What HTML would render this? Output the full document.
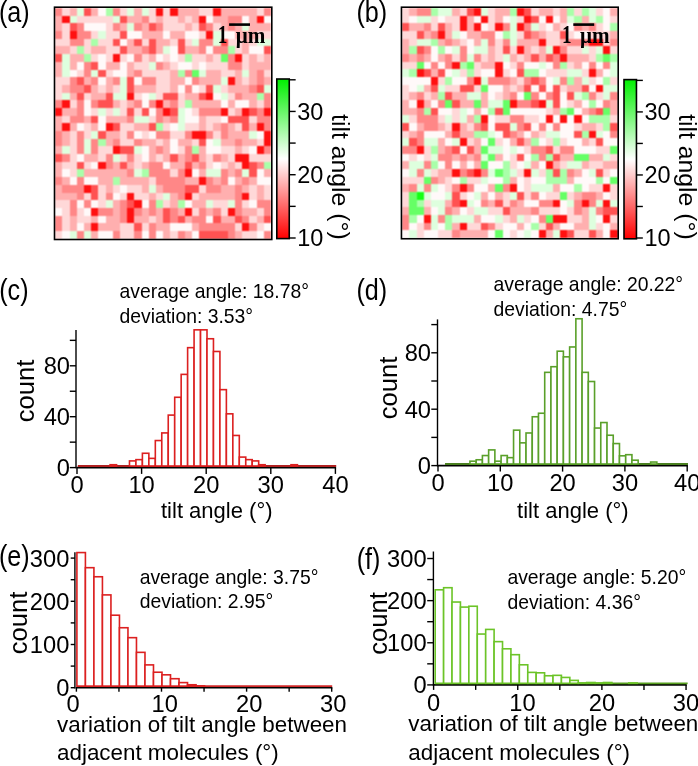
<!DOCTYPE html><html><head><meta charset="utf-8"><style>html,body{margin:0;padding:0;background:#fff;overflow:hidden}svg{display:block;will-change:transform}</style></head><body><svg width="698" height="766" viewBox="0 0 698 766">
<rect width="698" height="766" fill="#fff"/>
<text transform="translate(-1.10,22.40) scale(0.84,1)" font-family="Liberation Sans, sans-serif" font-size="30">(a)</text>
<text transform="translate(356.40,22.40) scale(0.84,1)" font-family="Liberation Sans, sans-serif" font-size="30">(b)</text>
<text transform="translate(-0.80,299.70) scale(0.84,1)" font-family="Liberation Sans, sans-serif" font-size="30">(c)</text>
<text transform="translate(356.40,299.70) scale(0.84,1)" font-family="Liberation Sans, sans-serif" font-size="30">(d)</text>
<text transform="translate(-1.10,565.50) scale(0.84,1)" font-family="Liberation Sans, sans-serif" font-size="30">(e)</text>
<text transform="translate(356.70,568.60) scale(0.84,1)" font-family="Liberation Sans, sans-serif" font-size="30">(f)</text>
<defs><filter id="blgridA" color-interpolation-filters="sRGB" x="-2%" y="-2%" width="104%" height="104%"><feConvolveMatrix order="3" kernelMatrix="1 2 1 2 4 2 1 2 1" divisor="16" edgeMode="duplicate"/></filter></defs>
<g shape-rendering="crispEdges" filter="url(#blgridA)">
<rect x="55.30" y="8.00" width="7.49" height="7.99" fill="#ff8787"/>
<rect x="62.49" y="8.00" width="7.49" height="7.99" fill="#ffd8d8"/>
<rect x="69.68" y="8.00" width="7.49" height="7.99" fill="#ffafaf"/>
<rect x="76.87" y="8.00" width="7.49" height="7.99" fill="#deffde"/>
<rect x="84.06" y="8.00" width="7.49" height="7.99" fill="#ff5252"/>
<rect x="91.25" y="8.00" width="7.49" height="7.99" fill="#ffafaf"/>
<rect x="98.44" y="8.00" width="7.49" height="7.99" fill="#fff9f9"/>
<rect x="105.63" y="8.00" width="7.49" height="7.99" fill="#a9ffa9"/>
<rect x="112.82" y="8.00" width="7.49" height="7.99" fill="#ff8787"/>
<rect x="120.01" y="8.00" width="7.49" height="7.99" fill="#ffd8d8"/>
<rect x="127.20" y="8.00" width="7.49" height="7.99" fill="#deffde"/>
<rect x="134.39" y="8.00" width="7.49" height="7.99" fill="#ffafaf"/>
<rect x="141.58" y="8.00" width="7.49" height="7.99" fill="#deffde"/>
<rect x="148.77" y="8.00" width="7.49" height="7.99" fill="#ffd8d8"/>
<rect x="155.96" y="8.00" width="7.49" height="7.99" fill="#ff1010"/>
<rect x="163.15" y="8.00" width="7.49" height="7.99" fill="#ffd8d8"/>
<rect x="170.34" y="8.00" width="7.49" height="7.99" fill="#ff1010"/>
<rect x="177.53" y="8.00" width="7.49" height="7.99" fill="#ffafaf"/>
<rect x="184.72" y="8.00" width="7.49" height="7.99" fill="#ffafaf"/>
<rect x="191.91" y="8.00" width="7.49" height="7.99" fill="#ffafaf"/>
<rect x="199.10" y="8.00" width="7.49" height="7.99" fill="#ffd8d8"/>
<rect x="206.29" y="8.00" width="7.49" height="7.99" fill="#ffd8d8"/>
<rect x="213.48" y="8.00" width="7.49" height="7.99" fill="#ff1010"/>
<rect x="220.67" y="8.00" width="7.49" height="7.99" fill="#ffafaf"/>
<rect x="227.86" y="8.00" width="7.49" height="7.99" fill="#ffafaf"/>
<rect x="235.05" y="8.00" width="7.49" height="7.99" fill="#ffafaf"/>
<rect x="242.24" y="8.00" width="7.49" height="7.99" fill="#ffafaf"/>
<rect x="249.43" y="8.00" width="7.49" height="7.99" fill="#ffafaf"/>
<rect x="256.62" y="8.00" width="7.49" height="7.99" fill="#ffd8d8"/>
<rect x="263.81" y="8.00" width="7.49" height="7.99" fill="#ff8787"/>
<rect x="55.30" y="15.69" width="7.49" height="7.99" fill="#ffafaf"/>
<rect x="62.49" y="15.69" width="7.49" height="7.99" fill="#ff1010"/>
<rect x="69.68" y="15.69" width="7.49" height="7.99" fill="#deffde"/>
<rect x="76.87" y="15.69" width="7.49" height="7.99" fill="#ffd8d8"/>
<rect x="84.06" y="15.69" width="7.49" height="7.99" fill="#ffd8d8"/>
<rect x="91.25" y="15.69" width="7.49" height="7.99" fill="#ffd8d8"/>
<rect x="98.44" y="15.69" width="7.49" height="7.99" fill="#ffd8d8"/>
<rect x="105.63" y="15.69" width="7.49" height="7.99" fill="#ffd8d8"/>
<rect x="112.82" y="15.69" width="7.49" height="7.99" fill="#deffde"/>
<rect x="120.01" y="15.69" width="7.49" height="7.99" fill="#ff5252"/>
<rect x="127.20" y="15.69" width="7.49" height="7.99" fill="#ffafaf"/>
<rect x="134.39" y="15.69" width="7.49" height="7.99" fill="#ffafaf"/>
<rect x="141.58" y="15.69" width="7.49" height="7.99" fill="#ff8787"/>
<rect x="148.77" y="15.69" width="7.49" height="7.99" fill="#ffd8d8"/>
<rect x="155.96" y="15.69" width="7.49" height="7.99" fill="#ffafaf"/>
<rect x="163.15" y="15.69" width="7.49" height="7.99" fill="#ffd8d8"/>
<rect x="170.34" y="15.69" width="7.49" height="7.99" fill="#ffd8d8"/>
<rect x="177.53" y="15.69" width="7.49" height="7.99" fill="#ffafaf"/>
<rect x="184.72" y="15.69" width="7.49" height="7.99" fill="#ffd8d8"/>
<rect x="191.91" y="15.69" width="7.49" height="7.99" fill="#ffafaf"/>
<rect x="199.10" y="15.69" width="7.49" height="7.99" fill="#ff1010"/>
<rect x="206.29" y="15.69" width="7.49" height="7.99" fill="#fff9f9"/>
<rect x="213.48" y="15.69" width="7.49" height="7.99" fill="#ffafaf"/>
<rect x="220.67" y="15.69" width="7.49" height="7.99" fill="#ffafaf"/>
<rect x="227.86" y="15.69" width="7.49" height="7.99" fill="#ff8787"/>
<rect x="235.05" y="15.69" width="7.49" height="7.99" fill="#ff8787"/>
<rect x="242.24" y="15.69" width="7.49" height="7.99" fill="#fff9f9"/>
<rect x="249.43" y="15.69" width="7.49" height="7.99" fill="#ffafaf"/>
<rect x="256.62" y="15.69" width="7.49" height="7.99" fill="#ff1010"/>
<rect x="263.81" y="15.69" width="7.49" height="7.99" fill="#fff9f9"/>
<rect x="55.30" y="23.38" width="7.49" height="7.99" fill="#ffafaf"/>
<rect x="62.49" y="23.38" width="7.49" height="7.99" fill="#ffd8d8"/>
<rect x="69.68" y="23.38" width="7.49" height="7.99" fill="#ff5252"/>
<rect x="76.87" y="23.38" width="7.49" height="7.99" fill="#ff8787"/>
<rect x="84.06" y="23.38" width="7.49" height="7.99" fill="#fff9f9"/>
<rect x="91.25" y="23.38" width="7.49" height="7.99" fill="#fff9f9"/>
<rect x="98.44" y="23.38" width="7.49" height="7.99" fill="#fff9f9"/>
<rect x="105.63" y="23.38" width="7.49" height="7.99" fill="#ffd8d8"/>
<rect x="112.82" y="23.38" width="7.49" height="7.99" fill="#ff8787"/>
<rect x="120.01" y="23.38" width="7.49" height="7.99" fill="#ffafaf"/>
<rect x="127.20" y="23.38" width="7.49" height="7.99" fill="#deffde"/>
<rect x="134.39" y="23.38" width="7.49" height="7.99" fill="#ff8787"/>
<rect x="141.58" y="23.38" width="7.49" height="7.99" fill="#ffafaf"/>
<rect x="148.77" y="23.38" width="7.49" height="7.99" fill="#ff5252"/>
<rect x="155.96" y="23.38" width="7.49" height="7.99" fill="#ff8787"/>
<rect x="163.15" y="23.38" width="7.49" height="7.99" fill="#ffd8d8"/>
<rect x="170.34" y="23.38" width="7.49" height="7.99" fill="#ffd8d8"/>
<rect x="177.53" y="23.38" width="7.49" height="7.99" fill="#ffd8d8"/>
<rect x="184.72" y="23.38" width="7.49" height="7.99" fill="#ffafaf"/>
<rect x="191.91" y="23.38" width="7.49" height="7.99" fill="#ffd8d8"/>
<rect x="199.10" y="23.38" width="7.49" height="7.99" fill="#ff5252"/>
<rect x="206.29" y="23.38" width="7.49" height="7.99" fill="#ff8787"/>
<rect x="213.48" y="23.38" width="7.49" height="7.99" fill="#ffd8d8"/>
<rect x="220.67" y="23.38" width="7.49" height="7.99" fill="#ffafaf"/>
<rect x="227.86" y="23.38" width="7.49" height="7.99" fill="#ff8787"/>
<rect x="235.05" y="23.38" width="7.49" height="7.99" fill="#ffafaf"/>
<rect x="242.24" y="23.38" width="7.49" height="7.99" fill="#deffde"/>
<rect x="249.43" y="23.38" width="7.49" height="7.99" fill="#ffafaf"/>
<rect x="256.62" y="23.38" width="7.49" height="7.99" fill="#ffafaf"/>
<rect x="263.81" y="23.38" width="7.49" height="7.99" fill="#ffafaf"/>
<rect x="55.30" y="31.07" width="7.49" height="7.99" fill="#ff8787"/>
<rect x="62.49" y="31.07" width="7.49" height="7.99" fill="#ffd8d8"/>
<rect x="69.68" y="31.07" width="7.49" height="7.99" fill="#ff1010"/>
<rect x="76.87" y="31.07" width="7.49" height="7.99" fill="#ff8787"/>
<rect x="84.06" y="31.07" width="7.49" height="7.99" fill="#ff8787"/>
<rect x="91.25" y="31.07" width="7.49" height="7.99" fill="#ffd8d8"/>
<rect x="98.44" y="31.07" width="7.49" height="7.99" fill="#deffde"/>
<rect x="105.63" y="31.07" width="7.49" height="7.99" fill="#ffd8d8"/>
<rect x="112.82" y="31.07" width="7.49" height="7.99" fill="#ffd8d8"/>
<rect x="120.01" y="31.07" width="7.49" height="7.99" fill="#ff5252"/>
<rect x="127.20" y="31.07" width="7.49" height="7.99" fill="#fff9f9"/>
<rect x="134.39" y="31.07" width="7.49" height="7.99" fill="#fff9f9"/>
<rect x="141.58" y="31.07" width="7.49" height="7.99" fill="#ffafaf"/>
<rect x="148.77" y="31.07" width="7.49" height="7.99" fill="#ffafaf"/>
<rect x="155.96" y="31.07" width="7.49" height="7.99" fill="#ffafaf"/>
<rect x="163.15" y="31.07" width="7.49" height="7.99" fill="#fff9f9"/>
<rect x="170.34" y="31.07" width="7.49" height="7.99" fill="#ffafaf"/>
<rect x="177.53" y="31.07" width="7.49" height="7.99" fill="#ffafaf"/>
<rect x="184.72" y="31.07" width="7.49" height="7.99" fill="#fff9f9"/>
<rect x="191.91" y="31.07" width="7.49" height="7.99" fill="#fff9f9"/>
<rect x="199.10" y="31.07" width="7.49" height="7.99" fill="#ffd8d8"/>
<rect x="206.29" y="31.07" width="7.49" height="7.99" fill="#ff1010"/>
<rect x="213.48" y="31.07" width="7.49" height="7.99" fill="#deffde"/>
<rect x="220.67" y="31.07" width="7.49" height="7.99" fill="#fff9f9"/>
<rect x="227.86" y="31.07" width="7.49" height="7.99" fill="#fff9f9"/>
<rect x="235.05" y="31.07" width="7.49" height="7.99" fill="#ffafaf"/>
<rect x="242.24" y="31.07" width="7.49" height="7.99" fill="#ffafaf"/>
<rect x="249.43" y="31.07" width="7.49" height="7.99" fill="#ffafaf"/>
<rect x="256.62" y="31.07" width="7.49" height="7.99" fill="#ffd8d8"/>
<rect x="263.81" y="31.07" width="7.49" height="7.99" fill="#ffd8d8"/>
<rect x="55.30" y="38.76" width="7.49" height="7.99" fill="#ffd8d8"/>
<rect x="62.49" y="38.76" width="7.49" height="7.99" fill="#ffd8d8"/>
<rect x="69.68" y="38.76" width="7.49" height="7.99" fill="#ff8787"/>
<rect x="76.87" y="38.76" width="7.49" height="7.99" fill="#ff8787"/>
<rect x="84.06" y="38.76" width="7.49" height="7.99" fill="#ffd8d8"/>
<rect x="91.25" y="38.76" width="7.49" height="7.99" fill="#a9ffa9"/>
<rect x="98.44" y="38.76" width="7.49" height="7.99" fill="#ffd8d8"/>
<rect x="105.63" y="38.76" width="7.49" height="7.99" fill="#ffd8d8"/>
<rect x="112.82" y="38.76" width="7.49" height="7.99" fill="#ff5252"/>
<rect x="120.01" y="38.76" width="7.49" height="7.99" fill="#fff9f9"/>
<rect x="127.20" y="38.76" width="7.49" height="7.99" fill="#ffafaf"/>
<rect x="134.39" y="38.76" width="7.49" height="7.99" fill="#ff5252"/>
<rect x="141.58" y="38.76" width="7.49" height="7.99" fill="#ffd8d8"/>
<rect x="148.77" y="38.76" width="7.49" height="7.99" fill="#ff5252"/>
<rect x="155.96" y="38.76" width="7.49" height="7.99" fill="#ffafaf"/>
<rect x="163.15" y="38.76" width="7.49" height="7.99" fill="#ffafaf"/>
<rect x="170.34" y="38.76" width="7.49" height="7.99" fill="#ffd8d8"/>
<rect x="177.53" y="38.76" width="7.49" height="7.99" fill="#ff5252"/>
<rect x="184.72" y="38.76" width="7.49" height="7.99" fill="#ffd8d8"/>
<rect x="191.91" y="38.76" width="7.49" height="7.99" fill="#deffde"/>
<rect x="199.10" y="38.76" width="7.49" height="7.99" fill="#ff8787"/>
<rect x="206.29" y="38.76" width="7.49" height="7.99" fill="#ff8787"/>
<rect x="213.48" y="38.76" width="7.49" height="7.99" fill="#deffde"/>
<rect x="220.67" y="38.76" width="7.49" height="7.99" fill="#ff5252"/>
<rect x="227.86" y="38.76" width="7.49" height="7.99" fill="#ffd8d8"/>
<rect x="235.05" y="38.76" width="7.49" height="7.99" fill="#ffd8d8"/>
<rect x="242.24" y="38.76" width="7.49" height="7.99" fill="#ffafaf"/>
<rect x="249.43" y="38.76" width="7.49" height="7.99" fill="#ffd8d8"/>
<rect x="256.62" y="38.76" width="7.49" height="7.99" fill="#deffde"/>
<rect x="263.81" y="38.76" width="7.49" height="7.99" fill="#deffde"/>
<rect x="55.30" y="46.45" width="7.49" height="7.99" fill="#ffafaf"/>
<rect x="62.49" y="46.45" width="7.49" height="7.99" fill="#ffafaf"/>
<rect x="69.68" y="46.45" width="7.49" height="7.99" fill="#ffd8d8"/>
<rect x="76.87" y="46.45" width="7.49" height="7.99" fill="#a9ffa9"/>
<rect x="84.06" y="46.45" width="7.49" height="7.99" fill="#ffd8d8"/>
<rect x="91.25" y="46.45" width="7.49" height="7.99" fill="#ffafaf"/>
<rect x="98.44" y="46.45" width="7.49" height="7.99" fill="#ffafaf"/>
<rect x="105.63" y="46.45" width="7.49" height="7.99" fill="#ffd8d8"/>
<rect x="112.82" y="46.45" width="7.49" height="7.99" fill="#ffd8d8"/>
<rect x="120.01" y="46.45" width="7.49" height="7.99" fill="#ff5252"/>
<rect x="127.20" y="46.45" width="7.49" height="7.99" fill="#ffafaf"/>
<rect x="134.39" y="46.45" width="7.49" height="7.99" fill="#ffafaf"/>
<rect x="141.58" y="46.45" width="7.49" height="7.99" fill="#ff8787"/>
<rect x="148.77" y="46.45" width="7.49" height="7.99" fill="#ff5252"/>
<rect x="155.96" y="46.45" width="7.49" height="7.99" fill="#ffafaf"/>
<rect x="163.15" y="46.45" width="7.49" height="7.99" fill="#deffde"/>
<rect x="170.34" y="46.45" width="7.49" height="7.99" fill="#fff9f9"/>
<rect x="177.53" y="46.45" width="7.49" height="7.99" fill="#ff5252"/>
<rect x="184.72" y="46.45" width="7.49" height="7.99" fill="#ffafaf"/>
<rect x="191.91" y="46.45" width="7.49" height="7.99" fill="#ffafaf"/>
<rect x="199.10" y="46.45" width="7.49" height="7.99" fill="#ff8787"/>
<rect x="206.29" y="46.45" width="7.49" height="7.99" fill="#fff9f9"/>
<rect x="213.48" y="46.45" width="7.49" height="7.99" fill="#ff8787"/>
<rect x="220.67" y="46.45" width="7.49" height="7.99" fill="#ff8787"/>
<rect x="227.86" y="46.45" width="7.49" height="7.99" fill="#a9ffa9"/>
<rect x="235.05" y="46.45" width="7.49" height="7.99" fill="#ffd8d8"/>
<rect x="242.24" y="46.45" width="7.49" height="7.99" fill="#ffafaf"/>
<rect x="249.43" y="46.45" width="7.49" height="7.99" fill="#fff9f9"/>
<rect x="256.62" y="46.45" width="7.49" height="7.99" fill="#fff9f9"/>
<rect x="263.81" y="46.45" width="7.49" height="7.99" fill="#ff5252"/>
<rect x="55.30" y="54.14" width="7.49" height="7.99" fill="#ff5252"/>
<rect x="62.49" y="54.14" width="7.49" height="7.99" fill="#deffde"/>
<rect x="69.68" y="54.14" width="7.49" height="7.99" fill="#ffafaf"/>
<rect x="76.87" y="54.14" width="7.49" height="7.99" fill="#ffafaf"/>
<rect x="84.06" y="54.14" width="7.49" height="7.99" fill="#a9ffa9"/>
<rect x="91.25" y="54.14" width="7.49" height="7.99" fill="#ffd8d8"/>
<rect x="98.44" y="54.14" width="7.49" height="7.99" fill="#fff9f9"/>
<rect x="105.63" y="54.14" width="7.49" height="7.99" fill="#ffd8d8"/>
<rect x="112.82" y="54.14" width="7.49" height="7.99" fill="#ff1010"/>
<rect x="120.01" y="54.14" width="7.49" height="7.99" fill="#ffd8d8"/>
<rect x="127.20" y="54.14" width="7.49" height="7.99" fill="#fff9f9"/>
<rect x="134.39" y="54.14" width="7.49" height="7.99" fill="#ff8787"/>
<rect x="141.58" y="54.14" width="7.49" height="7.99" fill="#ffd8d8"/>
<rect x="148.77" y="54.14" width="7.49" height="7.99" fill="#ffafaf"/>
<rect x="155.96" y="54.14" width="7.49" height="7.99" fill="#fff9f9"/>
<rect x="163.15" y="54.14" width="7.49" height="7.99" fill="#ffd8d8"/>
<rect x="170.34" y="54.14" width="7.49" height="7.99" fill="#fff9f9"/>
<rect x="177.53" y="54.14" width="7.49" height="7.99" fill="#ffd8d8"/>
<rect x="184.72" y="54.14" width="7.49" height="7.99" fill="#a9ffa9"/>
<rect x="191.91" y="54.14" width="7.49" height="7.99" fill="#ffd8d8"/>
<rect x="199.10" y="54.14" width="7.49" height="7.99" fill="#ffd8d8"/>
<rect x="206.29" y="54.14" width="7.49" height="7.99" fill="#ffafaf"/>
<rect x="213.48" y="54.14" width="7.49" height="7.99" fill="#ffd8d8"/>
<rect x="220.67" y="54.14" width="7.49" height="7.99" fill="#66ff66"/>
<rect x="227.86" y="54.14" width="7.49" height="7.99" fill="#ff8787"/>
<rect x="235.05" y="54.14" width="7.49" height="7.99" fill="#ff1010"/>
<rect x="242.24" y="54.14" width="7.49" height="7.99" fill="#ffd8d8"/>
<rect x="249.43" y="54.14" width="7.49" height="7.99" fill="#ffafaf"/>
<rect x="256.62" y="54.14" width="7.49" height="7.99" fill="#ffd8d8"/>
<rect x="263.81" y="54.14" width="7.49" height="7.99" fill="#ffafaf"/>
<rect x="55.30" y="61.83" width="7.49" height="7.99" fill="#ffafaf"/>
<rect x="62.49" y="61.83" width="7.49" height="7.99" fill="#deffde"/>
<rect x="69.68" y="61.83" width="7.49" height="7.99" fill="#ffafaf"/>
<rect x="76.87" y="61.83" width="7.49" height="7.99" fill="#fff9f9"/>
<rect x="84.06" y="61.83" width="7.49" height="7.99" fill="#ff8787"/>
<rect x="91.25" y="61.83" width="7.49" height="7.99" fill="#ff5252"/>
<rect x="98.44" y="61.83" width="7.49" height="7.99" fill="#fff9f9"/>
<rect x="105.63" y="61.83" width="7.49" height="7.99" fill="#ffafaf"/>
<rect x="112.82" y="61.83" width="7.49" height="7.99" fill="#ffafaf"/>
<rect x="120.01" y="61.83" width="7.49" height="7.99" fill="#fff9f9"/>
<rect x="127.20" y="61.83" width="7.49" height="7.99" fill="#ffafaf"/>
<rect x="134.39" y="61.83" width="7.49" height="7.99" fill="#ffd8d8"/>
<rect x="141.58" y="61.83" width="7.49" height="7.99" fill="#ffd8d8"/>
<rect x="148.77" y="61.83" width="7.49" height="7.99" fill="#deffde"/>
<rect x="155.96" y="61.83" width="7.49" height="7.99" fill="#ff8787"/>
<rect x="163.15" y="61.83" width="7.49" height="7.99" fill="#ffafaf"/>
<rect x="170.34" y="61.83" width="7.49" height="7.99" fill="#ffd8d8"/>
<rect x="177.53" y="61.83" width="7.49" height="7.99" fill="#fff9f9"/>
<rect x="184.72" y="61.83" width="7.49" height="7.99" fill="#fff9f9"/>
<rect x="191.91" y="61.83" width="7.49" height="7.99" fill="#ffd8d8"/>
<rect x="199.10" y="61.83" width="7.49" height="7.99" fill="#fff9f9"/>
<rect x="206.29" y="61.83" width="7.49" height="7.99" fill="#ffd8d8"/>
<rect x="213.48" y="61.83" width="7.49" height="7.99" fill="#ffd8d8"/>
<rect x="220.67" y="61.83" width="7.49" height="7.99" fill="#ffd8d8"/>
<rect x="227.86" y="61.83" width="7.49" height="7.99" fill="#ff8787"/>
<rect x="235.05" y="61.83" width="7.49" height="7.99" fill="#ff8787"/>
<rect x="242.24" y="61.83" width="7.49" height="7.99" fill="#ffd8d8"/>
<rect x="249.43" y="61.83" width="7.49" height="7.99" fill="#ffafaf"/>
<rect x="256.62" y="61.83" width="7.49" height="7.99" fill="#ffafaf"/>
<rect x="263.81" y="61.83" width="7.49" height="7.99" fill="#ffafaf"/>
<rect x="55.30" y="69.52" width="7.49" height="7.99" fill="#ffafaf"/>
<rect x="62.49" y="69.52" width="7.49" height="7.99" fill="#deffde"/>
<rect x="69.68" y="69.52" width="7.49" height="7.99" fill="#fff9f9"/>
<rect x="76.87" y="69.52" width="7.49" height="7.99" fill="#ffd8d8"/>
<rect x="84.06" y="69.52" width="7.49" height="7.99" fill="#ff8787"/>
<rect x="91.25" y="69.52" width="7.49" height="7.99" fill="#deffde"/>
<rect x="98.44" y="69.52" width="7.49" height="7.99" fill="#ff5252"/>
<rect x="105.63" y="69.52" width="7.49" height="7.99" fill="#ffd8d8"/>
<rect x="112.82" y="69.52" width="7.49" height="7.99" fill="#fff9f9"/>
<rect x="120.01" y="69.52" width="7.49" height="7.99" fill="#fff9f9"/>
<rect x="127.20" y="69.52" width="7.49" height="7.99" fill="#ffafaf"/>
<rect x="134.39" y="69.52" width="7.49" height="7.99" fill="#ff8787"/>
<rect x="141.58" y="69.52" width="7.49" height="7.99" fill="#ffd8d8"/>
<rect x="148.77" y="69.52" width="7.49" height="7.99" fill="#ffd8d8"/>
<rect x="155.96" y="69.52" width="7.49" height="7.99" fill="#ffd8d8"/>
<rect x="163.15" y="69.52" width="7.49" height="7.99" fill="#ffd8d8"/>
<rect x="170.34" y="69.52" width="7.49" height="7.99" fill="#ffafaf"/>
<rect x="177.53" y="69.52" width="7.49" height="7.99" fill="#a9ffa9"/>
<rect x="184.72" y="69.52" width="7.49" height="7.99" fill="#ff8787"/>
<rect x="191.91" y="69.52" width="7.49" height="7.99" fill="#66ff66"/>
<rect x="199.10" y="69.52" width="7.49" height="7.99" fill="#deffde"/>
<rect x="206.29" y="69.52" width="7.49" height="7.99" fill="#ffafaf"/>
<rect x="213.48" y="69.52" width="7.49" height="7.99" fill="#ffafaf"/>
<rect x="220.67" y="69.52" width="7.49" height="7.99" fill="#ffd8d8"/>
<rect x="227.86" y="69.52" width="7.49" height="7.99" fill="#ffd8d8"/>
<rect x="235.05" y="69.52" width="7.49" height="7.99" fill="#ffafaf"/>
<rect x="242.24" y="69.52" width="7.49" height="7.99" fill="#deffde"/>
<rect x="249.43" y="69.52" width="7.49" height="7.99" fill="#ffafaf"/>
<rect x="256.62" y="69.52" width="7.49" height="7.99" fill="#ff8787"/>
<rect x="263.81" y="69.52" width="7.49" height="7.99" fill="#ffd8d8"/>
<rect x="55.30" y="77.21" width="7.49" height="7.99" fill="#ffd8d8"/>
<rect x="62.49" y="77.21" width="7.49" height="7.99" fill="#ffd8d8"/>
<rect x="69.68" y="77.21" width="7.49" height="7.99" fill="#ff8787"/>
<rect x="76.87" y="77.21" width="7.49" height="7.99" fill="#ff5252"/>
<rect x="84.06" y="77.21" width="7.49" height="7.99" fill="#ffafaf"/>
<rect x="91.25" y="77.21" width="7.49" height="7.99" fill="#ff8787"/>
<rect x="98.44" y="77.21" width="7.49" height="7.99" fill="#fff9f9"/>
<rect x="105.63" y="77.21" width="7.49" height="7.99" fill="#ffafaf"/>
<rect x="112.82" y="77.21" width="7.49" height="7.99" fill="#ff8787"/>
<rect x="120.01" y="77.21" width="7.49" height="7.99" fill="#deffde"/>
<rect x="127.20" y="77.21" width="7.49" height="7.99" fill="#ff5252"/>
<rect x="134.39" y="77.21" width="7.49" height="7.99" fill="#fff9f9"/>
<rect x="141.58" y="77.21" width="7.49" height="7.99" fill="#ff8787"/>
<rect x="148.77" y="77.21" width="7.49" height="7.99" fill="#ff8787"/>
<rect x="155.96" y="77.21" width="7.49" height="7.99" fill="#ffd8d8"/>
<rect x="163.15" y="77.21" width="7.49" height="7.99" fill="#ffd8d8"/>
<rect x="170.34" y="77.21" width="7.49" height="7.99" fill="#ffafaf"/>
<rect x="177.53" y="77.21" width="7.49" height="7.99" fill="#ffafaf"/>
<rect x="184.72" y="77.21" width="7.49" height="7.99" fill="#fff9f9"/>
<rect x="191.91" y="77.21" width="7.49" height="7.99" fill="#ff8787"/>
<rect x="199.10" y="77.21" width="7.49" height="7.99" fill="#ffafaf"/>
<rect x="206.29" y="77.21" width="7.49" height="7.99" fill="#ffafaf"/>
<rect x="213.48" y="77.21" width="7.49" height="7.99" fill="#ffafaf"/>
<rect x="220.67" y="77.21" width="7.49" height="7.99" fill="#deffde"/>
<rect x="227.86" y="77.21" width="7.49" height="7.99" fill="#ff1010"/>
<rect x="235.05" y="77.21" width="7.49" height="7.99" fill="#ffafaf"/>
<rect x="242.24" y="77.21" width="7.49" height="7.99" fill="#ffd8d8"/>
<rect x="249.43" y="77.21" width="7.49" height="7.99" fill="#ffafaf"/>
<rect x="256.62" y="77.21" width="7.49" height="7.99" fill="#ff8787"/>
<rect x="263.81" y="77.21" width="7.49" height="7.99" fill="#ffafaf"/>
<rect x="55.30" y="84.90" width="7.49" height="7.99" fill="#ffd8d8"/>
<rect x="62.49" y="84.90" width="7.49" height="7.99" fill="#ffafaf"/>
<rect x="69.68" y="84.90" width="7.49" height="7.99" fill="#ff8787"/>
<rect x="76.87" y="84.90" width="7.49" height="7.99" fill="#ff8787"/>
<rect x="84.06" y="84.90" width="7.49" height="7.99" fill="#ff5252"/>
<rect x="91.25" y="84.90" width="7.49" height="7.99" fill="#ffafaf"/>
<rect x="98.44" y="84.90" width="7.49" height="7.99" fill="#ffd8d8"/>
<rect x="105.63" y="84.90" width="7.49" height="7.99" fill="#ffafaf"/>
<rect x="112.82" y="84.90" width="7.49" height="7.99" fill="#ffd8d8"/>
<rect x="120.01" y="84.90" width="7.49" height="7.99" fill="#deffde"/>
<rect x="127.20" y="84.90" width="7.49" height="7.99" fill="#ff5252"/>
<rect x="134.39" y="84.90" width="7.49" height="7.99" fill="#ffafaf"/>
<rect x="141.58" y="84.90" width="7.49" height="7.99" fill="#ffafaf"/>
<rect x="148.77" y="84.90" width="7.49" height="7.99" fill="#ffafaf"/>
<rect x="155.96" y="84.90" width="7.49" height="7.99" fill="#ffd8d8"/>
<rect x="163.15" y="84.90" width="7.49" height="7.99" fill="#ffd8d8"/>
<rect x="170.34" y="84.90" width="7.49" height="7.99" fill="#ffafaf"/>
<rect x="177.53" y="84.90" width="7.49" height="7.99" fill="#fff9f9"/>
<rect x="184.72" y="84.90" width="7.49" height="7.99" fill="#ff8787"/>
<rect x="191.91" y="84.90" width="7.49" height="7.99" fill="#fff9f9"/>
<rect x="199.10" y="84.90" width="7.49" height="7.99" fill="#ffd8d8"/>
<rect x="206.29" y="84.90" width="7.49" height="7.99" fill="#ff5252"/>
<rect x="213.48" y="84.90" width="7.49" height="7.99" fill="#deffde"/>
<rect x="220.67" y="84.90" width="7.49" height="7.99" fill="#ffd8d8"/>
<rect x="227.86" y="84.90" width="7.49" height="7.99" fill="#ffafaf"/>
<rect x="235.05" y="84.90" width="7.49" height="7.99" fill="#ffafaf"/>
<rect x="242.24" y="84.90" width="7.49" height="7.99" fill="#ffafaf"/>
<rect x="249.43" y="84.90" width="7.49" height="7.99" fill="#ff8787"/>
<rect x="256.62" y="84.90" width="7.49" height="7.99" fill="#ff5252"/>
<rect x="263.81" y="84.90" width="7.49" height="7.99" fill="#deffde"/>
<rect x="55.30" y="92.59" width="7.49" height="7.99" fill="#ffd8d8"/>
<rect x="62.49" y="92.59" width="7.49" height="7.99" fill="#deffde"/>
<rect x="69.68" y="92.59" width="7.49" height="7.99" fill="#ffafaf"/>
<rect x="76.87" y="92.59" width="7.49" height="7.99" fill="#ff5252"/>
<rect x="84.06" y="92.59" width="7.49" height="7.99" fill="#ffd8d8"/>
<rect x="91.25" y="92.59" width="7.49" height="7.99" fill="#ffafaf"/>
<rect x="98.44" y="92.59" width="7.49" height="7.99" fill="#ffafaf"/>
<rect x="105.63" y="92.59" width="7.49" height="7.99" fill="#ff5252"/>
<rect x="112.82" y="92.59" width="7.49" height="7.99" fill="#deffde"/>
<rect x="120.01" y="92.59" width="7.49" height="7.99" fill="#deffde"/>
<rect x="127.20" y="92.59" width="7.49" height="7.99" fill="#ff1010"/>
<rect x="134.39" y="92.59" width="7.49" height="7.99" fill="#ffd8d8"/>
<rect x="141.58" y="92.59" width="7.49" height="7.99" fill="#fff9f9"/>
<rect x="148.77" y="92.59" width="7.49" height="7.99" fill="#deffde"/>
<rect x="155.96" y="92.59" width="7.49" height="7.99" fill="#ffd8d8"/>
<rect x="163.15" y="92.59" width="7.49" height="7.99" fill="#ff5252"/>
<rect x="170.34" y="92.59" width="7.49" height="7.99" fill="#ff5252"/>
<rect x="177.53" y="92.59" width="7.49" height="7.99" fill="#ffd8d8"/>
<rect x="184.72" y="92.59" width="7.49" height="7.99" fill="#ffafaf"/>
<rect x="191.91" y="92.59" width="7.49" height="7.99" fill="#ffafaf"/>
<rect x="199.10" y="92.59" width="7.49" height="7.99" fill="#ff5252"/>
<rect x="206.29" y="92.59" width="7.49" height="7.99" fill="#ff1010"/>
<rect x="213.48" y="92.59" width="7.49" height="7.99" fill="#fff9f9"/>
<rect x="220.67" y="92.59" width="7.49" height="7.99" fill="#deffde"/>
<rect x="227.86" y="92.59" width="7.49" height="7.99" fill="#ffd8d8"/>
<rect x="235.05" y="92.59" width="7.49" height="7.99" fill="#ff8787"/>
<rect x="242.24" y="92.59" width="7.49" height="7.99" fill="#ffafaf"/>
<rect x="249.43" y="92.59" width="7.49" height="7.99" fill="#ffafaf"/>
<rect x="256.62" y="92.59" width="7.49" height="7.99" fill="#a9ffa9"/>
<rect x="263.81" y="92.59" width="7.49" height="7.99" fill="#ff8787"/>
<rect x="55.30" y="100.28" width="7.49" height="7.99" fill="#ff8787"/>
<rect x="62.49" y="100.28" width="7.49" height="7.99" fill="#ff1010"/>
<rect x="69.68" y="100.28" width="7.49" height="7.99" fill="#ffd8d8"/>
<rect x="76.87" y="100.28" width="7.49" height="7.99" fill="#ff8787"/>
<rect x="84.06" y="100.28" width="7.49" height="7.99" fill="#fff9f9"/>
<rect x="91.25" y="100.28" width="7.49" height="7.99" fill="#ff8787"/>
<rect x="98.44" y="100.28" width="7.49" height="7.99" fill="#ff5252"/>
<rect x="105.63" y="100.28" width="7.49" height="7.99" fill="#ff5252"/>
<rect x="112.82" y="100.28" width="7.49" height="7.99" fill="#ffafaf"/>
<rect x="120.01" y="100.28" width="7.49" height="7.99" fill="#ffd8d8"/>
<rect x="127.20" y="100.28" width="7.49" height="7.99" fill="#ffafaf"/>
<rect x="134.39" y="100.28" width="7.49" height="7.99" fill="#ff8787"/>
<rect x="141.58" y="100.28" width="7.49" height="7.99" fill="#fff9f9"/>
<rect x="148.77" y="100.28" width="7.49" height="7.99" fill="#ff8787"/>
<rect x="155.96" y="100.28" width="7.49" height="7.99" fill="#ff1010"/>
<rect x="163.15" y="100.28" width="7.49" height="7.99" fill="#ffafaf"/>
<rect x="170.34" y="100.28" width="7.49" height="7.99" fill="#ff8787"/>
<rect x="177.53" y="100.28" width="7.49" height="7.99" fill="#ffd8d8"/>
<rect x="184.72" y="100.28" width="7.49" height="7.99" fill="#a9ffa9"/>
<rect x="191.91" y="100.28" width="7.49" height="7.99" fill="#ffafaf"/>
<rect x="199.10" y="100.28" width="7.49" height="7.99" fill="#ffafaf"/>
<rect x="206.29" y="100.28" width="7.49" height="7.99" fill="#ffafaf"/>
<rect x="213.48" y="100.28" width="7.49" height="7.99" fill="#ffafaf"/>
<rect x="220.67" y="100.28" width="7.49" height="7.99" fill="#fff9f9"/>
<rect x="227.86" y="100.28" width="7.49" height="7.99" fill="#ffafaf"/>
<rect x="235.05" y="100.28" width="7.49" height="7.99" fill="#fff9f9"/>
<rect x="242.24" y="100.28" width="7.49" height="7.99" fill="#fff9f9"/>
<rect x="249.43" y="100.28" width="7.49" height="7.99" fill="#ffafaf"/>
<rect x="256.62" y="100.28" width="7.49" height="7.99" fill="#ffd8d8"/>
<rect x="263.81" y="100.28" width="7.49" height="7.99" fill="#ff8787"/>
<rect x="55.30" y="107.97" width="7.49" height="7.99" fill="#ff1010"/>
<rect x="62.49" y="107.97" width="7.49" height="7.99" fill="#ffafaf"/>
<rect x="69.68" y="107.97" width="7.49" height="7.99" fill="#ffafaf"/>
<rect x="76.87" y="107.97" width="7.49" height="7.99" fill="#ff8787"/>
<rect x="84.06" y="107.97" width="7.49" height="7.99" fill="#fff9f9"/>
<rect x="91.25" y="107.97" width="7.49" height="7.99" fill="#ffd8d8"/>
<rect x="98.44" y="107.97" width="7.49" height="7.99" fill="#deffde"/>
<rect x="105.63" y="107.97" width="7.49" height="7.99" fill="#ffd8d8"/>
<rect x="112.82" y="107.97" width="7.49" height="7.99" fill="#deffde"/>
<rect x="120.01" y="107.97" width="7.49" height="7.99" fill="#ffd8d8"/>
<rect x="127.20" y="107.97" width="7.49" height="7.99" fill="#ff5252"/>
<rect x="134.39" y="107.97" width="7.49" height="7.99" fill="#ffd8d8"/>
<rect x="141.58" y="107.97" width="7.49" height="7.99" fill="#ff5252"/>
<rect x="148.77" y="107.97" width="7.49" height="7.99" fill="#fff9f9"/>
<rect x="155.96" y="107.97" width="7.49" height="7.99" fill="#ff8787"/>
<rect x="163.15" y="107.97" width="7.49" height="7.99" fill="#ff1010"/>
<rect x="170.34" y="107.97" width="7.49" height="7.99" fill="#ff5252"/>
<rect x="177.53" y="107.97" width="7.49" height="7.99" fill="#deffde"/>
<rect x="184.72" y="107.97" width="7.49" height="7.99" fill="#fff9f9"/>
<rect x="191.91" y="107.97" width="7.49" height="7.99" fill="#ffd8d8"/>
<rect x="199.10" y="107.97" width="7.49" height="7.99" fill="#ff8787"/>
<rect x="206.29" y="107.97" width="7.49" height="7.99" fill="#ff8787"/>
<rect x="213.48" y="107.97" width="7.49" height="7.99" fill="#ff8787"/>
<rect x="220.67" y="107.97" width="7.49" height="7.99" fill="#ff1010"/>
<rect x="227.86" y="107.97" width="7.49" height="7.99" fill="#ffd8d8"/>
<rect x="235.05" y="107.97" width="7.49" height="7.99" fill="#ffafaf"/>
<rect x="242.24" y="107.97" width="7.49" height="7.99" fill="#ff1010"/>
<rect x="249.43" y="107.97" width="7.49" height="7.99" fill="#ff5252"/>
<rect x="256.62" y="107.97" width="7.49" height="7.99" fill="#ff8787"/>
<rect x="263.81" y="107.97" width="7.49" height="7.99" fill="#ff1010"/>
<rect x="55.30" y="115.66" width="7.49" height="7.99" fill="#ffafaf"/>
<rect x="62.49" y="115.66" width="7.49" height="7.99" fill="#ffd8d8"/>
<rect x="69.68" y="115.66" width="7.49" height="7.99" fill="#ff8787"/>
<rect x="76.87" y="115.66" width="7.49" height="7.99" fill="#ff8787"/>
<rect x="84.06" y="115.66" width="7.49" height="7.99" fill="#ffafaf"/>
<rect x="91.25" y="115.66" width="7.49" height="7.99" fill="#ff5252"/>
<rect x="98.44" y="115.66" width="7.49" height="7.99" fill="#fff9f9"/>
<rect x="105.63" y="115.66" width="7.49" height="7.99" fill="#ffafaf"/>
<rect x="112.82" y="115.66" width="7.49" height="7.99" fill="#ffafaf"/>
<rect x="120.01" y="115.66" width="7.49" height="7.99" fill="#ffafaf"/>
<rect x="127.20" y="115.66" width="7.49" height="7.99" fill="#ff8787"/>
<rect x="134.39" y="115.66" width="7.49" height="7.99" fill="#deffde"/>
<rect x="141.58" y="115.66" width="7.49" height="7.99" fill="#deffde"/>
<rect x="148.77" y="115.66" width="7.49" height="7.99" fill="#ffd8d8"/>
<rect x="155.96" y="115.66" width="7.49" height="7.99" fill="#ff8787"/>
<rect x="163.15" y="115.66" width="7.49" height="7.99" fill="#ffafaf"/>
<rect x="170.34" y="115.66" width="7.49" height="7.99" fill="#ff8787"/>
<rect x="177.53" y="115.66" width="7.49" height="7.99" fill="#deffde"/>
<rect x="184.72" y="115.66" width="7.49" height="7.99" fill="#fff9f9"/>
<rect x="191.91" y="115.66" width="7.49" height="7.99" fill="#fff9f9"/>
<rect x="199.10" y="115.66" width="7.49" height="7.99" fill="#ffafaf"/>
<rect x="206.29" y="115.66" width="7.49" height="7.99" fill="#ffd8d8"/>
<rect x="213.48" y="115.66" width="7.49" height="7.99" fill="#ffd8d8"/>
<rect x="220.67" y="115.66" width="7.49" height="7.99" fill="#fff9f9"/>
<rect x="227.86" y="115.66" width="7.49" height="7.99" fill="#ff5252"/>
<rect x="235.05" y="115.66" width="7.49" height="7.99" fill="#ff5252"/>
<rect x="242.24" y="115.66" width="7.49" height="7.99" fill="#ff5252"/>
<rect x="249.43" y="115.66" width="7.49" height="7.99" fill="#ffd8d8"/>
<rect x="256.62" y="115.66" width="7.49" height="7.99" fill="#ff8787"/>
<rect x="263.81" y="115.66" width="7.49" height="7.99" fill="#ff8787"/>
<rect x="55.30" y="123.35" width="7.49" height="7.99" fill="#ffafaf"/>
<rect x="62.49" y="123.35" width="7.49" height="7.99" fill="#ff1010"/>
<rect x="69.68" y="123.35" width="7.49" height="7.99" fill="#ffafaf"/>
<rect x="76.87" y="123.35" width="7.49" height="7.99" fill="#fff9f9"/>
<rect x="84.06" y="123.35" width="7.49" height="7.99" fill="#ffd8d8"/>
<rect x="91.25" y="123.35" width="7.49" height="7.99" fill="#ffafaf"/>
<rect x="98.44" y="123.35" width="7.49" height="7.99" fill="#fff9f9"/>
<rect x="105.63" y="123.35" width="7.49" height="7.99" fill="#ff1010"/>
<rect x="112.82" y="123.35" width="7.49" height="7.99" fill="#ff5252"/>
<rect x="120.01" y="123.35" width="7.49" height="7.99" fill="#ffd8d8"/>
<rect x="127.20" y="123.35" width="7.49" height="7.99" fill="#ffd8d8"/>
<rect x="134.39" y="123.35" width="7.49" height="7.99" fill="#ffafaf"/>
<rect x="141.58" y="123.35" width="7.49" height="7.99" fill="#ffafaf"/>
<rect x="148.77" y="123.35" width="7.49" height="7.99" fill="#ff5252"/>
<rect x="155.96" y="123.35" width="7.49" height="7.99" fill="#a9ffa9"/>
<rect x="163.15" y="123.35" width="7.49" height="7.99" fill="#ffd8d8"/>
<rect x="170.34" y="123.35" width="7.49" height="7.99" fill="#fff9f9"/>
<rect x="177.53" y="123.35" width="7.49" height="7.99" fill="#deffde"/>
<rect x="184.72" y="123.35" width="7.49" height="7.99" fill="#ffd8d8"/>
<rect x="191.91" y="123.35" width="7.49" height="7.99" fill="#ffd8d8"/>
<rect x="199.10" y="123.35" width="7.49" height="7.99" fill="#ffafaf"/>
<rect x="206.29" y="123.35" width="7.49" height="7.99" fill="#ffd8d8"/>
<rect x="213.48" y="123.35" width="7.49" height="7.99" fill="#ffafaf"/>
<rect x="220.67" y="123.35" width="7.49" height="7.99" fill="#ff8787"/>
<rect x="227.86" y="123.35" width="7.49" height="7.99" fill="#ffafaf"/>
<rect x="235.05" y="123.35" width="7.49" height="7.99" fill="#ffd8d8"/>
<rect x="242.24" y="123.35" width="7.49" height="7.99" fill="#ff5252"/>
<rect x="249.43" y="123.35" width="7.49" height="7.99" fill="#ffafaf"/>
<rect x="256.62" y="123.35" width="7.49" height="7.99" fill="#ff1010"/>
<rect x="263.81" y="123.35" width="7.49" height="7.99" fill="#ff8787"/>
<rect x="55.30" y="131.04" width="7.49" height="7.99" fill="#ff8787"/>
<rect x="62.49" y="131.04" width="7.49" height="7.99" fill="#ffafaf"/>
<rect x="69.68" y="131.04" width="7.49" height="7.99" fill="#ffd8d8"/>
<rect x="76.87" y="131.04" width="7.49" height="7.99" fill="#ff8787"/>
<rect x="84.06" y="131.04" width="7.49" height="7.99" fill="#ffd8d8"/>
<rect x="91.25" y="131.04" width="7.49" height="7.99" fill="#deffde"/>
<rect x="98.44" y="131.04" width="7.49" height="7.99" fill="#ff5252"/>
<rect x="105.63" y="131.04" width="7.49" height="7.99" fill="#ffafaf"/>
<rect x="112.82" y="131.04" width="7.49" height="7.99" fill="#ffafaf"/>
<rect x="120.01" y="131.04" width="7.49" height="7.99" fill="#ffd8d8"/>
<rect x="127.20" y="131.04" width="7.49" height="7.99" fill="#ff8787"/>
<rect x="134.39" y="131.04" width="7.49" height="7.99" fill="#fff9f9"/>
<rect x="141.58" y="131.04" width="7.49" height="7.99" fill="#ffd8d8"/>
<rect x="148.77" y="131.04" width="7.49" height="7.99" fill="#fff9f9"/>
<rect x="155.96" y="131.04" width="7.49" height="7.99" fill="#ff8787"/>
<rect x="163.15" y="131.04" width="7.49" height="7.99" fill="#ff8787"/>
<rect x="170.34" y="131.04" width="7.49" height="7.99" fill="#ffd8d8"/>
<rect x="177.53" y="131.04" width="7.49" height="7.99" fill="#ffd8d8"/>
<rect x="184.72" y="131.04" width="7.49" height="7.99" fill="#ff8787"/>
<rect x="191.91" y="131.04" width="7.49" height="7.99" fill="#ff1010"/>
<rect x="199.10" y="131.04" width="7.49" height="7.99" fill="#ff1010"/>
<rect x="206.29" y="131.04" width="7.49" height="7.99" fill="#ff8787"/>
<rect x="213.48" y="131.04" width="7.49" height="7.99" fill="#ffd8d8"/>
<rect x="220.67" y="131.04" width="7.49" height="7.99" fill="#ff8787"/>
<rect x="227.86" y="131.04" width="7.49" height="7.99" fill="#ffafaf"/>
<rect x="235.05" y="131.04" width="7.49" height="7.99" fill="#ffafaf"/>
<rect x="242.24" y="131.04" width="7.49" height="7.99" fill="#ffafaf"/>
<rect x="249.43" y="131.04" width="7.49" height="7.99" fill="#deffde"/>
<rect x="256.62" y="131.04" width="7.49" height="7.99" fill="#fff9f9"/>
<rect x="263.81" y="131.04" width="7.49" height="7.99" fill="#ff1010"/>
<rect x="55.30" y="138.73" width="7.49" height="7.99" fill="#ff8787"/>
<rect x="62.49" y="138.73" width="7.49" height="7.99" fill="#ffafaf"/>
<rect x="69.68" y="138.73" width="7.49" height="7.99" fill="#ffd8d8"/>
<rect x="76.87" y="138.73" width="7.49" height="7.99" fill="#ff8787"/>
<rect x="84.06" y="138.73" width="7.49" height="7.99" fill="#deffde"/>
<rect x="91.25" y="138.73" width="7.49" height="7.99" fill="#ff8787"/>
<rect x="98.44" y="138.73" width="7.49" height="7.99" fill="#a9ffa9"/>
<rect x="105.63" y="138.73" width="7.49" height="7.99" fill="#ffafaf"/>
<rect x="112.82" y="138.73" width="7.49" height="7.99" fill="#ff8787"/>
<rect x="120.01" y="138.73" width="7.49" height="7.99" fill="#ffd8d8"/>
<rect x="127.20" y="138.73" width="7.49" height="7.99" fill="#ffd8d8"/>
<rect x="134.39" y="138.73" width="7.49" height="7.99" fill="#ff8787"/>
<rect x="141.58" y="138.73" width="7.49" height="7.99" fill="#ffafaf"/>
<rect x="148.77" y="138.73" width="7.49" height="7.99" fill="#ffafaf"/>
<rect x="155.96" y="138.73" width="7.49" height="7.99" fill="#ffd8d8"/>
<rect x="163.15" y="138.73" width="7.49" height="7.99" fill="#ffafaf"/>
<rect x="170.34" y="138.73" width="7.49" height="7.99" fill="#fff9f9"/>
<rect x="177.53" y="138.73" width="7.49" height="7.99" fill="#ffafaf"/>
<rect x="184.72" y="138.73" width="7.49" height="7.99" fill="#ffafaf"/>
<rect x="191.91" y="138.73" width="7.49" height="7.99" fill="#ffd8d8"/>
<rect x="199.10" y="138.73" width="7.49" height="7.99" fill="#ff5252"/>
<rect x="206.29" y="138.73" width="7.49" height="7.99" fill="#fff9f9"/>
<rect x="213.48" y="138.73" width="7.49" height="7.99" fill="#deffde"/>
<rect x="220.67" y="138.73" width="7.49" height="7.99" fill="#ffafaf"/>
<rect x="227.86" y="138.73" width="7.49" height="7.99" fill="#ffafaf"/>
<rect x="235.05" y="138.73" width="7.49" height="7.99" fill="#ff8787"/>
<rect x="242.24" y="138.73" width="7.49" height="7.99" fill="#ffafaf"/>
<rect x="249.43" y="138.73" width="7.49" height="7.99" fill="#ffafaf"/>
<rect x="256.62" y="138.73" width="7.49" height="7.99" fill="#ffd8d8"/>
<rect x="263.81" y="138.73" width="7.49" height="7.99" fill="#ff1010"/>
<rect x="55.30" y="146.42" width="7.49" height="7.99" fill="#ffafaf"/>
<rect x="62.49" y="146.42" width="7.49" height="7.99" fill="#deffde"/>
<rect x="69.68" y="146.42" width="7.49" height="7.99" fill="#ffd8d8"/>
<rect x="76.87" y="146.42" width="7.49" height="7.99" fill="#ff8787"/>
<rect x="84.06" y="146.42" width="7.49" height="7.99" fill="#deffde"/>
<rect x="91.25" y="146.42" width="7.49" height="7.99" fill="#ff8787"/>
<rect x="98.44" y="146.42" width="7.49" height="7.99" fill="#ffd8d8"/>
<rect x="105.63" y="146.42" width="7.49" height="7.99" fill="#ffd8d8"/>
<rect x="112.82" y="146.42" width="7.49" height="7.99" fill="#ff1010"/>
<rect x="120.01" y="146.42" width="7.49" height="7.99" fill="#ff5252"/>
<rect x="127.20" y="146.42" width="7.49" height="7.99" fill="#ff5252"/>
<rect x="134.39" y="146.42" width="7.49" height="7.99" fill="#deffde"/>
<rect x="141.58" y="146.42" width="7.49" height="7.99" fill="#fff9f9"/>
<rect x="148.77" y="146.42" width="7.49" height="7.99" fill="#ffafaf"/>
<rect x="155.96" y="146.42" width="7.49" height="7.99" fill="#ff8787"/>
<rect x="163.15" y="146.42" width="7.49" height="7.99" fill="#ffafaf"/>
<rect x="170.34" y="146.42" width="7.49" height="7.99" fill="#fff9f9"/>
<rect x="177.53" y="146.42" width="7.49" height="7.99" fill="#ffd8d8"/>
<rect x="184.72" y="146.42" width="7.49" height="7.99" fill="#ff8787"/>
<rect x="191.91" y="146.42" width="7.49" height="7.99" fill="#a9ffa9"/>
<rect x="199.10" y="146.42" width="7.49" height="7.99" fill="#ffafaf"/>
<rect x="206.29" y="146.42" width="7.49" height="7.99" fill="#fff9f9"/>
<rect x="213.48" y="146.42" width="7.49" height="7.99" fill="#fff9f9"/>
<rect x="220.67" y="146.42" width="7.49" height="7.99" fill="#ffd8d8"/>
<rect x="227.86" y="146.42" width="7.49" height="7.99" fill="#ffd8d8"/>
<rect x="235.05" y="146.42" width="7.49" height="7.99" fill="#ffafaf"/>
<rect x="242.24" y="146.42" width="7.49" height="7.99" fill="#ffd8d8"/>
<rect x="249.43" y="146.42" width="7.49" height="7.99" fill="#fff9f9"/>
<rect x="256.62" y="146.42" width="7.49" height="7.99" fill="#ff1010"/>
<rect x="263.81" y="146.42" width="7.49" height="7.99" fill="#ff8787"/>
<rect x="55.30" y="154.11" width="7.49" height="7.99" fill="#ff5252"/>
<rect x="62.49" y="154.11" width="7.49" height="7.99" fill="#ff8787"/>
<rect x="69.68" y="154.11" width="7.49" height="7.99" fill="#ffd8d8"/>
<rect x="76.87" y="154.11" width="7.49" height="7.99" fill="#fff9f9"/>
<rect x="84.06" y="154.11" width="7.49" height="7.99" fill="#ffafaf"/>
<rect x="91.25" y="154.11" width="7.49" height="7.99" fill="#ffafaf"/>
<rect x="98.44" y="154.11" width="7.49" height="7.99" fill="#ffd8d8"/>
<rect x="105.63" y="154.11" width="7.49" height="7.99" fill="#ff8787"/>
<rect x="112.82" y="154.11" width="7.49" height="7.99" fill="#deffde"/>
<rect x="120.01" y="154.11" width="7.49" height="7.99" fill="#ffd8d8"/>
<rect x="127.20" y="154.11" width="7.49" height="7.99" fill="#ff8787"/>
<rect x="134.39" y="154.11" width="7.49" height="7.99" fill="#ffd8d8"/>
<rect x="141.58" y="154.11" width="7.49" height="7.99" fill="#fff9f9"/>
<rect x="148.77" y="154.11" width="7.49" height="7.99" fill="#ffafaf"/>
<rect x="155.96" y="154.11" width="7.49" height="7.99" fill="#ffd8d8"/>
<rect x="163.15" y="154.11" width="7.49" height="7.99" fill="#ffafaf"/>
<rect x="170.34" y="154.11" width="7.49" height="7.99" fill="#ff5252"/>
<rect x="177.53" y="154.11" width="7.49" height="7.99" fill="#ffafaf"/>
<rect x="184.72" y="154.11" width="7.49" height="7.99" fill="#ff8787"/>
<rect x="191.91" y="154.11" width="7.49" height="7.99" fill="#ff5252"/>
<rect x="199.10" y="154.11" width="7.49" height="7.99" fill="#ffafaf"/>
<rect x="206.29" y="154.11" width="7.49" height="7.99" fill="#ffd8d8"/>
<rect x="213.48" y="154.11" width="7.49" height="7.99" fill="#ff8787"/>
<rect x="220.67" y="154.11" width="7.49" height="7.99" fill="#ffafaf"/>
<rect x="227.86" y="154.11" width="7.49" height="7.99" fill="#ffd8d8"/>
<rect x="235.05" y="154.11" width="7.49" height="7.99" fill="#ff1010"/>
<rect x="242.24" y="154.11" width="7.49" height="7.99" fill="#ff1010"/>
<rect x="249.43" y="154.11" width="7.49" height="7.99" fill="#ffd8d8"/>
<rect x="256.62" y="154.11" width="7.49" height="7.99" fill="#ffd8d8"/>
<rect x="263.81" y="154.11" width="7.49" height="7.99" fill="#ffd8d8"/>
<rect x="55.30" y="161.80" width="7.49" height="7.99" fill="#ffafaf"/>
<rect x="62.49" y="161.80" width="7.49" height="7.99" fill="#ffd8d8"/>
<rect x="69.68" y="161.80" width="7.49" height="7.99" fill="#ffd8d8"/>
<rect x="76.87" y="161.80" width="7.49" height="7.99" fill="#ff5252"/>
<rect x="84.06" y="161.80" width="7.49" height="7.99" fill="#ffd8d8"/>
<rect x="91.25" y="161.80" width="7.49" height="7.99" fill="#fff9f9"/>
<rect x="98.44" y="161.80" width="7.49" height="7.99" fill="#ff1010"/>
<rect x="105.63" y="161.80" width="7.49" height="7.99" fill="#ff8787"/>
<rect x="112.82" y="161.80" width="7.49" height="7.99" fill="#ffafaf"/>
<rect x="120.01" y="161.80" width="7.49" height="7.99" fill="#ff5252"/>
<rect x="127.20" y="161.80" width="7.49" height="7.99" fill="#ffafaf"/>
<rect x="134.39" y="161.80" width="7.49" height="7.99" fill="#ffd8d8"/>
<rect x="141.58" y="161.80" width="7.49" height="7.99" fill="#ffafaf"/>
<rect x="148.77" y="161.80" width="7.49" height="7.99" fill="#ff8787"/>
<rect x="155.96" y="161.80" width="7.49" height="7.99" fill="#ff8787"/>
<rect x="163.15" y="161.80" width="7.49" height="7.99" fill="#fff9f9"/>
<rect x="170.34" y="161.80" width="7.49" height="7.99" fill="#ffafaf"/>
<rect x="177.53" y="161.80" width="7.49" height="7.99" fill="#ffafaf"/>
<rect x="184.72" y="161.80" width="7.49" height="7.99" fill="#ff5252"/>
<rect x="191.91" y="161.80" width="7.49" height="7.99" fill="#ffafaf"/>
<rect x="199.10" y="161.80" width="7.49" height="7.99" fill="#ff8787"/>
<rect x="206.29" y="161.80" width="7.49" height="7.99" fill="#ffd8d8"/>
<rect x="213.48" y="161.80" width="7.49" height="7.99" fill="#fff9f9"/>
<rect x="220.67" y="161.80" width="7.49" height="7.99" fill="#ffd8d8"/>
<rect x="227.86" y="161.80" width="7.49" height="7.99" fill="#ffafaf"/>
<rect x="235.05" y="161.80" width="7.49" height="7.99" fill="#ffd8d8"/>
<rect x="242.24" y="161.80" width="7.49" height="7.99" fill="#ff1010"/>
<rect x="249.43" y="161.80" width="7.49" height="7.99" fill="#ff5252"/>
<rect x="256.62" y="161.80" width="7.49" height="7.99" fill="#ff8787"/>
<rect x="263.81" y="161.80" width="7.49" height="7.99" fill="#a9ffa9"/>
<rect x="55.30" y="169.49" width="7.49" height="7.99" fill="#ffafaf"/>
<rect x="62.49" y="169.49" width="7.49" height="7.99" fill="#fff9f9"/>
<rect x="69.68" y="169.49" width="7.49" height="7.99" fill="#ffd8d8"/>
<rect x="76.87" y="169.49" width="7.49" height="7.99" fill="#a9ffa9"/>
<rect x="84.06" y="169.49" width="7.49" height="7.99" fill="#ffafaf"/>
<rect x="91.25" y="169.49" width="7.49" height="7.99" fill="#ffafaf"/>
<rect x="98.44" y="169.49" width="7.49" height="7.99" fill="#ffafaf"/>
<rect x="105.63" y="169.49" width="7.49" height="7.99" fill="#ffafaf"/>
<rect x="112.82" y="169.49" width="7.49" height="7.99" fill="#ffafaf"/>
<rect x="120.01" y="169.49" width="7.49" height="7.99" fill="#ffafaf"/>
<rect x="127.20" y="169.49" width="7.49" height="7.99" fill="#ff8787"/>
<rect x="134.39" y="169.49" width="7.49" height="7.99" fill="#deffde"/>
<rect x="141.58" y="169.49" width="7.49" height="7.99" fill="#a9ffa9"/>
<rect x="148.77" y="169.49" width="7.49" height="7.99" fill="#ff8787"/>
<rect x="155.96" y="169.49" width="7.49" height="7.99" fill="#ff8787"/>
<rect x="163.15" y="169.49" width="7.49" height="7.99" fill="#ff8787"/>
<rect x="170.34" y="169.49" width="7.49" height="7.99" fill="#ffd8d8"/>
<rect x="177.53" y="169.49" width="7.49" height="7.99" fill="#ff8787"/>
<rect x="184.72" y="169.49" width="7.49" height="7.99" fill="#ff1010"/>
<rect x="191.91" y="169.49" width="7.49" height="7.99" fill="#fff9f9"/>
<rect x="199.10" y="169.49" width="7.49" height="7.99" fill="#ffafaf"/>
<rect x="206.29" y="169.49" width="7.49" height="7.99" fill="#deffde"/>
<rect x="213.48" y="169.49" width="7.49" height="7.99" fill="#deffde"/>
<rect x="220.67" y="169.49" width="7.49" height="7.99" fill="#ff8787"/>
<rect x="227.86" y="169.49" width="7.49" height="7.99" fill="#ffafaf"/>
<rect x="235.05" y="169.49" width="7.49" height="7.99" fill="#ff8787"/>
<rect x="242.24" y="169.49" width="7.49" height="7.99" fill="#deffde"/>
<rect x="249.43" y="169.49" width="7.49" height="7.99" fill="#ff5252"/>
<rect x="256.62" y="169.49" width="7.49" height="7.99" fill="#fff9f9"/>
<rect x="263.81" y="169.49" width="7.49" height="7.99" fill="#ffafaf"/>
<rect x="55.30" y="177.18" width="7.49" height="7.99" fill="#ff8787"/>
<rect x="62.49" y="177.18" width="7.49" height="7.99" fill="#ffafaf"/>
<rect x="69.68" y="177.18" width="7.49" height="7.99" fill="#fff9f9"/>
<rect x="76.87" y="177.18" width="7.49" height="7.99" fill="#ff8787"/>
<rect x="84.06" y="177.18" width="7.49" height="7.99" fill="#fff9f9"/>
<rect x="91.25" y="177.18" width="7.49" height="7.99" fill="#fff9f9"/>
<rect x="98.44" y="177.18" width="7.49" height="7.99" fill="#ffafaf"/>
<rect x="105.63" y="177.18" width="7.49" height="7.99" fill="#ffafaf"/>
<rect x="112.82" y="177.18" width="7.49" height="7.99" fill="#a9ffa9"/>
<rect x="120.01" y="177.18" width="7.49" height="7.99" fill="#ffafaf"/>
<rect x="127.20" y="177.18" width="7.49" height="7.99" fill="#ffafaf"/>
<rect x="134.39" y="177.18" width="7.49" height="7.99" fill="#ffafaf"/>
<rect x="141.58" y="177.18" width="7.49" height="7.99" fill="#ffafaf"/>
<rect x="148.77" y="177.18" width="7.49" height="7.99" fill="#ffd8d8"/>
<rect x="155.96" y="177.18" width="7.49" height="7.99" fill="#ff8787"/>
<rect x="163.15" y="177.18" width="7.49" height="7.99" fill="#ff8787"/>
<rect x="170.34" y="177.18" width="7.49" height="7.99" fill="#ff8787"/>
<rect x="177.53" y="177.18" width="7.49" height="7.99" fill="#ff8787"/>
<rect x="184.72" y="177.18" width="7.49" height="7.99" fill="#ffafaf"/>
<rect x="191.91" y="177.18" width="7.49" height="7.99" fill="#ffafaf"/>
<rect x="199.10" y="177.18" width="7.49" height="7.99" fill="#ff1010"/>
<rect x="206.29" y="177.18" width="7.49" height="7.99" fill="#ff8787"/>
<rect x="213.48" y="177.18" width="7.49" height="7.99" fill="#ffafaf"/>
<rect x="220.67" y="177.18" width="7.49" height="7.99" fill="#ff8787"/>
<rect x="227.86" y="177.18" width="7.49" height="7.99" fill="#fff9f9"/>
<rect x="235.05" y="177.18" width="7.49" height="7.99" fill="#ffafaf"/>
<rect x="242.24" y="177.18" width="7.49" height="7.99" fill="#ff8787"/>
<rect x="249.43" y="177.18" width="7.49" height="7.99" fill="#ffafaf"/>
<rect x="256.62" y="177.18" width="7.49" height="7.99" fill="#fff9f9"/>
<rect x="263.81" y="177.18" width="7.49" height="7.99" fill="#fff9f9"/>
<rect x="55.30" y="184.87" width="7.49" height="7.99" fill="#ffafaf"/>
<rect x="62.49" y="184.87" width="7.49" height="7.99" fill="#ff8787"/>
<rect x="69.68" y="184.87" width="7.49" height="7.99" fill="#ff8787"/>
<rect x="76.87" y="184.87" width="7.49" height="7.99" fill="#ff8787"/>
<rect x="84.06" y="184.87" width="7.49" height="7.99" fill="#ff1010"/>
<rect x="91.25" y="184.87" width="7.49" height="7.99" fill="#ff5252"/>
<rect x="98.44" y="184.87" width="7.49" height="7.99" fill="#ffd8d8"/>
<rect x="105.63" y="184.87" width="7.49" height="7.99" fill="#ffafaf"/>
<rect x="112.82" y="184.87" width="7.49" height="7.99" fill="#ffd8d8"/>
<rect x="120.01" y="184.87" width="7.49" height="7.99" fill="#fff9f9"/>
<rect x="127.20" y="184.87" width="7.49" height="7.99" fill="#ffd8d8"/>
<rect x="134.39" y="184.87" width="7.49" height="7.99" fill="#ffd8d8"/>
<rect x="141.58" y="184.87" width="7.49" height="7.99" fill="#ffafaf"/>
<rect x="148.77" y="184.87" width="7.49" height="7.99" fill="#deffde"/>
<rect x="155.96" y="184.87" width="7.49" height="7.99" fill="#ffafaf"/>
<rect x="163.15" y="184.87" width="7.49" height="7.99" fill="#ff8787"/>
<rect x="170.34" y="184.87" width="7.49" height="7.99" fill="#ff8787"/>
<rect x="177.53" y="184.87" width="7.49" height="7.99" fill="#ff8787"/>
<rect x="184.72" y="184.87" width="7.49" height="7.99" fill="#ff5252"/>
<rect x="191.91" y="184.87" width="7.49" height="7.99" fill="#ff5252"/>
<rect x="199.10" y="184.87" width="7.49" height="7.99" fill="#ffd8d8"/>
<rect x="206.29" y="184.87" width="7.49" height="7.99" fill="#ff8787"/>
<rect x="213.48" y="184.87" width="7.49" height="7.99" fill="#ff8787"/>
<rect x="220.67" y="184.87" width="7.49" height="7.99" fill="#ffafaf"/>
<rect x="227.86" y="184.87" width="7.49" height="7.99" fill="#ffafaf"/>
<rect x="235.05" y="184.87" width="7.49" height="7.99" fill="#ff8787"/>
<rect x="242.24" y="184.87" width="7.49" height="7.99" fill="#ffafaf"/>
<rect x="249.43" y="184.87" width="7.49" height="7.99" fill="#ffd8d8"/>
<rect x="256.62" y="184.87" width="7.49" height="7.99" fill="#ffafaf"/>
<rect x="263.81" y="184.87" width="7.49" height="7.99" fill="#ffd8d8"/>
<rect x="55.30" y="192.56" width="7.49" height="7.99" fill="#ffafaf"/>
<rect x="62.49" y="192.56" width="7.49" height="7.99" fill="#ffafaf"/>
<rect x="69.68" y="192.56" width="7.49" height="7.99" fill="#ffafaf"/>
<rect x="76.87" y="192.56" width="7.49" height="7.99" fill="#ff8787"/>
<rect x="84.06" y="192.56" width="7.49" height="7.99" fill="#ffd8d8"/>
<rect x="91.25" y="192.56" width="7.49" height="7.99" fill="#ff5252"/>
<rect x="98.44" y="192.56" width="7.49" height="7.99" fill="#ffd8d8"/>
<rect x="105.63" y="192.56" width="7.49" height="7.99" fill="#ff8787"/>
<rect x="112.82" y="192.56" width="7.49" height="7.99" fill="#fff9f9"/>
<rect x="120.01" y="192.56" width="7.49" height="7.99" fill="#ffd8d8"/>
<rect x="127.20" y="192.56" width="7.49" height="7.99" fill="#ff1010"/>
<rect x="134.39" y="192.56" width="7.49" height="7.99" fill="#ffd8d8"/>
<rect x="141.58" y="192.56" width="7.49" height="7.99" fill="#ffd8d8"/>
<rect x="148.77" y="192.56" width="7.49" height="7.99" fill="#ffafaf"/>
<rect x="155.96" y="192.56" width="7.49" height="7.99" fill="#ffd8d8"/>
<rect x="163.15" y="192.56" width="7.49" height="7.99" fill="#deffde"/>
<rect x="170.34" y="192.56" width="7.49" height="7.99" fill="#ffafaf"/>
<rect x="177.53" y="192.56" width="7.49" height="7.99" fill="#ff8787"/>
<rect x="184.72" y="192.56" width="7.49" height="7.99" fill="#ff1010"/>
<rect x="191.91" y="192.56" width="7.49" height="7.99" fill="#ffd8d8"/>
<rect x="199.10" y="192.56" width="7.49" height="7.99" fill="#ffafaf"/>
<rect x="206.29" y="192.56" width="7.49" height="7.99" fill="#ffafaf"/>
<rect x="213.48" y="192.56" width="7.49" height="7.99" fill="#ffafaf"/>
<rect x="220.67" y="192.56" width="7.49" height="7.99" fill="#ffafaf"/>
<rect x="227.86" y="192.56" width="7.49" height="7.99" fill="#ffafaf"/>
<rect x="235.05" y="192.56" width="7.49" height="7.99" fill="#ff8787"/>
<rect x="242.24" y="192.56" width="7.49" height="7.99" fill="#ff1010"/>
<rect x="249.43" y="192.56" width="7.49" height="7.99" fill="#ffd8d8"/>
<rect x="256.62" y="192.56" width="7.49" height="7.99" fill="#ffafaf"/>
<rect x="263.81" y="192.56" width="7.49" height="7.99" fill="#ffd8d8"/>
<rect x="55.30" y="200.25" width="7.49" height="7.99" fill="#ffd8d8"/>
<rect x="62.49" y="200.25" width="7.49" height="7.99" fill="#ffd8d8"/>
<rect x="69.68" y="200.25" width="7.49" height="7.99" fill="#ff8787"/>
<rect x="76.87" y="200.25" width="7.49" height="7.99" fill="#fff9f9"/>
<rect x="84.06" y="200.25" width="7.49" height="7.99" fill="#ff8787"/>
<rect x="91.25" y="200.25" width="7.49" height="7.99" fill="#fff9f9"/>
<rect x="98.44" y="200.25" width="7.49" height="7.99" fill="#ffd8d8"/>
<rect x="105.63" y="200.25" width="7.49" height="7.99" fill="#deffde"/>
<rect x="112.82" y="200.25" width="7.49" height="7.99" fill="#ffafaf"/>
<rect x="120.01" y="200.25" width="7.49" height="7.99" fill="#ff8787"/>
<rect x="127.20" y="200.25" width="7.49" height="7.99" fill="#ff5252"/>
<rect x="134.39" y="200.25" width="7.49" height="7.99" fill="#ff1010"/>
<rect x="141.58" y="200.25" width="7.49" height="7.99" fill="#fff9f9"/>
<rect x="148.77" y="200.25" width="7.49" height="7.99" fill="#ff8787"/>
<rect x="155.96" y="200.25" width="7.49" height="7.99" fill="#a9ffa9"/>
<rect x="163.15" y="200.25" width="7.49" height="7.99" fill="#ffd8d8"/>
<rect x="170.34" y="200.25" width="7.49" height="7.99" fill="#ffafaf"/>
<rect x="177.53" y="200.25" width="7.49" height="7.99" fill="#a9ffa9"/>
<rect x="184.72" y="200.25" width="7.49" height="7.99" fill="#fff9f9"/>
<rect x="191.91" y="200.25" width="7.49" height="7.99" fill="#ffafaf"/>
<rect x="199.10" y="200.25" width="7.49" height="7.99" fill="#ffafaf"/>
<rect x="206.29" y="200.25" width="7.49" height="7.99" fill="#deffde"/>
<rect x="213.48" y="200.25" width="7.49" height="7.99" fill="#ffd8d8"/>
<rect x="220.67" y="200.25" width="7.49" height="7.99" fill="#ffd8d8"/>
<rect x="227.86" y="200.25" width="7.49" height="7.99" fill="#deffde"/>
<rect x="235.05" y="200.25" width="7.49" height="7.99" fill="#ff8787"/>
<rect x="242.24" y="200.25" width="7.49" height="7.99" fill="#ffd8d8"/>
<rect x="249.43" y="200.25" width="7.49" height="7.99" fill="#fff9f9"/>
<rect x="256.62" y="200.25" width="7.49" height="7.99" fill="#ff8787"/>
<rect x="263.81" y="200.25" width="7.49" height="7.99" fill="#ff8787"/>
<rect x="55.30" y="207.94" width="7.49" height="7.99" fill="#fff9f9"/>
<rect x="62.49" y="207.94" width="7.49" height="7.99" fill="#ffd8d8"/>
<rect x="69.68" y="207.94" width="7.49" height="7.99" fill="#ff8787"/>
<rect x="76.87" y="207.94" width="7.49" height="7.99" fill="#ffd8d8"/>
<rect x="84.06" y="207.94" width="7.49" height="7.99" fill="#fff9f9"/>
<rect x="91.25" y="207.94" width="7.49" height="7.99" fill="#ff1010"/>
<rect x="98.44" y="207.94" width="7.49" height="7.99" fill="#ff8787"/>
<rect x="105.63" y="207.94" width="7.49" height="7.99" fill="#ff8787"/>
<rect x="112.82" y="207.94" width="7.49" height="7.99" fill="#ffafaf"/>
<rect x="120.01" y="207.94" width="7.49" height="7.99" fill="#ff8787"/>
<rect x="127.20" y="207.94" width="7.49" height="7.99" fill="#ff1010"/>
<rect x="134.39" y="207.94" width="7.49" height="7.99" fill="#ff8787"/>
<rect x="141.58" y="207.94" width="7.49" height="7.99" fill="#ffafaf"/>
<rect x="148.77" y="207.94" width="7.49" height="7.99" fill="#ff8787"/>
<rect x="155.96" y="207.94" width="7.49" height="7.99" fill="#ffafaf"/>
<rect x="163.15" y="207.94" width="7.49" height="7.99" fill="#ff5252"/>
<rect x="170.34" y="207.94" width="7.49" height="7.99" fill="#ff8787"/>
<rect x="177.53" y="207.94" width="7.49" height="7.99" fill="#ffafaf"/>
<rect x="184.72" y="207.94" width="7.49" height="7.99" fill="#ff1010"/>
<rect x="191.91" y="207.94" width="7.49" height="7.99" fill="#ffd8d8"/>
<rect x="199.10" y="207.94" width="7.49" height="7.99" fill="#ff8787"/>
<rect x="206.29" y="207.94" width="7.49" height="7.99" fill="#ffafaf"/>
<rect x="213.48" y="207.94" width="7.49" height="7.99" fill="#ff8787"/>
<rect x="220.67" y="207.94" width="7.49" height="7.99" fill="#ffd8d8"/>
<rect x="227.86" y="207.94" width="7.49" height="7.99" fill="#ff1010"/>
<rect x="235.05" y="207.94" width="7.49" height="7.99" fill="#ff8787"/>
<rect x="242.24" y="207.94" width="7.49" height="7.99" fill="#ffafaf"/>
<rect x="249.43" y="207.94" width="7.49" height="7.99" fill="#ffafaf"/>
<rect x="256.62" y="207.94" width="7.49" height="7.99" fill="#ffd8d8"/>
<rect x="263.81" y="207.94" width="7.49" height="7.99" fill="#ff8787"/>
<rect x="55.30" y="215.63" width="7.49" height="7.99" fill="#ff8787"/>
<rect x="62.49" y="215.63" width="7.49" height="7.99" fill="#ffd8d8"/>
<rect x="69.68" y="215.63" width="7.49" height="7.99" fill="#ffafaf"/>
<rect x="76.87" y="215.63" width="7.49" height="7.99" fill="#ffd8d8"/>
<rect x="84.06" y="215.63" width="7.49" height="7.99" fill="#ffd8d8"/>
<rect x="91.25" y="215.63" width="7.49" height="7.99" fill="#ffafaf"/>
<rect x="98.44" y="215.63" width="7.49" height="7.99" fill="#fff9f9"/>
<rect x="105.63" y="215.63" width="7.49" height="7.99" fill="#ffafaf"/>
<rect x="112.82" y="215.63" width="7.49" height="7.99" fill="#ffafaf"/>
<rect x="120.01" y="215.63" width="7.49" height="7.99" fill="#ff8787"/>
<rect x="127.20" y="215.63" width="7.49" height="7.99" fill="#ff1010"/>
<rect x="134.39" y="215.63" width="7.49" height="7.99" fill="#ffafaf"/>
<rect x="141.58" y="215.63" width="7.49" height="7.99" fill="#ffafaf"/>
<rect x="148.77" y="215.63" width="7.49" height="7.99" fill="#ffd8d8"/>
<rect x="155.96" y="215.63" width="7.49" height="7.99" fill="#ffafaf"/>
<rect x="163.15" y="215.63" width="7.49" height="7.99" fill="#ff5252"/>
<rect x="170.34" y="215.63" width="7.49" height="7.99" fill="#ff8787"/>
<rect x="177.53" y="215.63" width="7.49" height="7.99" fill="#ff5252"/>
<rect x="184.72" y="215.63" width="7.49" height="7.99" fill="#ffafaf"/>
<rect x="191.91" y="215.63" width="7.49" height="7.99" fill="#ff8787"/>
<rect x="199.10" y="215.63" width="7.49" height="7.99" fill="#ff8787"/>
<rect x="206.29" y="215.63" width="7.49" height="7.99" fill="#fff9f9"/>
<rect x="213.48" y="215.63" width="7.49" height="7.99" fill="#ff5252"/>
<rect x="220.67" y="215.63" width="7.49" height="7.99" fill="#ffafaf"/>
<rect x="227.86" y="215.63" width="7.49" height="7.99" fill="#ffafaf"/>
<rect x="235.05" y="215.63" width="7.49" height="7.99" fill="#ff5252"/>
<rect x="242.24" y="215.63" width="7.49" height="7.99" fill="#ff8787"/>
<rect x="249.43" y="215.63" width="7.49" height="7.99" fill="#ffd8d8"/>
<rect x="256.62" y="215.63" width="7.49" height="7.99" fill="#ffafaf"/>
<rect x="263.81" y="215.63" width="7.49" height="7.99" fill="#ff5252"/>
<rect x="55.30" y="223.32" width="7.49" height="7.99" fill="#ff8787"/>
<rect x="62.49" y="223.32" width="7.49" height="7.99" fill="#ffd8d8"/>
<rect x="69.68" y="223.32" width="7.49" height="7.99" fill="#ffafaf"/>
<rect x="76.87" y="223.32" width="7.49" height="7.99" fill="#fff9f9"/>
<rect x="84.06" y="223.32" width="7.49" height="7.99" fill="#ffafaf"/>
<rect x="91.25" y="223.32" width="7.49" height="7.99" fill="#ff1010"/>
<rect x="98.44" y="223.32" width="7.49" height="7.99" fill="#ffafaf"/>
<rect x="105.63" y="223.32" width="7.49" height="7.99" fill="#ffafaf"/>
<rect x="112.82" y="223.32" width="7.49" height="7.99" fill="#ffafaf"/>
<rect x="120.01" y="223.32" width="7.49" height="7.99" fill="#ffd8d8"/>
<rect x="127.20" y="223.32" width="7.49" height="7.99" fill="#ffd8d8"/>
<rect x="134.39" y="223.32" width="7.49" height="7.99" fill="#ff5252"/>
<rect x="141.58" y="223.32" width="7.49" height="7.99" fill="#ffd8d8"/>
<rect x="148.77" y="223.32" width="7.49" height="7.99" fill="#ff8787"/>
<rect x="155.96" y="223.32" width="7.49" height="7.99" fill="#ffafaf"/>
<rect x="163.15" y="223.32" width="7.49" height="7.99" fill="#ffafaf"/>
<rect x="170.34" y="223.32" width="7.49" height="7.99" fill="#fff9f9"/>
<rect x="177.53" y="223.32" width="7.49" height="7.99" fill="#fff9f9"/>
<rect x="184.72" y="223.32" width="7.49" height="7.99" fill="#fff9f9"/>
<rect x="191.91" y="223.32" width="7.49" height="7.99" fill="#ffafaf"/>
<rect x="199.10" y="223.32" width="7.49" height="7.99" fill="#ff8787"/>
<rect x="206.29" y="223.32" width="7.49" height="7.99" fill="#ff8787"/>
<rect x="213.48" y="223.32" width="7.49" height="7.99" fill="#ff8787"/>
<rect x="220.67" y="223.32" width="7.49" height="7.99" fill="#ff8787"/>
<rect x="227.86" y="223.32" width="7.49" height="7.99" fill="#ff8787"/>
<rect x="235.05" y="223.32" width="7.49" height="7.99" fill="#ffd8d8"/>
<rect x="242.24" y="223.32" width="7.49" height="7.99" fill="#ff1010"/>
<rect x="249.43" y="223.32" width="7.49" height="7.99" fill="#ff8787"/>
<rect x="256.62" y="223.32" width="7.49" height="7.99" fill="#ffd8d8"/>
<rect x="263.81" y="223.32" width="7.49" height="7.99" fill="#fff9f9"/>
<rect x="55.30" y="231.01" width="7.49" height="7.99" fill="#ffd8d8"/>
<rect x="62.49" y="231.01" width="7.49" height="7.99" fill="#fff9f9"/>
<rect x="69.68" y="231.01" width="7.49" height="7.99" fill="#deffde"/>
<rect x="76.87" y="231.01" width="7.49" height="7.99" fill="#ff8787"/>
<rect x="84.06" y="231.01" width="7.49" height="7.99" fill="#deffde"/>
<rect x="91.25" y="231.01" width="7.49" height="7.99" fill="#ffafaf"/>
<rect x="98.44" y="231.01" width="7.49" height="7.99" fill="#fff9f9"/>
<rect x="105.63" y="231.01" width="7.49" height="7.99" fill="#fff9f9"/>
<rect x="112.82" y="231.01" width="7.49" height="7.99" fill="#ff8787"/>
<rect x="120.01" y="231.01" width="7.49" height="7.99" fill="#ffd8d8"/>
<rect x="127.20" y="231.01" width="7.49" height="7.99" fill="#ffd8d8"/>
<rect x="134.39" y="231.01" width="7.49" height="7.99" fill="#ff8787"/>
<rect x="141.58" y="231.01" width="7.49" height="7.99" fill="#fff9f9"/>
<rect x="148.77" y="231.01" width="7.49" height="7.99" fill="#ff8787"/>
<rect x="155.96" y="231.01" width="7.49" height="7.99" fill="#fff9f9"/>
<rect x="163.15" y="231.01" width="7.49" height="7.99" fill="#ffafaf"/>
<rect x="170.34" y="231.01" width="7.49" height="7.99" fill="#ffd8d8"/>
<rect x="177.53" y="231.01" width="7.49" height="7.99" fill="#ff8787"/>
<rect x="184.72" y="231.01" width="7.49" height="7.99" fill="#ffafaf"/>
<rect x="191.91" y="231.01" width="7.49" height="7.99" fill="#fff9f9"/>
<rect x="199.10" y="231.01" width="7.49" height="7.99" fill="#ff5252"/>
<rect x="206.29" y="231.01" width="7.49" height="7.99" fill="#ff5252"/>
<rect x="213.48" y="231.01" width="7.49" height="7.99" fill="#ff5252"/>
<rect x="220.67" y="231.01" width="7.49" height="7.99" fill="#ff5252"/>
<rect x="227.86" y="231.01" width="7.49" height="7.99" fill="#ff8787"/>
<rect x="235.05" y="231.01" width="7.49" height="7.99" fill="#ffafaf"/>
<rect x="242.24" y="231.01" width="7.49" height="7.99" fill="#ffd8d8"/>
<rect x="249.43" y="231.01" width="7.49" height="7.99" fill="#ffd8d8"/>
<rect x="256.62" y="231.01" width="7.49" height="7.99" fill="#fff9f9"/>
<rect x="263.81" y="231.01" width="7.49" height="7.99" fill="#ff8787"/>
</g>
<rect x="54.50" y="7.20" width="217.30" height="232.30" fill="none" stroke="#000" stroke-width="1.6"/>
<defs><filter id="blgridB" color-interpolation-filters="sRGB" x="-2%" y="-2%" width="104%" height="104%"><feConvolveMatrix order="3" kernelMatrix="1 2 1 2 4 2 1 2 1" divisor="16" edgeMode="duplicate"/></filter></defs>
<g shape-rendering="crispEdges" filter="url(#blgridB)">
<rect x="402.25" y="8.00" width="7.47" height="7.96" fill="#ffd8d8"/>
<rect x="409.42" y="8.00" width="7.47" height="7.96" fill="#ffafaf"/>
<rect x="416.59" y="8.00" width="7.47" height="7.96" fill="#ff8787"/>
<rect x="423.76" y="8.00" width="7.47" height="7.96" fill="#ff8787"/>
<rect x="430.94" y="8.00" width="7.47" height="7.96" fill="#a9ffa9"/>
<rect x="438.11" y="8.00" width="7.47" height="7.96" fill="#deffde"/>
<rect x="445.28" y="8.00" width="7.47" height="7.96" fill="#deffde"/>
<rect x="452.45" y="8.00" width="7.47" height="7.96" fill="#ffafaf"/>
<rect x="459.62" y="8.00" width="7.47" height="7.96" fill="#ffd8d8"/>
<rect x="466.79" y="8.00" width="7.47" height="7.96" fill="#ff5252"/>
<rect x="473.97" y="8.00" width="7.47" height="7.96" fill="#ff1010"/>
<rect x="481.14" y="8.00" width="7.47" height="7.96" fill="#deffde"/>
<rect x="488.31" y="8.00" width="7.47" height="7.96" fill="#ffd8d8"/>
<rect x="495.48" y="8.00" width="7.47" height="7.96" fill="#ffafaf"/>
<rect x="502.65" y="8.00" width="7.47" height="7.96" fill="#ffafaf"/>
<rect x="509.82" y="8.00" width="7.47" height="7.96" fill="#a9ffa9"/>
<rect x="517.00" y="8.00" width="7.47" height="7.96" fill="#ff1010"/>
<rect x="524.17" y="8.00" width="7.47" height="7.96" fill="#ff5252"/>
<rect x="531.34" y="8.00" width="7.47" height="7.96" fill="#ffd8d8"/>
<rect x="538.51" y="8.00" width="7.47" height="7.96" fill="#ffafaf"/>
<rect x="545.68" y="8.00" width="7.47" height="7.96" fill="#ffafaf"/>
<rect x="552.86" y="8.00" width="7.47" height="7.96" fill="#ffd8d8"/>
<rect x="560.03" y="8.00" width="7.47" height="7.96" fill="#ffafaf"/>
<rect x="567.20" y="8.00" width="7.47" height="7.96" fill="#a9ffa9"/>
<rect x="574.37" y="8.00" width="7.47" height="7.96" fill="#ffd8d8"/>
<rect x="581.54" y="8.00" width="7.47" height="7.96" fill="#a9ffa9"/>
<rect x="588.71" y="8.00" width="7.47" height="7.96" fill="#deffde"/>
<rect x="595.88" y="8.00" width="7.47" height="7.96" fill="#ffd8d8"/>
<rect x="603.06" y="8.00" width="7.47" height="7.96" fill="#fff9f9"/>
<rect x="610.23" y="8.00" width="7.47" height="7.96" fill="#ffafaf"/>
<rect x="402.25" y="15.66" width="7.47" height="7.96" fill="#ffd8d8"/>
<rect x="409.42" y="15.66" width="7.47" height="7.96" fill="#fff9f9"/>
<rect x="416.59" y="15.66" width="7.47" height="7.96" fill="#deffde"/>
<rect x="423.76" y="15.66" width="7.47" height="7.96" fill="#deffde"/>
<rect x="430.94" y="15.66" width="7.47" height="7.96" fill="#ffd8d8"/>
<rect x="438.11" y="15.66" width="7.47" height="7.96" fill="#fff9f9"/>
<rect x="445.28" y="15.66" width="7.47" height="7.96" fill="#ffd8d8"/>
<rect x="452.45" y="15.66" width="7.47" height="7.96" fill="#ffd8d8"/>
<rect x="459.62" y="15.66" width="7.47" height="7.96" fill="#ff1010"/>
<rect x="466.79" y="15.66" width="7.47" height="7.96" fill="#ffafaf"/>
<rect x="473.97" y="15.66" width="7.47" height="7.96" fill="#fff9f9"/>
<rect x="481.14" y="15.66" width="7.47" height="7.96" fill="#ff1010"/>
<rect x="488.31" y="15.66" width="7.47" height="7.96" fill="#ffd8d8"/>
<rect x="495.48" y="15.66" width="7.47" height="7.96" fill="#ffafaf"/>
<rect x="502.65" y="15.66" width="7.47" height="7.96" fill="#fff9f9"/>
<rect x="509.82" y="15.66" width="7.47" height="7.96" fill="#deffde"/>
<rect x="517.00" y="15.66" width="7.47" height="7.96" fill="#ffd8d8"/>
<rect x="524.17" y="15.66" width="7.47" height="7.96" fill="#ff1010"/>
<rect x="531.34" y="15.66" width="7.47" height="7.96" fill="#ff5252"/>
<rect x="538.51" y="15.66" width="7.47" height="7.96" fill="#fff9f9"/>
<rect x="545.68" y="15.66" width="7.47" height="7.96" fill="#ff1010"/>
<rect x="552.86" y="15.66" width="7.47" height="7.96" fill="#fff9f9"/>
<rect x="560.03" y="15.66" width="7.47" height="7.96" fill="#ffafaf"/>
<rect x="567.20" y="15.66" width="7.47" height="7.96" fill="#deffde"/>
<rect x="574.37" y="15.66" width="7.47" height="7.96" fill="#a9ffa9"/>
<rect x="581.54" y="15.66" width="7.47" height="7.96" fill="#ffafaf"/>
<rect x="588.71" y="15.66" width="7.47" height="7.96" fill="#deffde"/>
<rect x="595.88" y="15.66" width="7.47" height="7.96" fill="#a9ffa9"/>
<rect x="603.06" y="15.66" width="7.47" height="7.96" fill="#fff9f9"/>
<rect x="610.23" y="15.66" width="7.47" height="7.96" fill="#ffd8d8"/>
<rect x="402.25" y="23.33" width="7.47" height="7.96" fill="#ff5252"/>
<rect x="409.42" y="23.33" width="7.47" height="7.96" fill="#ffafaf"/>
<rect x="416.59" y="23.33" width="7.47" height="7.96" fill="#ffafaf"/>
<rect x="423.76" y="23.33" width="7.47" height="7.96" fill="#ff8787"/>
<rect x="430.94" y="23.33" width="7.47" height="7.96" fill="#ffd8d8"/>
<rect x="438.11" y="23.33" width="7.47" height="7.96" fill="#ff5252"/>
<rect x="445.28" y="23.33" width="7.47" height="7.96" fill="#ffafaf"/>
<rect x="452.45" y="23.33" width="7.47" height="7.96" fill="#ffd8d8"/>
<rect x="459.62" y="23.33" width="7.47" height="7.96" fill="#ff1010"/>
<rect x="466.79" y="23.33" width="7.47" height="7.96" fill="#ffafaf"/>
<rect x="473.97" y="23.33" width="7.47" height="7.96" fill="#ff1010"/>
<rect x="481.14" y="23.33" width="7.47" height="7.96" fill="#fff9f9"/>
<rect x="488.31" y="23.33" width="7.47" height="7.96" fill="#ffd8d8"/>
<rect x="495.48" y="23.33" width="7.47" height="7.96" fill="#ff1010"/>
<rect x="502.65" y="23.33" width="7.47" height="7.96" fill="#ff8787"/>
<rect x="509.82" y="23.33" width="7.47" height="7.96" fill="#deffde"/>
<rect x="517.00" y="23.33" width="7.47" height="7.96" fill="#ff1010"/>
<rect x="524.17" y="23.33" width="7.47" height="7.96" fill="#ff8787"/>
<rect x="531.34" y="23.33" width="7.47" height="7.96" fill="#deffde"/>
<rect x="538.51" y="23.33" width="7.47" height="7.96" fill="#ffd8d8"/>
<rect x="545.68" y="23.33" width="7.47" height="7.96" fill="#fff9f9"/>
<rect x="552.86" y="23.33" width="7.47" height="7.96" fill="#ffafaf"/>
<rect x="560.03" y="23.33" width="7.47" height="7.96" fill="#ffd8d8"/>
<rect x="567.20" y="23.33" width="7.47" height="7.96" fill="#fff9f9"/>
<rect x="574.37" y="23.33" width="7.47" height="7.96" fill="#ff8787"/>
<rect x="581.54" y="23.33" width="7.47" height="7.96" fill="#ffafaf"/>
<rect x="588.71" y="23.33" width="7.47" height="7.96" fill="#ff8787"/>
<rect x="595.88" y="23.33" width="7.47" height="7.96" fill="#ffd8d8"/>
<rect x="603.06" y="23.33" width="7.47" height="7.96" fill="#fff9f9"/>
<rect x="610.23" y="23.33" width="7.47" height="7.96" fill="#a9ffa9"/>
<rect x="402.25" y="31.00" width="7.47" height="7.96" fill="#ffd8d8"/>
<rect x="409.42" y="31.00" width="7.47" height="7.96" fill="#ffd8d8"/>
<rect x="416.59" y="31.00" width="7.47" height="7.96" fill="#ff5252"/>
<rect x="423.76" y="31.00" width="7.47" height="7.96" fill="#ffafaf"/>
<rect x="430.94" y="31.00" width="7.47" height="7.96" fill="#ff8787"/>
<rect x="438.11" y="31.00" width="7.47" height="7.96" fill="#ff1010"/>
<rect x="445.28" y="31.00" width="7.47" height="7.96" fill="#ffafaf"/>
<rect x="452.45" y="31.00" width="7.47" height="7.96" fill="#deffde"/>
<rect x="459.62" y="31.00" width="7.47" height="7.96" fill="#fff9f9"/>
<rect x="466.79" y="31.00" width="7.47" height="7.96" fill="#ffafaf"/>
<rect x="473.97" y="31.00" width="7.47" height="7.96" fill="#ffafaf"/>
<rect x="481.14" y="31.00" width="7.47" height="7.96" fill="#ff8787"/>
<rect x="488.31" y="31.00" width="7.47" height="7.96" fill="#ff8787"/>
<rect x="495.48" y="31.00" width="7.47" height="7.96" fill="#fff9f9"/>
<rect x="502.65" y="31.00" width="7.47" height="7.96" fill="#a9ffa9"/>
<rect x="509.82" y="31.00" width="7.47" height="7.96" fill="#deffde"/>
<rect x="517.00" y="31.00" width="7.47" height="7.96" fill="#ffd8d8"/>
<rect x="524.17" y="31.00" width="7.47" height="7.96" fill="#ff5252"/>
<rect x="531.34" y="31.00" width="7.47" height="7.96" fill="#ff8787"/>
<rect x="538.51" y="31.00" width="7.47" height="7.96" fill="#ffafaf"/>
<rect x="545.68" y="31.00" width="7.47" height="7.96" fill="#ffd8d8"/>
<rect x="552.86" y="31.00" width="7.47" height="7.96" fill="#ffd8d8"/>
<rect x="560.03" y="31.00" width="7.47" height="7.96" fill="#ff5252"/>
<rect x="567.20" y="31.00" width="7.47" height="7.96" fill="#ffd8d8"/>
<rect x="574.37" y="31.00" width="7.47" height="7.96" fill="#fff9f9"/>
<rect x="581.54" y="31.00" width="7.47" height="7.96" fill="#fff9f9"/>
<rect x="588.71" y="31.00" width="7.47" height="7.96" fill="#ffd8d8"/>
<rect x="595.88" y="31.00" width="7.47" height="7.96" fill="#ffd8d8"/>
<rect x="603.06" y="31.00" width="7.47" height="7.96" fill="#ffd8d8"/>
<rect x="610.23" y="31.00" width="7.47" height="7.96" fill="#ffafaf"/>
<rect x="402.25" y="38.66" width="7.47" height="7.96" fill="#ffafaf"/>
<rect x="409.42" y="38.66" width="7.47" height="7.96" fill="#ffd8d8"/>
<rect x="416.59" y="38.66" width="7.47" height="7.96" fill="#deffde"/>
<rect x="423.76" y="38.66" width="7.47" height="7.96" fill="#deffde"/>
<rect x="430.94" y="38.66" width="7.47" height="7.96" fill="#a9ffa9"/>
<rect x="438.11" y="38.66" width="7.47" height="7.96" fill="#ffafaf"/>
<rect x="445.28" y="38.66" width="7.47" height="7.96" fill="#ff8787"/>
<rect x="452.45" y="38.66" width="7.47" height="7.96" fill="#ffafaf"/>
<rect x="459.62" y="38.66" width="7.47" height="7.96" fill="#ffd8d8"/>
<rect x="466.79" y="38.66" width="7.47" height="7.96" fill="#fff9f9"/>
<rect x="473.97" y="38.66" width="7.47" height="7.96" fill="#ffafaf"/>
<rect x="481.14" y="38.66" width="7.47" height="7.96" fill="#deffde"/>
<rect x="488.31" y="38.66" width="7.47" height="7.96" fill="#ff8787"/>
<rect x="495.48" y="38.66" width="7.47" height="7.96" fill="#ffd8d8"/>
<rect x="502.65" y="38.66" width="7.47" height="7.96" fill="#ff8787"/>
<rect x="509.82" y="38.66" width="7.47" height="7.96" fill="#deffde"/>
<rect x="517.00" y="38.66" width="7.47" height="7.96" fill="#ffafaf"/>
<rect x="524.17" y="38.66" width="7.47" height="7.96" fill="#ffafaf"/>
<rect x="531.34" y="38.66" width="7.47" height="7.96" fill="#ffafaf"/>
<rect x="538.51" y="38.66" width="7.47" height="7.96" fill="#ff1010"/>
<rect x="545.68" y="38.66" width="7.47" height="7.96" fill="#ffd8d8"/>
<rect x="552.86" y="38.66" width="7.47" height="7.96" fill="#ffd8d8"/>
<rect x="560.03" y="38.66" width="7.47" height="7.96" fill="#ffafaf"/>
<rect x="567.20" y="38.66" width="7.47" height="7.96" fill="#ff8787"/>
<rect x="574.37" y="38.66" width="7.47" height="7.96" fill="#ff8787"/>
<rect x="581.54" y="38.66" width="7.47" height="7.96" fill="#ff8787"/>
<rect x="588.71" y="38.66" width="7.47" height="7.96" fill="#ff1010"/>
<rect x="595.88" y="38.66" width="7.47" height="7.96" fill="#ff1010"/>
<rect x="603.06" y="38.66" width="7.47" height="7.96" fill="#ffd8d8"/>
<rect x="610.23" y="38.66" width="7.47" height="7.96" fill="#ff8787"/>
<rect x="402.25" y="46.33" width="7.47" height="7.96" fill="#ffafaf"/>
<rect x="409.42" y="46.33" width="7.47" height="7.96" fill="#a9ffa9"/>
<rect x="416.59" y="46.33" width="7.47" height="7.96" fill="#ff5252"/>
<rect x="423.76" y="46.33" width="7.47" height="7.96" fill="#ff8787"/>
<rect x="430.94" y="46.33" width="7.47" height="7.96" fill="#fff9f9"/>
<rect x="438.11" y="46.33" width="7.47" height="7.96" fill="#a9ffa9"/>
<rect x="445.28" y="46.33" width="7.47" height="7.96" fill="#fff9f9"/>
<rect x="452.45" y="46.33" width="7.47" height="7.96" fill="#deffde"/>
<rect x="459.62" y="46.33" width="7.47" height="7.96" fill="#ff8787"/>
<rect x="466.79" y="46.33" width="7.47" height="7.96" fill="#fff9f9"/>
<rect x="473.97" y="46.33" width="7.47" height="7.96" fill="#deffde"/>
<rect x="481.14" y="46.33" width="7.47" height="7.96" fill="#deffde"/>
<rect x="488.31" y="46.33" width="7.47" height="7.96" fill="#ffafaf"/>
<rect x="495.48" y="46.33" width="7.47" height="7.96" fill="#ffd8d8"/>
<rect x="502.65" y="46.33" width="7.47" height="7.96" fill="#ff5252"/>
<rect x="509.82" y="46.33" width="7.47" height="7.96" fill="#ffd8d8"/>
<rect x="517.00" y="46.33" width="7.47" height="7.96" fill="#ff1010"/>
<rect x="524.17" y="46.33" width="7.47" height="7.96" fill="#ffafaf"/>
<rect x="531.34" y="46.33" width="7.47" height="7.96" fill="#ffd8d8"/>
<rect x="538.51" y="46.33" width="7.47" height="7.96" fill="#ffafaf"/>
<rect x="545.68" y="46.33" width="7.47" height="7.96" fill="#deffde"/>
<rect x="552.86" y="46.33" width="7.47" height="7.96" fill="#ff1010"/>
<rect x="560.03" y="46.33" width="7.47" height="7.96" fill="#ff8787"/>
<rect x="567.20" y="46.33" width="7.47" height="7.96" fill="#ffd8d8"/>
<rect x="574.37" y="46.33" width="7.47" height="7.96" fill="#ffd8d8"/>
<rect x="581.54" y="46.33" width="7.47" height="7.96" fill="#deffde"/>
<rect x="588.71" y="46.33" width="7.47" height="7.96" fill="#ffd8d8"/>
<rect x="595.88" y="46.33" width="7.47" height="7.96" fill="#deffde"/>
<rect x="603.06" y="46.33" width="7.47" height="7.96" fill="#ff1010"/>
<rect x="610.23" y="46.33" width="7.47" height="7.96" fill="#ffd8d8"/>
<rect x="402.25" y="53.99" width="7.47" height="7.96" fill="#ff8787"/>
<rect x="409.42" y="53.99" width="7.47" height="7.96" fill="#ffafaf"/>
<rect x="416.59" y="53.99" width="7.47" height="7.96" fill="#ff8787"/>
<rect x="423.76" y="53.99" width="7.47" height="7.96" fill="#ffafaf"/>
<rect x="430.94" y="53.99" width="7.47" height="7.96" fill="#fff9f9"/>
<rect x="438.11" y="53.99" width="7.47" height="7.96" fill="#ffafaf"/>
<rect x="445.28" y="53.99" width="7.47" height="7.96" fill="#ff8787"/>
<rect x="452.45" y="53.99" width="7.47" height="7.96" fill="#ffd8d8"/>
<rect x="459.62" y="53.99" width="7.47" height="7.96" fill="#ff8787"/>
<rect x="466.79" y="53.99" width="7.47" height="7.96" fill="#deffde"/>
<rect x="473.97" y="53.99" width="7.47" height="7.96" fill="#ff8787"/>
<rect x="481.14" y="53.99" width="7.47" height="7.96" fill="#ffd8d8"/>
<rect x="488.31" y="53.99" width="7.47" height="7.96" fill="#ffafaf"/>
<rect x="495.48" y="53.99" width="7.47" height="7.96" fill="#ffd8d8"/>
<rect x="502.65" y="53.99" width="7.47" height="7.96" fill="#deffde"/>
<rect x="509.82" y="53.99" width="7.47" height="7.96" fill="#ffafaf"/>
<rect x="517.00" y="53.99" width="7.47" height="7.96" fill="#ffd8d8"/>
<rect x="524.17" y="53.99" width="7.47" height="7.96" fill="#ffafaf"/>
<rect x="531.34" y="53.99" width="7.47" height="7.96" fill="#ff5252"/>
<rect x="538.51" y="53.99" width="7.47" height="7.96" fill="#ffafaf"/>
<rect x="545.68" y="53.99" width="7.47" height="7.96" fill="#ff5252"/>
<rect x="552.86" y="53.99" width="7.47" height="7.96" fill="#ff8787"/>
<rect x="560.03" y="53.99" width="7.47" height="7.96" fill="#ff1010"/>
<rect x="567.20" y="53.99" width="7.47" height="7.96" fill="#ffafaf"/>
<rect x="574.37" y="53.99" width="7.47" height="7.96" fill="#ffafaf"/>
<rect x="581.54" y="53.99" width="7.47" height="7.96" fill="#ffafaf"/>
<rect x="588.71" y="53.99" width="7.47" height="7.96" fill="#ffd8d8"/>
<rect x="595.88" y="53.99" width="7.47" height="7.96" fill="#a9ffa9"/>
<rect x="603.06" y="53.99" width="7.47" height="7.96" fill="#66ff66"/>
<rect x="610.23" y="53.99" width="7.47" height="7.96" fill="#a9ffa9"/>
<rect x="402.25" y="61.66" width="7.47" height="7.96" fill="#ffd8d8"/>
<rect x="409.42" y="61.66" width="7.47" height="7.96" fill="#ffd8d8"/>
<rect x="416.59" y="61.66" width="7.47" height="7.96" fill="#66ff66"/>
<rect x="423.76" y="61.66" width="7.47" height="7.96" fill="#fff9f9"/>
<rect x="430.94" y="61.66" width="7.47" height="7.96" fill="#ff8787"/>
<rect x="438.11" y="61.66" width="7.47" height="7.96" fill="#fff9f9"/>
<rect x="445.28" y="61.66" width="7.47" height="7.96" fill="#ff8787"/>
<rect x="452.45" y="61.66" width="7.47" height="7.96" fill="#ff1010"/>
<rect x="459.62" y="61.66" width="7.47" height="7.96" fill="#a9ffa9"/>
<rect x="466.79" y="61.66" width="7.47" height="7.96" fill="#66ff66"/>
<rect x="473.97" y="61.66" width="7.47" height="7.96" fill="#ffd8d8"/>
<rect x="481.14" y="61.66" width="7.47" height="7.96" fill="#ffafaf"/>
<rect x="488.31" y="61.66" width="7.47" height="7.96" fill="#ffafaf"/>
<rect x="495.48" y="61.66" width="7.47" height="7.96" fill="#ff1010"/>
<rect x="502.65" y="61.66" width="7.47" height="7.96" fill="#fff9f9"/>
<rect x="509.82" y="61.66" width="7.47" height="7.96" fill="#ffd8d8"/>
<rect x="517.00" y="61.66" width="7.47" height="7.96" fill="#ff8787"/>
<rect x="524.17" y="61.66" width="7.47" height="7.96" fill="#fff9f9"/>
<rect x="531.34" y="61.66" width="7.47" height="7.96" fill="#fff9f9"/>
<rect x="538.51" y="61.66" width="7.47" height="7.96" fill="#deffde"/>
<rect x="545.68" y="61.66" width="7.47" height="7.96" fill="#fff9f9"/>
<rect x="552.86" y="61.66" width="7.47" height="7.96" fill="#ff8787"/>
<rect x="560.03" y="61.66" width="7.47" height="7.96" fill="#a9ffa9"/>
<rect x="567.20" y="61.66" width="7.47" height="7.96" fill="#ffd8d8"/>
<rect x="574.37" y="61.66" width="7.47" height="7.96" fill="#ffafaf"/>
<rect x="581.54" y="61.66" width="7.47" height="7.96" fill="#fff9f9"/>
<rect x="588.71" y="61.66" width="7.47" height="7.96" fill="#ff8787"/>
<rect x="595.88" y="61.66" width="7.47" height="7.96" fill="#fff9f9"/>
<rect x="603.06" y="61.66" width="7.47" height="7.96" fill="#ff8787"/>
<rect x="610.23" y="61.66" width="7.47" height="7.96" fill="#deffde"/>
<rect x="402.25" y="69.32" width="7.47" height="7.96" fill="#deffde"/>
<rect x="409.42" y="69.32" width="7.47" height="7.96" fill="#a9ffa9"/>
<rect x="416.59" y="69.32" width="7.47" height="7.96" fill="#ff1010"/>
<rect x="423.76" y="69.32" width="7.47" height="7.96" fill="#ff5252"/>
<rect x="430.94" y="69.32" width="7.47" height="7.96" fill="#ffafaf"/>
<rect x="438.11" y="69.32" width="7.47" height="7.96" fill="#ff5252"/>
<rect x="445.28" y="69.32" width="7.47" height="7.96" fill="#fff9f9"/>
<rect x="452.45" y="69.32" width="7.47" height="7.96" fill="#deffde"/>
<rect x="459.62" y="69.32" width="7.47" height="7.96" fill="#ffd8d8"/>
<rect x="466.79" y="69.32" width="7.47" height="7.96" fill="#a9ffa9"/>
<rect x="473.97" y="69.32" width="7.47" height="7.96" fill="#ffd8d8"/>
<rect x="481.14" y="69.32" width="7.47" height="7.96" fill="#fff9f9"/>
<rect x="488.31" y="69.32" width="7.47" height="7.96" fill="#fff9f9"/>
<rect x="495.48" y="69.32" width="7.47" height="7.96" fill="#ff1010"/>
<rect x="502.65" y="69.32" width="7.47" height="7.96" fill="#ffd8d8"/>
<rect x="509.82" y="69.32" width="7.47" height="7.96" fill="#fff9f9"/>
<rect x="517.00" y="69.32" width="7.47" height="7.96" fill="#ff5252"/>
<rect x="524.17" y="69.32" width="7.47" height="7.96" fill="#a9ffa9"/>
<rect x="531.34" y="69.32" width="7.47" height="7.96" fill="#a9ffa9"/>
<rect x="538.51" y="69.32" width="7.47" height="7.96" fill="#fff9f9"/>
<rect x="545.68" y="69.32" width="7.47" height="7.96" fill="#ffd8d8"/>
<rect x="552.86" y="69.32" width="7.47" height="7.96" fill="#ffd8d8"/>
<rect x="560.03" y="69.32" width="7.47" height="7.96" fill="#ffd8d8"/>
<rect x="567.20" y="69.32" width="7.47" height="7.96" fill="#deffde"/>
<rect x="574.37" y="69.32" width="7.47" height="7.96" fill="#deffde"/>
<rect x="581.54" y="69.32" width="7.47" height="7.96" fill="#ffd8d8"/>
<rect x="588.71" y="69.32" width="7.47" height="7.96" fill="#ff1010"/>
<rect x="595.88" y="69.32" width="7.47" height="7.96" fill="#ffafaf"/>
<rect x="603.06" y="69.32" width="7.47" height="7.96" fill="#fff9f9"/>
<rect x="610.23" y="69.32" width="7.47" height="7.96" fill="#deffde"/>
<rect x="402.25" y="76.98" width="7.47" height="7.96" fill="#fff9f9"/>
<rect x="409.42" y="76.98" width="7.47" height="7.96" fill="#fff9f9"/>
<rect x="416.59" y="76.98" width="7.47" height="7.96" fill="#fff9f9"/>
<rect x="423.76" y="76.98" width="7.47" height="7.96" fill="#fff9f9"/>
<rect x="430.94" y="76.98" width="7.47" height="7.96" fill="#ff1010"/>
<rect x="438.11" y="76.98" width="7.47" height="7.96" fill="#ffd8d8"/>
<rect x="445.28" y="76.98" width="7.47" height="7.96" fill="#a9ffa9"/>
<rect x="452.45" y="76.98" width="7.47" height="7.96" fill="#fff9f9"/>
<rect x="459.62" y="76.98" width="7.47" height="7.96" fill="#fff9f9"/>
<rect x="466.79" y="76.98" width="7.47" height="7.96" fill="#ff8787"/>
<rect x="473.97" y="76.98" width="7.47" height="7.96" fill="#ff1010"/>
<rect x="481.14" y="76.98" width="7.47" height="7.96" fill="#deffde"/>
<rect x="488.31" y="76.98" width="7.47" height="7.96" fill="#ff8787"/>
<rect x="495.48" y="76.98" width="7.47" height="7.96" fill="#ff8787"/>
<rect x="502.65" y="76.98" width="7.47" height="7.96" fill="#ff8787"/>
<rect x="509.82" y="76.98" width="7.47" height="7.96" fill="#ffafaf"/>
<rect x="517.00" y="76.98" width="7.47" height="7.96" fill="#ffd8d8"/>
<rect x="524.17" y="76.98" width="7.47" height="7.96" fill="#ff8787"/>
<rect x="531.34" y="76.98" width="7.47" height="7.96" fill="#ff5252"/>
<rect x="538.51" y="76.98" width="7.47" height="7.96" fill="#ff8787"/>
<rect x="545.68" y="76.98" width="7.47" height="7.96" fill="#fff9f9"/>
<rect x="552.86" y="76.98" width="7.47" height="7.96" fill="#deffde"/>
<rect x="560.03" y="76.98" width="7.47" height="7.96" fill="#ff8787"/>
<rect x="567.20" y="76.98" width="7.47" height="7.96" fill="#a9ffa9"/>
<rect x="574.37" y="76.98" width="7.47" height="7.96" fill="#ffafaf"/>
<rect x="581.54" y="76.98" width="7.47" height="7.96" fill="#deffde"/>
<rect x="588.71" y="76.98" width="7.47" height="7.96" fill="#ffd8d8"/>
<rect x="595.88" y="76.98" width="7.47" height="7.96" fill="#fff9f9"/>
<rect x="603.06" y="76.98" width="7.47" height="7.96" fill="#a9ffa9"/>
<rect x="610.23" y="76.98" width="7.47" height="7.96" fill="#ffd8d8"/>
<rect x="402.25" y="84.65" width="7.47" height="7.96" fill="#ffd8d8"/>
<rect x="409.42" y="84.65" width="7.47" height="7.96" fill="#fff9f9"/>
<rect x="416.59" y="84.65" width="7.47" height="7.96" fill="#deffde"/>
<rect x="423.76" y="84.65" width="7.47" height="7.96" fill="#ffafaf"/>
<rect x="430.94" y="84.65" width="7.47" height="7.96" fill="#ff5252"/>
<rect x="438.11" y="84.65" width="7.47" height="7.96" fill="#deffde"/>
<rect x="445.28" y="84.65" width="7.47" height="7.96" fill="#ffd8d8"/>
<rect x="452.45" y="84.65" width="7.47" height="7.96" fill="#ffd8d8"/>
<rect x="459.62" y="84.65" width="7.47" height="7.96" fill="#ff5252"/>
<rect x="466.79" y="84.65" width="7.47" height="7.96" fill="#ff5252"/>
<rect x="473.97" y="84.65" width="7.47" height="7.96" fill="#ffd8d8"/>
<rect x="481.14" y="84.65" width="7.47" height="7.96" fill="#66ff66"/>
<rect x="488.31" y="84.65" width="7.47" height="7.96" fill="#fff9f9"/>
<rect x="495.48" y="84.65" width="7.47" height="7.96" fill="#fff9f9"/>
<rect x="502.65" y="84.65" width="7.47" height="7.96" fill="#ffafaf"/>
<rect x="509.82" y="84.65" width="7.47" height="7.96" fill="#ffd8d8"/>
<rect x="517.00" y="84.65" width="7.47" height="7.96" fill="#ffafaf"/>
<rect x="524.17" y="84.65" width="7.47" height="7.96" fill="#ff5252"/>
<rect x="531.34" y="84.65" width="7.47" height="7.96" fill="#fff9f9"/>
<rect x="538.51" y="84.65" width="7.47" height="7.96" fill="#ff5252"/>
<rect x="545.68" y="84.65" width="7.47" height="7.96" fill="#fff9f9"/>
<rect x="552.86" y="84.65" width="7.47" height="7.96" fill="#ff5252"/>
<rect x="560.03" y="84.65" width="7.47" height="7.96" fill="#ffd8d8"/>
<rect x="567.20" y="84.65" width="7.47" height="7.96" fill="#ffafaf"/>
<rect x="574.37" y="84.65" width="7.47" height="7.96" fill="#ffafaf"/>
<rect x="581.54" y="84.65" width="7.47" height="7.96" fill="#ff5252"/>
<rect x="588.71" y="84.65" width="7.47" height="7.96" fill="#fff9f9"/>
<rect x="595.88" y="84.65" width="7.47" height="7.96" fill="#ff1010"/>
<rect x="603.06" y="84.65" width="7.47" height="7.96" fill="#deffde"/>
<rect x="610.23" y="84.65" width="7.47" height="7.96" fill="#deffde"/>
<rect x="402.25" y="92.31" width="7.47" height="7.96" fill="#ffd8d8"/>
<rect x="409.42" y="92.31" width="7.47" height="7.96" fill="#ffafaf"/>
<rect x="416.59" y="92.31" width="7.47" height="7.96" fill="#ff8787"/>
<rect x="423.76" y="92.31" width="7.47" height="7.96" fill="#ffd8d8"/>
<rect x="430.94" y="92.31" width="7.47" height="7.96" fill="#ffafaf"/>
<rect x="438.11" y="92.31" width="7.47" height="7.96" fill="#a9ffa9"/>
<rect x="445.28" y="92.31" width="7.47" height="7.96" fill="#ff5252"/>
<rect x="452.45" y="92.31" width="7.47" height="7.96" fill="#ffafaf"/>
<rect x="459.62" y="92.31" width="7.47" height="7.96" fill="#ffafaf"/>
<rect x="466.79" y="92.31" width="7.47" height="7.96" fill="#deffde"/>
<rect x="473.97" y="92.31" width="7.47" height="7.96" fill="#deffde"/>
<rect x="481.14" y="92.31" width="7.47" height="7.96" fill="#ffafaf"/>
<rect x="488.31" y="92.31" width="7.47" height="7.96" fill="#fff9f9"/>
<rect x="495.48" y="92.31" width="7.47" height="7.96" fill="#ffd8d8"/>
<rect x="502.65" y="92.31" width="7.47" height="7.96" fill="#ffafaf"/>
<rect x="509.82" y="92.31" width="7.47" height="7.96" fill="#ff8787"/>
<rect x="517.00" y="92.31" width="7.47" height="7.96" fill="#fff9f9"/>
<rect x="524.17" y="92.31" width="7.47" height="7.96" fill="#66ff66"/>
<rect x="531.34" y="92.31" width="7.47" height="7.96" fill="#ff8787"/>
<rect x="538.51" y="92.31" width="7.47" height="7.96" fill="#fff9f9"/>
<rect x="545.68" y="92.31" width="7.47" height="7.96" fill="#ff8787"/>
<rect x="552.86" y="92.31" width="7.47" height="7.96" fill="#ff5252"/>
<rect x="560.03" y="92.31" width="7.47" height="7.96" fill="#fff9f9"/>
<rect x="567.20" y="92.31" width="7.47" height="7.96" fill="#ff5252"/>
<rect x="574.37" y="92.31" width="7.47" height="7.96" fill="#deffde"/>
<rect x="581.54" y="92.31" width="7.47" height="7.96" fill="#a9ffa9"/>
<rect x="588.71" y="92.31" width="7.47" height="7.96" fill="#ff8787"/>
<rect x="595.88" y="92.31" width="7.47" height="7.96" fill="#ffd8d8"/>
<rect x="603.06" y="92.31" width="7.47" height="7.96" fill="#deffde"/>
<rect x="610.23" y="92.31" width="7.47" height="7.96" fill="#ff8787"/>
<rect x="402.25" y="99.98" width="7.47" height="7.96" fill="#ffafaf"/>
<rect x="409.42" y="99.98" width="7.47" height="7.96" fill="#fff9f9"/>
<rect x="416.59" y="99.98" width="7.47" height="7.96" fill="#ff1010"/>
<rect x="423.76" y="99.98" width="7.47" height="7.96" fill="#ffafaf"/>
<rect x="430.94" y="99.98" width="7.47" height="7.96" fill="#fff9f9"/>
<rect x="438.11" y="99.98" width="7.47" height="7.96" fill="#ff8787"/>
<rect x="445.28" y="99.98" width="7.47" height="7.96" fill="#66ff66"/>
<rect x="452.45" y="99.98" width="7.47" height="7.96" fill="#ff5252"/>
<rect x="459.62" y="99.98" width="7.47" height="7.96" fill="#ffafaf"/>
<rect x="466.79" y="99.98" width="7.47" height="7.96" fill="#ffafaf"/>
<rect x="473.97" y="99.98" width="7.47" height="7.96" fill="#66ff66"/>
<rect x="481.14" y="99.98" width="7.47" height="7.96" fill="#ffafaf"/>
<rect x="488.31" y="99.98" width="7.47" height="7.96" fill="#deffde"/>
<rect x="495.48" y="99.98" width="7.47" height="7.96" fill="#deffde"/>
<rect x="502.65" y="99.98" width="7.47" height="7.96" fill="#66ff66"/>
<rect x="509.82" y="99.98" width="7.47" height="7.96" fill="#ff1010"/>
<rect x="517.00" y="99.98" width="7.47" height="7.96" fill="#ff8787"/>
<rect x="524.17" y="99.98" width="7.47" height="7.96" fill="#ff8787"/>
<rect x="531.34" y="99.98" width="7.47" height="7.96" fill="#ff5252"/>
<rect x="538.51" y="99.98" width="7.47" height="7.96" fill="#ff1010"/>
<rect x="545.68" y="99.98" width="7.47" height="7.96" fill="#deffde"/>
<rect x="552.86" y="99.98" width="7.47" height="7.96" fill="#ff5252"/>
<rect x="560.03" y="99.98" width="7.47" height="7.96" fill="#fff9f9"/>
<rect x="567.20" y="99.98" width="7.47" height="7.96" fill="#ffd8d8"/>
<rect x="574.37" y="99.98" width="7.47" height="7.96" fill="#ffafaf"/>
<rect x="581.54" y="99.98" width="7.47" height="7.96" fill="#fff9f9"/>
<rect x="588.71" y="99.98" width="7.47" height="7.96" fill="#a9ffa9"/>
<rect x="595.88" y="99.98" width="7.47" height="7.96" fill="#fff9f9"/>
<rect x="603.06" y="99.98" width="7.47" height="7.96" fill="#ff8787"/>
<rect x="610.23" y="99.98" width="7.47" height="7.96" fill="#ffafaf"/>
<rect x="402.25" y="107.64" width="7.47" height="7.96" fill="#ffafaf"/>
<rect x="409.42" y="107.64" width="7.47" height="7.96" fill="#ffafaf"/>
<rect x="416.59" y="107.64" width="7.47" height="7.96" fill="#ff8787"/>
<rect x="423.76" y="107.64" width="7.47" height="7.96" fill="#a9ffa9"/>
<rect x="430.94" y="107.64" width="7.47" height="7.96" fill="#ff5252"/>
<rect x="438.11" y="107.64" width="7.47" height="7.96" fill="#fff9f9"/>
<rect x="445.28" y="107.64" width="7.47" height="7.96" fill="#fff9f9"/>
<rect x="452.45" y="107.64" width="7.47" height="7.96" fill="#ffd8d8"/>
<rect x="459.62" y="107.64" width="7.47" height="7.96" fill="#deffde"/>
<rect x="466.79" y="107.64" width="7.47" height="7.96" fill="#fff9f9"/>
<rect x="473.97" y="107.64" width="7.47" height="7.96" fill="#ffafaf"/>
<rect x="481.14" y="107.64" width="7.47" height="7.96" fill="#fff9f9"/>
<rect x="488.31" y="107.64" width="7.47" height="7.96" fill="#a9ffa9"/>
<rect x="495.48" y="107.64" width="7.47" height="7.96" fill="#ff5252"/>
<rect x="502.65" y="107.64" width="7.47" height="7.96" fill="#66ff66"/>
<rect x="509.82" y="107.64" width="7.47" height="7.96" fill="#fff9f9"/>
<rect x="517.00" y="107.64" width="7.47" height="7.96" fill="#fff9f9"/>
<rect x="524.17" y="107.64" width="7.47" height="7.96" fill="#fff9f9"/>
<rect x="531.34" y="107.64" width="7.47" height="7.96" fill="#fff9f9"/>
<rect x="538.51" y="107.64" width="7.47" height="7.96" fill="#fff9f9"/>
<rect x="545.68" y="107.64" width="7.47" height="7.96" fill="#ffd8d8"/>
<rect x="552.86" y="107.64" width="7.47" height="7.96" fill="#ffafaf"/>
<rect x="560.03" y="107.64" width="7.47" height="7.96" fill="#a9ffa9"/>
<rect x="567.20" y="107.64" width="7.47" height="7.96" fill="#66ff66"/>
<rect x="574.37" y="107.64" width="7.47" height="7.96" fill="#fff9f9"/>
<rect x="581.54" y="107.64" width="7.47" height="7.96" fill="#ffafaf"/>
<rect x="588.71" y="107.64" width="7.47" height="7.96" fill="#ff8787"/>
<rect x="595.88" y="107.64" width="7.47" height="7.96" fill="#ff5252"/>
<rect x="603.06" y="107.64" width="7.47" height="7.96" fill="#66ff66"/>
<rect x="610.23" y="107.64" width="7.47" height="7.96" fill="#ffafaf"/>
<rect x="402.25" y="115.31" width="7.47" height="7.96" fill="#deffde"/>
<rect x="409.42" y="115.31" width="7.47" height="7.96" fill="#ffd8d8"/>
<rect x="416.59" y="115.31" width="7.47" height="7.96" fill="#ff8787"/>
<rect x="423.76" y="115.31" width="7.47" height="7.96" fill="#ff8787"/>
<rect x="430.94" y="115.31" width="7.47" height="7.96" fill="#ff8787"/>
<rect x="438.11" y="115.31" width="7.47" height="7.96" fill="#ffd8d8"/>
<rect x="445.28" y="115.31" width="7.47" height="7.96" fill="#deffde"/>
<rect x="452.45" y="115.31" width="7.47" height="7.96" fill="#ffd8d8"/>
<rect x="459.62" y="115.31" width="7.47" height="7.96" fill="#deffde"/>
<rect x="466.79" y="115.31" width="7.47" height="7.96" fill="#ffafaf"/>
<rect x="473.97" y="115.31" width="7.47" height="7.96" fill="#a9ffa9"/>
<rect x="481.14" y="115.31" width="7.47" height="7.96" fill="#ff1010"/>
<rect x="488.31" y="115.31" width="7.47" height="7.96" fill="#fff9f9"/>
<rect x="495.48" y="115.31" width="7.47" height="7.96" fill="#ffd8d8"/>
<rect x="502.65" y="115.31" width="7.47" height="7.96" fill="#ffd8d8"/>
<rect x="509.82" y="115.31" width="7.47" height="7.96" fill="#ff8787"/>
<rect x="517.00" y="115.31" width="7.47" height="7.96" fill="#ff8787"/>
<rect x="524.17" y="115.31" width="7.47" height="7.96" fill="#ffd8d8"/>
<rect x="531.34" y="115.31" width="7.47" height="7.96" fill="#ffd8d8"/>
<rect x="538.51" y="115.31" width="7.47" height="7.96" fill="#fff9f9"/>
<rect x="545.68" y="115.31" width="7.47" height="7.96" fill="#ff1010"/>
<rect x="552.86" y="115.31" width="7.47" height="7.96" fill="#fff9f9"/>
<rect x="560.03" y="115.31" width="7.47" height="7.96" fill="#ff1010"/>
<rect x="567.20" y="115.31" width="7.47" height="7.96" fill="#fff9f9"/>
<rect x="574.37" y="115.31" width="7.47" height="7.96" fill="#ff1010"/>
<rect x="581.54" y="115.31" width="7.47" height="7.96" fill="#fff9f9"/>
<rect x="588.71" y="115.31" width="7.47" height="7.96" fill="#a9ffa9"/>
<rect x="595.88" y="115.31" width="7.47" height="7.96" fill="#a9ffa9"/>
<rect x="603.06" y="115.31" width="7.47" height="7.96" fill="#a9ffa9"/>
<rect x="610.23" y="115.31" width="7.47" height="7.96" fill="#ffd8d8"/>
<rect x="402.25" y="122.97" width="7.47" height="7.96" fill="#ff5252"/>
<rect x="409.42" y="122.97" width="7.47" height="7.96" fill="#fff9f9"/>
<rect x="416.59" y="122.97" width="7.47" height="7.96" fill="#ffafaf"/>
<rect x="423.76" y="122.97" width="7.47" height="7.96" fill="#ff8787"/>
<rect x="430.94" y="122.97" width="7.47" height="7.96" fill="#ff8787"/>
<rect x="438.11" y="122.97" width="7.47" height="7.96" fill="#ffafaf"/>
<rect x="445.28" y="122.97" width="7.47" height="7.96" fill="#ffd8d8"/>
<rect x="452.45" y="122.97" width="7.47" height="7.96" fill="#ff1010"/>
<rect x="459.62" y="122.97" width="7.47" height="7.96" fill="#ffafaf"/>
<rect x="466.79" y="122.97" width="7.47" height="7.96" fill="#ffd8d8"/>
<rect x="473.97" y="122.97" width="7.47" height="7.96" fill="#ff8787"/>
<rect x="481.14" y="122.97" width="7.47" height="7.96" fill="#ff5252"/>
<rect x="488.31" y="122.97" width="7.47" height="7.96" fill="#fff9f9"/>
<rect x="495.48" y="122.97" width="7.47" height="7.96" fill="#ff5252"/>
<rect x="502.65" y="122.97" width="7.47" height="7.96" fill="#ff5252"/>
<rect x="509.82" y="122.97" width="7.47" height="7.96" fill="#deffde"/>
<rect x="517.00" y="122.97" width="7.47" height="7.96" fill="#ff8787"/>
<rect x="524.17" y="122.97" width="7.47" height="7.96" fill="#ff5252"/>
<rect x="531.34" y="122.97" width="7.47" height="7.96" fill="#fff9f9"/>
<rect x="538.51" y="122.97" width="7.47" height="7.96" fill="#ff8787"/>
<rect x="545.68" y="122.97" width="7.47" height="7.96" fill="#fff9f9"/>
<rect x="552.86" y="122.97" width="7.47" height="7.96" fill="#ff8787"/>
<rect x="560.03" y="122.97" width="7.47" height="7.96" fill="#fff9f9"/>
<rect x="567.20" y="122.97" width="7.47" height="7.96" fill="#fff9f9"/>
<rect x="574.37" y="122.97" width="7.47" height="7.96" fill="#ffd8d8"/>
<rect x="581.54" y="122.97" width="7.47" height="7.96" fill="#ffafaf"/>
<rect x="588.71" y="122.97" width="7.47" height="7.96" fill="#ffafaf"/>
<rect x="595.88" y="122.97" width="7.47" height="7.96" fill="#ffd8d8"/>
<rect x="603.06" y="122.97" width="7.47" height="7.96" fill="#a9ffa9"/>
<rect x="610.23" y="122.97" width="7.47" height="7.96" fill="#ff5252"/>
<rect x="402.25" y="130.64" width="7.47" height="7.96" fill="#ffd8d8"/>
<rect x="409.42" y="130.64" width="7.47" height="7.96" fill="#ffafaf"/>
<rect x="416.59" y="130.64" width="7.47" height="7.96" fill="#ff8787"/>
<rect x="423.76" y="130.64" width="7.47" height="7.96" fill="#fff9f9"/>
<rect x="430.94" y="130.64" width="7.47" height="7.96" fill="#fff9f9"/>
<rect x="438.11" y="130.64" width="7.47" height="7.96" fill="#fff9f9"/>
<rect x="445.28" y="130.64" width="7.47" height="7.96" fill="#ffafaf"/>
<rect x="452.45" y="130.64" width="7.47" height="7.96" fill="#ff5252"/>
<rect x="459.62" y="130.64" width="7.47" height="7.96" fill="#ffafaf"/>
<rect x="466.79" y="130.64" width="7.47" height="7.96" fill="#ffafaf"/>
<rect x="473.97" y="130.64" width="7.47" height="7.96" fill="#a9ffa9"/>
<rect x="481.14" y="130.64" width="7.47" height="7.96" fill="#a9ffa9"/>
<rect x="488.31" y="130.64" width="7.47" height="7.96" fill="#deffde"/>
<rect x="495.48" y="130.64" width="7.47" height="7.96" fill="#fff9f9"/>
<rect x="502.65" y="130.64" width="7.47" height="7.96" fill="#ff5252"/>
<rect x="509.82" y="130.64" width="7.47" height="7.96" fill="#ff8787"/>
<rect x="517.00" y="130.64" width="7.47" height="7.96" fill="#ffafaf"/>
<rect x="524.17" y="130.64" width="7.47" height="7.96" fill="#fff9f9"/>
<rect x="531.34" y="130.64" width="7.47" height="7.96" fill="#ffafaf"/>
<rect x="538.51" y="130.64" width="7.47" height="7.96" fill="#ffd8d8"/>
<rect x="545.68" y="130.64" width="7.47" height="7.96" fill="#deffde"/>
<rect x="552.86" y="130.64" width="7.47" height="7.96" fill="#deffde"/>
<rect x="560.03" y="130.64" width="7.47" height="7.96" fill="#fff9f9"/>
<rect x="567.20" y="130.64" width="7.47" height="7.96" fill="#fff9f9"/>
<rect x="574.37" y="130.64" width="7.47" height="7.96" fill="#ff5252"/>
<rect x="581.54" y="130.64" width="7.47" height="7.96" fill="#a9ffa9"/>
<rect x="588.71" y="130.64" width="7.47" height="7.96" fill="#ff1010"/>
<rect x="595.88" y="130.64" width="7.47" height="7.96" fill="#deffde"/>
<rect x="603.06" y="130.64" width="7.47" height="7.96" fill="#fff9f9"/>
<rect x="610.23" y="130.64" width="7.47" height="7.96" fill="#ff8787"/>
<rect x="402.25" y="138.31" width="7.47" height="7.96" fill="#deffde"/>
<rect x="409.42" y="138.31" width="7.47" height="7.96" fill="#ff5252"/>
<rect x="416.59" y="138.31" width="7.47" height="7.96" fill="#ff8787"/>
<rect x="423.76" y="138.31" width="7.47" height="7.96" fill="#deffde"/>
<rect x="430.94" y="138.31" width="7.47" height="7.96" fill="#deffde"/>
<rect x="438.11" y="138.31" width="7.47" height="7.96" fill="#ffafaf"/>
<rect x="445.28" y="138.31" width="7.47" height="7.96" fill="#fff9f9"/>
<rect x="452.45" y="138.31" width="7.47" height="7.96" fill="#deffde"/>
<rect x="459.62" y="138.31" width="7.47" height="7.96" fill="#ff1010"/>
<rect x="466.79" y="138.31" width="7.47" height="7.96" fill="#ffd8d8"/>
<rect x="473.97" y="138.31" width="7.47" height="7.96" fill="#ffafaf"/>
<rect x="481.14" y="138.31" width="7.47" height="7.96" fill="#fff9f9"/>
<rect x="488.31" y="138.31" width="7.47" height="7.96" fill="#66ff66"/>
<rect x="495.48" y="138.31" width="7.47" height="7.96" fill="#ffd8d8"/>
<rect x="502.65" y="138.31" width="7.47" height="7.96" fill="#fff9f9"/>
<rect x="509.82" y="138.31" width="7.47" height="7.96" fill="#ffafaf"/>
<rect x="517.00" y="138.31" width="7.47" height="7.96" fill="#ff5252"/>
<rect x="524.17" y="138.31" width="7.47" height="7.96" fill="#ffafaf"/>
<rect x="531.34" y="138.31" width="7.47" height="7.96" fill="#a9ffa9"/>
<rect x="538.51" y="138.31" width="7.47" height="7.96" fill="#fff9f9"/>
<rect x="545.68" y="138.31" width="7.47" height="7.96" fill="#ffd8d8"/>
<rect x="552.86" y="138.31" width="7.47" height="7.96" fill="#a9ffa9"/>
<rect x="560.03" y="138.31" width="7.47" height="7.96" fill="#ffd8d8"/>
<rect x="567.20" y="138.31" width="7.47" height="7.96" fill="#fff9f9"/>
<rect x="574.37" y="138.31" width="7.47" height="7.96" fill="#fff9f9"/>
<rect x="581.54" y="138.31" width="7.47" height="7.96" fill="#ffafaf"/>
<rect x="588.71" y="138.31" width="7.47" height="7.96" fill="#ffd8d8"/>
<rect x="595.88" y="138.31" width="7.47" height="7.96" fill="#ff5252"/>
<rect x="603.06" y="138.31" width="7.47" height="7.96" fill="#fff9f9"/>
<rect x="610.23" y="138.31" width="7.47" height="7.96" fill="#fff9f9"/>
<rect x="402.25" y="145.97" width="7.47" height="7.96" fill="#ff8787"/>
<rect x="409.42" y="145.97" width="7.47" height="7.96" fill="#ff8787"/>
<rect x="416.59" y="145.97" width="7.47" height="7.96" fill="#ff1010"/>
<rect x="423.76" y="145.97" width="7.47" height="7.96" fill="#ffd8d8"/>
<rect x="430.94" y="145.97" width="7.47" height="7.96" fill="#a9ffa9"/>
<rect x="438.11" y="145.97" width="7.47" height="7.96" fill="#ffafaf"/>
<rect x="445.28" y="145.97" width="7.47" height="7.96" fill="#ff8787"/>
<rect x="452.45" y="145.97" width="7.47" height="7.96" fill="#ff5252"/>
<rect x="459.62" y="145.97" width="7.47" height="7.96" fill="#fff9f9"/>
<rect x="466.79" y="145.97" width="7.47" height="7.96" fill="#ff5252"/>
<rect x="473.97" y="145.97" width="7.47" height="7.96" fill="#ffafaf"/>
<rect x="481.14" y="145.97" width="7.47" height="7.96" fill="#66ff66"/>
<rect x="488.31" y="145.97" width="7.47" height="7.96" fill="#deffde"/>
<rect x="495.48" y="145.97" width="7.47" height="7.96" fill="#deffde"/>
<rect x="502.65" y="145.97" width="7.47" height="7.96" fill="#fff9f9"/>
<rect x="509.82" y="145.97" width="7.47" height="7.96" fill="#deffde"/>
<rect x="517.00" y="145.97" width="7.47" height="7.96" fill="#fff9f9"/>
<rect x="524.17" y="145.97" width="7.47" height="7.96" fill="#ffd8d8"/>
<rect x="531.34" y="145.97" width="7.47" height="7.96" fill="#ff8787"/>
<rect x="538.51" y="145.97" width="7.47" height="7.96" fill="#ff8787"/>
<rect x="545.68" y="145.97" width="7.47" height="7.96" fill="#ff5252"/>
<rect x="552.86" y="145.97" width="7.47" height="7.96" fill="#ffd8d8"/>
<rect x="560.03" y="145.97" width="7.47" height="7.96" fill="#ff8787"/>
<rect x="567.20" y="145.97" width="7.47" height="7.96" fill="#ff8787"/>
<rect x="574.37" y="145.97" width="7.47" height="7.96" fill="#fff9f9"/>
<rect x="581.54" y="145.97" width="7.47" height="7.96" fill="#fff9f9"/>
<rect x="588.71" y="145.97" width="7.47" height="7.96" fill="#fff9f9"/>
<rect x="595.88" y="145.97" width="7.47" height="7.96" fill="#ffd8d8"/>
<rect x="603.06" y="145.97" width="7.47" height="7.96" fill="#ffd8d8"/>
<rect x="610.23" y="145.97" width="7.47" height="7.96" fill="#66ff66"/>
<rect x="402.25" y="153.63" width="7.47" height="7.96" fill="#fff9f9"/>
<rect x="409.42" y="153.63" width="7.47" height="7.96" fill="#ffd8d8"/>
<rect x="416.59" y="153.63" width="7.47" height="7.96" fill="#fff9f9"/>
<rect x="423.76" y="153.63" width="7.47" height="7.96" fill="#ffd8d8"/>
<rect x="430.94" y="153.63" width="7.47" height="7.96" fill="#deffde"/>
<rect x="438.11" y="153.63" width="7.47" height="7.96" fill="#ff8787"/>
<rect x="445.28" y="153.63" width="7.47" height="7.96" fill="#ff8787"/>
<rect x="452.45" y="153.63" width="7.47" height="7.96" fill="#ffafaf"/>
<rect x="459.62" y="153.63" width="7.47" height="7.96" fill="#ff8787"/>
<rect x="466.79" y="153.63" width="7.47" height="7.96" fill="#ffafaf"/>
<rect x="473.97" y="153.63" width="7.47" height="7.96" fill="#ff8787"/>
<rect x="481.14" y="153.63" width="7.47" height="7.96" fill="#deffde"/>
<rect x="488.31" y="153.63" width="7.47" height="7.96" fill="#66ff66"/>
<rect x="495.48" y="153.63" width="7.47" height="7.96" fill="#ffafaf"/>
<rect x="502.65" y="153.63" width="7.47" height="7.96" fill="#fff9f9"/>
<rect x="509.82" y="153.63" width="7.47" height="7.96" fill="#ffd8d8"/>
<rect x="517.00" y="153.63" width="7.47" height="7.96" fill="#ff5252"/>
<rect x="524.17" y="153.63" width="7.47" height="7.96" fill="#fff9f9"/>
<rect x="531.34" y="153.63" width="7.47" height="7.96" fill="#a9ffa9"/>
<rect x="538.51" y="153.63" width="7.47" height="7.96" fill="#ff8787"/>
<rect x="545.68" y="153.63" width="7.47" height="7.96" fill="#a9ffa9"/>
<rect x="552.86" y="153.63" width="7.47" height="7.96" fill="#ff5252"/>
<rect x="560.03" y="153.63" width="7.47" height="7.96" fill="#ffafaf"/>
<rect x="567.20" y="153.63" width="7.47" height="7.96" fill="#ffafaf"/>
<rect x="574.37" y="153.63" width="7.47" height="7.96" fill="#66ff66"/>
<rect x="581.54" y="153.63" width="7.47" height="7.96" fill="#66ff66"/>
<rect x="588.71" y="153.63" width="7.47" height="7.96" fill="#ffafaf"/>
<rect x="595.88" y="153.63" width="7.47" height="7.96" fill="#ffafaf"/>
<rect x="603.06" y="153.63" width="7.47" height="7.96" fill="#deffde"/>
<rect x="610.23" y="153.63" width="7.47" height="7.96" fill="#ffd8d8"/>
<rect x="402.25" y="161.30" width="7.47" height="7.96" fill="#ffafaf"/>
<rect x="409.42" y="161.30" width="7.47" height="7.96" fill="#deffde"/>
<rect x="416.59" y="161.30" width="7.47" height="7.96" fill="#deffde"/>
<rect x="423.76" y="161.30" width="7.47" height="7.96" fill="#ff8787"/>
<rect x="430.94" y="161.30" width="7.47" height="7.96" fill="#a9ffa9"/>
<rect x="438.11" y="161.30" width="7.47" height="7.96" fill="#fff9f9"/>
<rect x="445.28" y="161.30" width="7.47" height="7.96" fill="#ff8787"/>
<rect x="452.45" y="161.30" width="7.47" height="7.96" fill="#fff9f9"/>
<rect x="459.62" y="161.30" width="7.47" height="7.96" fill="#ffafaf"/>
<rect x="466.79" y="161.30" width="7.47" height="7.96" fill="#fff9f9"/>
<rect x="473.97" y="161.30" width="7.47" height="7.96" fill="#ffafaf"/>
<rect x="481.14" y="161.30" width="7.47" height="7.96" fill="#66ff66"/>
<rect x="488.31" y="161.30" width="7.47" height="7.96" fill="#fff9f9"/>
<rect x="495.48" y="161.30" width="7.47" height="7.96" fill="#fff9f9"/>
<rect x="502.65" y="161.30" width="7.47" height="7.96" fill="#a9ffa9"/>
<rect x="509.82" y="161.30" width="7.47" height="7.96" fill="#ffd8d8"/>
<rect x="517.00" y="161.30" width="7.47" height="7.96" fill="#fff9f9"/>
<rect x="524.17" y="161.30" width="7.47" height="7.96" fill="#deffde"/>
<rect x="531.34" y="161.30" width="7.47" height="7.96" fill="#ffafaf"/>
<rect x="538.51" y="161.30" width="7.47" height="7.96" fill="#fff9f9"/>
<rect x="545.68" y="161.30" width="7.47" height="7.96" fill="#ff1010"/>
<rect x="552.86" y="161.30" width="7.47" height="7.96" fill="#ffafaf"/>
<rect x="560.03" y="161.30" width="7.47" height="7.96" fill="#ffd8d8"/>
<rect x="567.20" y="161.30" width="7.47" height="7.96" fill="#deffde"/>
<rect x="574.37" y="161.30" width="7.47" height="7.96" fill="#deffde"/>
<rect x="581.54" y="161.30" width="7.47" height="7.96" fill="#ffafaf"/>
<rect x="588.71" y="161.30" width="7.47" height="7.96" fill="#ffd8d8"/>
<rect x="595.88" y="161.30" width="7.47" height="7.96" fill="#ffd8d8"/>
<rect x="603.06" y="161.30" width="7.47" height="7.96" fill="#ffafaf"/>
<rect x="610.23" y="161.30" width="7.47" height="7.96" fill="#ffafaf"/>
<rect x="402.25" y="168.97" width="7.47" height="7.96" fill="#fff9f9"/>
<rect x="409.42" y="168.97" width="7.47" height="7.96" fill="#deffde"/>
<rect x="416.59" y="168.97" width="7.47" height="7.96" fill="#ff8787"/>
<rect x="423.76" y="168.97" width="7.47" height="7.96" fill="#deffde"/>
<rect x="430.94" y="168.97" width="7.47" height="7.96" fill="#ffd8d8"/>
<rect x="438.11" y="168.97" width="7.47" height="7.96" fill="#ffafaf"/>
<rect x="445.28" y="168.97" width="7.47" height="7.96" fill="#ffafaf"/>
<rect x="452.45" y="168.97" width="7.47" height="7.96" fill="#ff1010"/>
<rect x="459.62" y="168.97" width="7.47" height="7.96" fill="#ff8787"/>
<rect x="466.79" y="168.97" width="7.47" height="7.96" fill="#ff5252"/>
<rect x="473.97" y="168.97" width="7.47" height="7.96" fill="#ff1010"/>
<rect x="481.14" y="168.97" width="7.47" height="7.96" fill="#ff8787"/>
<rect x="488.31" y="168.97" width="7.47" height="7.96" fill="#deffde"/>
<rect x="495.48" y="168.97" width="7.47" height="7.96" fill="#66ff66"/>
<rect x="502.65" y="168.97" width="7.47" height="7.96" fill="#a9ffa9"/>
<rect x="509.82" y="168.97" width="7.47" height="7.96" fill="#deffde"/>
<rect x="517.00" y="168.97" width="7.47" height="7.96" fill="#ffd8d8"/>
<rect x="524.17" y="168.97" width="7.47" height="7.96" fill="#ff1010"/>
<rect x="531.34" y="168.97" width="7.47" height="7.96" fill="#deffde"/>
<rect x="538.51" y="168.97" width="7.47" height="7.96" fill="#ffd8d8"/>
<rect x="545.68" y="168.97" width="7.47" height="7.96" fill="#a9ffa9"/>
<rect x="552.86" y="168.97" width="7.47" height="7.96" fill="#ff5252"/>
<rect x="560.03" y="168.97" width="7.47" height="7.96" fill="#a9ffa9"/>
<rect x="567.20" y="168.97" width="7.47" height="7.96" fill="#ff8787"/>
<rect x="574.37" y="168.97" width="7.47" height="7.96" fill="#ffafaf"/>
<rect x="581.54" y="168.97" width="7.47" height="7.96" fill="#fff9f9"/>
<rect x="588.71" y="168.97" width="7.47" height="7.96" fill="#deffde"/>
<rect x="595.88" y="168.97" width="7.47" height="7.96" fill="#ff5252"/>
<rect x="603.06" y="168.97" width="7.47" height="7.96" fill="#ffd8d8"/>
<rect x="610.23" y="168.97" width="7.47" height="7.96" fill="#fff9f9"/>
<rect x="402.25" y="176.63" width="7.47" height="7.96" fill="#ffd8d8"/>
<rect x="409.42" y="176.63" width="7.47" height="7.96" fill="#ffd8d8"/>
<rect x="416.59" y="176.63" width="7.47" height="7.96" fill="#ffd8d8"/>
<rect x="423.76" y="176.63" width="7.47" height="7.96" fill="#66ff66"/>
<rect x="430.94" y="176.63" width="7.47" height="7.96" fill="#ff8787"/>
<rect x="438.11" y="176.63" width="7.47" height="7.96" fill="#ffafaf"/>
<rect x="445.28" y="176.63" width="7.47" height="7.96" fill="#ffd8d8"/>
<rect x="452.45" y="176.63" width="7.47" height="7.96" fill="#fff9f9"/>
<rect x="459.62" y="176.63" width="7.47" height="7.96" fill="#a9ffa9"/>
<rect x="466.79" y="176.63" width="7.47" height="7.96" fill="#ffd8d8"/>
<rect x="473.97" y="176.63" width="7.47" height="7.96" fill="#ffd8d8"/>
<rect x="481.14" y="176.63" width="7.47" height="7.96" fill="#deffde"/>
<rect x="488.31" y="176.63" width="7.47" height="7.96" fill="#fff9f9"/>
<rect x="495.48" y="176.63" width="7.47" height="7.96" fill="#fff9f9"/>
<rect x="502.65" y="176.63" width="7.47" height="7.96" fill="#a9ffa9"/>
<rect x="509.82" y="176.63" width="7.47" height="7.96" fill="#ffafaf"/>
<rect x="517.00" y="176.63" width="7.47" height="7.96" fill="#fff9f9"/>
<rect x="524.17" y="176.63" width="7.47" height="7.96" fill="#ffd8d8"/>
<rect x="531.34" y="176.63" width="7.47" height="7.96" fill="#fff9f9"/>
<rect x="538.51" y="176.63" width="7.47" height="7.96" fill="#fff9f9"/>
<rect x="545.68" y="176.63" width="7.47" height="7.96" fill="#a9ffa9"/>
<rect x="552.86" y="176.63" width="7.47" height="7.96" fill="#a9ffa9"/>
<rect x="560.03" y="176.63" width="7.47" height="7.96" fill="#a9ffa9"/>
<rect x="567.20" y="176.63" width="7.47" height="7.96" fill="#ffafaf"/>
<rect x="574.37" y="176.63" width="7.47" height="7.96" fill="#fff9f9"/>
<rect x="581.54" y="176.63" width="7.47" height="7.96" fill="#fff9f9"/>
<rect x="588.71" y="176.63" width="7.47" height="7.96" fill="#fff9f9"/>
<rect x="595.88" y="176.63" width="7.47" height="7.96" fill="#a9ffa9"/>
<rect x="603.06" y="176.63" width="7.47" height="7.96" fill="#fff9f9"/>
<rect x="610.23" y="176.63" width="7.47" height="7.96" fill="#66ff66"/>
<rect x="402.25" y="184.29" width="7.47" height="7.96" fill="#ffafaf"/>
<rect x="409.42" y="184.29" width="7.47" height="7.96" fill="#ff8787"/>
<rect x="416.59" y="184.29" width="7.47" height="7.96" fill="#deffde"/>
<rect x="423.76" y="184.29" width="7.47" height="7.96" fill="#ff8787"/>
<rect x="430.94" y="184.29" width="7.47" height="7.96" fill="#deffde"/>
<rect x="438.11" y="184.29" width="7.47" height="7.96" fill="#fff9f9"/>
<rect x="445.28" y="184.29" width="7.47" height="7.96" fill="#ffd8d8"/>
<rect x="452.45" y="184.29" width="7.47" height="7.96" fill="#ff8787"/>
<rect x="459.62" y="184.29" width="7.47" height="7.96" fill="#ff1010"/>
<rect x="466.79" y="184.29" width="7.47" height="7.96" fill="#ff8787"/>
<rect x="473.97" y="184.29" width="7.47" height="7.96" fill="#fff9f9"/>
<rect x="481.14" y="184.29" width="7.47" height="7.96" fill="#fff9f9"/>
<rect x="488.31" y="184.29" width="7.47" height="7.96" fill="#ffafaf"/>
<rect x="495.48" y="184.29" width="7.47" height="7.96" fill="#66ff66"/>
<rect x="502.65" y="184.29" width="7.47" height="7.96" fill="#ff8787"/>
<rect x="509.82" y="184.29" width="7.47" height="7.96" fill="#ff1010"/>
<rect x="517.00" y="184.29" width="7.47" height="7.96" fill="#fff9f9"/>
<rect x="524.17" y="184.29" width="7.47" height="7.96" fill="#ffd8d8"/>
<rect x="531.34" y="184.29" width="7.47" height="7.96" fill="#deffde"/>
<rect x="538.51" y="184.29" width="7.47" height="7.96" fill="#deffde"/>
<rect x="545.68" y="184.29" width="7.47" height="7.96" fill="#deffde"/>
<rect x="552.86" y="184.29" width="7.47" height="7.96" fill="#ffafaf"/>
<rect x="560.03" y="184.29" width="7.47" height="7.96" fill="#fff9f9"/>
<rect x="567.20" y="184.29" width="7.47" height="7.96" fill="#fff9f9"/>
<rect x="574.37" y="184.29" width="7.47" height="7.96" fill="#a9ffa9"/>
<rect x="581.54" y="184.29" width="7.47" height="7.96" fill="#fff9f9"/>
<rect x="588.71" y="184.29" width="7.47" height="7.96" fill="#ffd8d8"/>
<rect x="595.88" y="184.29" width="7.47" height="7.96" fill="#ffd8d8"/>
<rect x="603.06" y="184.29" width="7.47" height="7.96" fill="#ff1010"/>
<rect x="610.23" y="184.29" width="7.47" height="7.96" fill="#ffd8d8"/>
<rect x="402.25" y="191.96" width="7.47" height="7.96" fill="#ffd8d8"/>
<rect x="409.42" y="191.96" width="7.47" height="7.96" fill="#66ff66"/>
<rect x="416.59" y="191.96" width="7.47" height="7.96" fill="#14ff14"/>
<rect x="423.76" y="191.96" width="7.47" height="7.96" fill="#deffde"/>
<rect x="430.94" y="191.96" width="7.47" height="7.96" fill="#fff9f9"/>
<rect x="438.11" y="191.96" width="7.47" height="7.96" fill="#fff9f9"/>
<rect x="445.28" y="191.96" width="7.47" height="7.96" fill="#deffde"/>
<rect x="452.45" y="191.96" width="7.47" height="7.96" fill="#ff5252"/>
<rect x="459.62" y="191.96" width="7.47" height="7.96" fill="#ffd8d8"/>
<rect x="466.79" y="191.96" width="7.47" height="7.96" fill="#fff9f9"/>
<rect x="473.97" y="191.96" width="7.47" height="7.96" fill="#deffde"/>
<rect x="481.14" y="191.96" width="7.47" height="7.96" fill="#ffafaf"/>
<rect x="488.31" y="191.96" width="7.47" height="7.96" fill="#fff9f9"/>
<rect x="495.48" y="191.96" width="7.47" height="7.96" fill="#ffafaf"/>
<rect x="502.65" y="191.96" width="7.47" height="7.96" fill="#ffd8d8"/>
<rect x="509.82" y="191.96" width="7.47" height="7.96" fill="#deffde"/>
<rect x="517.00" y="191.96" width="7.47" height="7.96" fill="#ff5252"/>
<rect x="524.17" y="191.96" width="7.47" height="7.96" fill="#ffd8d8"/>
<rect x="531.34" y="191.96" width="7.47" height="7.96" fill="#ff8787"/>
<rect x="538.51" y="191.96" width="7.47" height="7.96" fill="#fff9f9"/>
<rect x="545.68" y="191.96" width="7.47" height="7.96" fill="#ffd8d8"/>
<rect x="552.86" y="191.96" width="7.47" height="7.96" fill="#ffd8d8"/>
<rect x="560.03" y="191.96" width="7.47" height="7.96" fill="#66ff66"/>
<rect x="567.20" y="191.96" width="7.47" height="7.96" fill="#ffd8d8"/>
<rect x="574.37" y="191.96" width="7.47" height="7.96" fill="#ffafaf"/>
<rect x="581.54" y="191.96" width="7.47" height="7.96" fill="#ff8787"/>
<rect x="588.71" y="191.96" width="7.47" height="7.96" fill="#ff8787"/>
<rect x="595.88" y="191.96" width="7.47" height="7.96" fill="#ffafaf"/>
<rect x="603.06" y="191.96" width="7.47" height="7.96" fill="#fff9f9"/>
<rect x="610.23" y="191.96" width="7.47" height="7.96" fill="#ffd8d8"/>
<rect x="402.25" y="199.62" width="7.47" height="7.96" fill="#ffd8d8"/>
<rect x="409.42" y="199.62" width="7.47" height="7.96" fill="#66ff66"/>
<rect x="416.59" y="199.62" width="7.47" height="7.96" fill="#a9ffa9"/>
<rect x="423.76" y="199.62" width="7.47" height="7.96" fill="#ffd8d8"/>
<rect x="430.94" y="199.62" width="7.47" height="7.96" fill="#deffde"/>
<rect x="438.11" y="199.62" width="7.47" height="7.96" fill="#deffde"/>
<rect x="445.28" y="199.62" width="7.47" height="7.96" fill="#ffafaf"/>
<rect x="452.45" y="199.62" width="7.47" height="7.96" fill="#ff5252"/>
<rect x="459.62" y="199.62" width="7.47" height="7.96" fill="#ff1010"/>
<rect x="466.79" y="199.62" width="7.47" height="7.96" fill="#deffde"/>
<rect x="473.97" y="199.62" width="7.47" height="7.96" fill="#fff9f9"/>
<rect x="481.14" y="199.62" width="7.47" height="7.96" fill="#ff8787"/>
<rect x="488.31" y="199.62" width="7.47" height="7.96" fill="#ffafaf"/>
<rect x="495.48" y="199.62" width="7.47" height="7.96" fill="#ff5252"/>
<rect x="502.65" y="199.62" width="7.47" height="7.96" fill="#ffd8d8"/>
<rect x="509.82" y="199.62" width="7.47" height="7.96" fill="#ff8787"/>
<rect x="517.00" y="199.62" width="7.47" height="7.96" fill="#ffafaf"/>
<rect x="524.17" y="199.62" width="7.47" height="7.96" fill="#fff9f9"/>
<rect x="531.34" y="199.62" width="7.47" height="7.96" fill="#fff9f9"/>
<rect x="538.51" y="199.62" width="7.47" height="7.96" fill="#ff8787"/>
<rect x="545.68" y="199.62" width="7.47" height="7.96" fill="#ff8787"/>
<rect x="552.86" y="199.62" width="7.47" height="7.96" fill="#ff1010"/>
<rect x="560.03" y="199.62" width="7.47" height="7.96" fill="#fff9f9"/>
<rect x="567.20" y="199.62" width="7.47" height="7.96" fill="#deffde"/>
<rect x="574.37" y="199.62" width="7.47" height="7.96" fill="#ff8787"/>
<rect x="581.54" y="199.62" width="7.47" height="7.96" fill="#ff1010"/>
<rect x="588.71" y="199.62" width="7.47" height="7.96" fill="#ff8787"/>
<rect x="595.88" y="199.62" width="7.47" height="7.96" fill="#deffde"/>
<rect x="603.06" y="199.62" width="7.47" height="7.96" fill="#ff1010"/>
<rect x="610.23" y="199.62" width="7.47" height="7.96" fill="#deffde"/>
<rect x="402.25" y="207.29" width="7.47" height="7.96" fill="#ffafaf"/>
<rect x="409.42" y="207.29" width="7.47" height="7.96" fill="#66ff66"/>
<rect x="416.59" y="207.29" width="7.47" height="7.96" fill="#66ff66"/>
<rect x="423.76" y="207.29" width="7.47" height="7.96" fill="#ffafaf"/>
<rect x="430.94" y="207.29" width="7.47" height="7.96" fill="#fff9f9"/>
<rect x="438.11" y="207.29" width="7.47" height="7.96" fill="#deffde"/>
<rect x="445.28" y="207.29" width="7.47" height="7.96" fill="#ff8787"/>
<rect x="452.45" y="207.29" width="7.47" height="7.96" fill="#ffafaf"/>
<rect x="459.62" y="207.29" width="7.47" height="7.96" fill="#fff9f9"/>
<rect x="466.79" y="207.29" width="7.47" height="7.96" fill="#ffd8d8"/>
<rect x="473.97" y="207.29" width="7.47" height="7.96" fill="#deffde"/>
<rect x="481.14" y="207.29" width="7.47" height="7.96" fill="#deffde"/>
<rect x="488.31" y="207.29" width="7.47" height="7.96" fill="#ffd8d8"/>
<rect x="495.48" y="207.29" width="7.47" height="7.96" fill="#ffd8d8"/>
<rect x="502.65" y="207.29" width="7.47" height="7.96" fill="#ff5252"/>
<rect x="509.82" y="207.29" width="7.47" height="7.96" fill="#ffafaf"/>
<rect x="517.00" y="207.29" width="7.47" height="7.96" fill="#ffafaf"/>
<rect x="524.17" y="207.29" width="7.47" height="7.96" fill="#ffafaf"/>
<rect x="531.34" y="207.29" width="7.47" height="7.96" fill="#ff8787"/>
<rect x="538.51" y="207.29" width="7.47" height="7.96" fill="#ffd8d8"/>
<rect x="545.68" y="207.29" width="7.47" height="7.96" fill="#ffd8d8"/>
<rect x="552.86" y="207.29" width="7.47" height="7.96" fill="#ffd8d8"/>
<rect x="560.03" y="207.29" width="7.47" height="7.96" fill="#fff9f9"/>
<rect x="567.20" y="207.29" width="7.47" height="7.96" fill="#ffd8d8"/>
<rect x="574.37" y="207.29" width="7.47" height="7.96" fill="#ff8787"/>
<rect x="581.54" y="207.29" width="7.47" height="7.96" fill="#ffafaf"/>
<rect x="588.71" y="207.29" width="7.47" height="7.96" fill="#deffde"/>
<rect x="595.88" y="207.29" width="7.47" height="7.96" fill="#ff8787"/>
<rect x="603.06" y="207.29" width="7.47" height="7.96" fill="#ff5252"/>
<rect x="610.23" y="207.29" width="7.47" height="7.96" fill="#ff5252"/>
<rect x="402.25" y="214.96" width="7.47" height="7.96" fill="#ff8787"/>
<rect x="409.42" y="214.96" width="7.47" height="7.96" fill="#a9ffa9"/>
<rect x="416.59" y="214.96" width="7.47" height="7.96" fill="#fff9f9"/>
<rect x="423.76" y="214.96" width="7.47" height="7.96" fill="#ff1010"/>
<rect x="430.94" y="214.96" width="7.47" height="7.96" fill="#deffde"/>
<rect x="438.11" y="214.96" width="7.47" height="7.96" fill="#ff8787"/>
<rect x="445.28" y="214.96" width="7.47" height="7.96" fill="#a9ffa9"/>
<rect x="452.45" y="214.96" width="7.47" height="7.96" fill="#deffde"/>
<rect x="459.62" y="214.96" width="7.47" height="7.96" fill="#deffde"/>
<rect x="466.79" y="214.96" width="7.47" height="7.96" fill="#deffde"/>
<rect x="473.97" y="214.96" width="7.47" height="7.96" fill="#ffafaf"/>
<rect x="481.14" y="214.96" width="7.47" height="7.96" fill="#fff9f9"/>
<rect x="488.31" y="214.96" width="7.47" height="7.96" fill="#fff9f9"/>
<rect x="495.48" y="214.96" width="7.47" height="7.96" fill="#deffde"/>
<rect x="502.65" y="214.96" width="7.47" height="7.96" fill="#ffd8d8"/>
<rect x="509.82" y="214.96" width="7.47" height="7.96" fill="#ffafaf"/>
<rect x="517.00" y="214.96" width="7.47" height="7.96" fill="#deffde"/>
<rect x="524.17" y="214.96" width="7.47" height="7.96" fill="#ffd8d8"/>
<rect x="531.34" y="214.96" width="7.47" height="7.96" fill="#fff9f9"/>
<rect x="538.51" y="214.96" width="7.47" height="7.96" fill="#ff8787"/>
<rect x="545.68" y="214.96" width="7.47" height="7.96" fill="#66ff66"/>
<rect x="552.86" y="214.96" width="7.47" height="7.96" fill="#ff1010"/>
<rect x="560.03" y="214.96" width="7.47" height="7.96" fill="#ff1010"/>
<rect x="567.20" y="214.96" width="7.47" height="7.96" fill="#ffd8d8"/>
<rect x="574.37" y="214.96" width="7.47" height="7.96" fill="#ffd8d8"/>
<rect x="581.54" y="214.96" width="7.47" height="7.96" fill="#ffafaf"/>
<rect x="588.71" y="214.96" width="7.47" height="7.96" fill="#deffde"/>
<rect x="595.88" y="214.96" width="7.47" height="7.96" fill="#fff9f9"/>
<rect x="603.06" y="214.96" width="7.47" height="7.96" fill="#ff1010"/>
<rect x="610.23" y="214.96" width="7.47" height="7.96" fill="#ffd8d8"/>
<rect x="402.25" y="222.62" width="7.47" height="7.96" fill="#ff8787"/>
<rect x="409.42" y="222.62" width="7.47" height="7.96" fill="#fff9f9"/>
<rect x="416.59" y="222.62" width="7.47" height="7.96" fill="#ffd8d8"/>
<rect x="423.76" y="222.62" width="7.47" height="7.96" fill="#ff8787"/>
<rect x="430.94" y="222.62" width="7.47" height="7.96" fill="#deffde"/>
<rect x="438.11" y="222.62" width="7.47" height="7.96" fill="#fff9f9"/>
<rect x="445.28" y="222.62" width="7.47" height="7.96" fill="#a9ffa9"/>
<rect x="452.45" y="222.62" width="7.47" height="7.96" fill="#ffafaf"/>
<rect x="459.62" y="222.62" width="7.47" height="7.96" fill="#ff1010"/>
<rect x="466.79" y="222.62" width="7.47" height="7.96" fill="#ffd8d8"/>
<rect x="473.97" y="222.62" width="7.47" height="7.96" fill="#ffd8d8"/>
<rect x="481.14" y="222.62" width="7.47" height="7.96" fill="#ff5252"/>
<rect x="488.31" y="222.62" width="7.47" height="7.96" fill="#ff8787"/>
<rect x="495.48" y="222.62" width="7.47" height="7.96" fill="#ffd8d8"/>
<rect x="502.65" y="222.62" width="7.47" height="7.96" fill="#fff9f9"/>
<rect x="509.82" y="222.62" width="7.47" height="7.96" fill="#fff9f9"/>
<rect x="517.00" y="222.62" width="7.47" height="7.96" fill="#ffafaf"/>
<rect x="524.17" y="222.62" width="7.47" height="7.96" fill="#fff9f9"/>
<rect x="531.34" y="222.62" width="7.47" height="7.96" fill="#a9ffa9"/>
<rect x="538.51" y="222.62" width="7.47" height="7.96" fill="#ffd8d8"/>
<rect x="545.68" y="222.62" width="7.47" height="7.96" fill="#ff5252"/>
<rect x="552.86" y="222.62" width="7.47" height="7.96" fill="#ffafaf"/>
<rect x="560.03" y="222.62" width="7.47" height="7.96" fill="#fff9f9"/>
<rect x="567.20" y="222.62" width="7.47" height="7.96" fill="#fff9f9"/>
<rect x="574.37" y="222.62" width="7.47" height="7.96" fill="#ffafaf"/>
<rect x="581.54" y="222.62" width="7.47" height="7.96" fill="#ffafaf"/>
<rect x="588.71" y="222.62" width="7.47" height="7.96" fill="#deffde"/>
<rect x="595.88" y="222.62" width="7.47" height="7.96" fill="#ffd8d8"/>
<rect x="603.06" y="222.62" width="7.47" height="7.96" fill="#fff9f9"/>
<rect x="610.23" y="222.62" width="7.47" height="7.96" fill="#ffafaf"/>
<rect x="402.25" y="230.28" width="7.47" height="7.96" fill="#fff9f9"/>
<rect x="409.42" y="230.28" width="7.47" height="7.96" fill="#deffde"/>
<rect x="416.59" y="230.28" width="7.47" height="7.96" fill="#ffd8d8"/>
<rect x="423.76" y="230.28" width="7.47" height="7.96" fill="#fff9f9"/>
<rect x="430.94" y="230.28" width="7.47" height="7.96" fill="#fff9f9"/>
<rect x="438.11" y="230.28" width="7.47" height="7.96" fill="#ffd8d8"/>
<rect x="445.28" y="230.28" width="7.47" height="7.96" fill="#ffd8d8"/>
<rect x="452.45" y="230.28" width="7.47" height="7.96" fill="#ff8787"/>
<rect x="459.62" y="230.28" width="7.47" height="7.96" fill="#ffafaf"/>
<rect x="466.79" y="230.28" width="7.47" height="7.96" fill="#ffafaf"/>
<rect x="473.97" y="230.28" width="7.47" height="7.96" fill="#ffafaf"/>
<rect x="481.14" y="230.28" width="7.47" height="7.96" fill="#ffafaf"/>
<rect x="488.31" y="230.28" width="7.47" height="7.96" fill="#fff9f9"/>
<rect x="495.48" y="230.28" width="7.47" height="7.96" fill="#66ff66"/>
<rect x="502.65" y="230.28" width="7.47" height="7.96" fill="#fff9f9"/>
<rect x="509.82" y="230.28" width="7.47" height="7.96" fill="#ffd8d8"/>
<rect x="517.00" y="230.28" width="7.47" height="7.96" fill="#fff9f9"/>
<rect x="524.17" y="230.28" width="7.47" height="7.96" fill="#deffde"/>
<rect x="531.34" y="230.28" width="7.47" height="7.96" fill="#fff9f9"/>
<rect x="538.51" y="230.28" width="7.47" height="7.96" fill="#ff1010"/>
<rect x="545.68" y="230.28" width="7.47" height="7.96" fill="#ffafaf"/>
<rect x="552.86" y="230.28" width="7.47" height="7.96" fill="#deffde"/>
<rect x="560.03" y="230.28" width="7.47" height="7.96" fill="#ff1010"/>
<rect x="567.20" y="230.28" width="7.47" height="7.96" fill="#ff5252"/>
<rect x="574.37" y="230.28" width="7.47" height="7.96" fill="#ffd8d8"/>
<rect x="581.54" y="230.28" width="7.47" height="7.96" fill="#ffd8d8"/>
<rect x="588.71" y="230.28" width="7.47" height="7.96" fill="#ff5252"/>
<rect x="595.88" y="230.28" width="7.47" height="7.96" fill="#ffafaf"/>
<rect x="603.06" y="230.28" width="7.47" height="7.96" fill="#fff9f9"/>
<rect x="610.23" y="230.28" width="7.47" height="7.96" fill="#ff1010"/>
</g>
<rect x="401.45" y="7.20" width="216.75" height="231.55" fill="none" stroke="#000" stroke-width="1.6"/>
<defs><linearGradient id="cbA" x1="0" y1="1" x2="0" y2="0">
<stop offset="0" stop-color="#ff0000"/><stop offset="0.5" stop-color="#ffffff"/><stop offset="1" stop-color="#00f000"/>
</linearGradient></defs>
<rect x="276.80" y="79.00" width="12.45" height="159.60" fill="url(#cbA)" stroke="#000" stroke-width="1.6"/>
<line x1="289.25" y1="238.00" x2="295.65" y2="238.00" stroke="#000" stroke-width="1.4"/>
<text x="297.25" y="246.30" font-family="Liberation Sans, sans-serif" font-size="23.5">10</text>
<line x1="289.25" y1="206.36" x2="295.65" y2="206.36" stroke="#000" stroke-width="1.4"/>
<line x1="289.25" y1="174.72" x2="295.65" y2="174.72" stroke="#000" stroke-width="1.4"/>
<text x="297.25" y="183.02" font-family="Liberation Sans, sans-serif" font-size="23.5">20</text>
<line x1="289.25" y1="143.08" x2="295.65" y2="143.08" stroke="#000" stroke-width="1.4"/>
<line x1="289.25" y1="111.44" x2="295.65" y2="111.44" stroke="#000" stroke-width="1.4"/>
<text x="297.25" y="119.74" font-family="Liberation Sans, sans-serif" font-size="23.5">30</text>
<line x1="289.25" y1="79.80" x2="295.65" y2="79.80" stroke="#000" stroke-width="1.4"/>
<text transform="translate(331.50,114) rotate(90)" font-family="Liberation Sans, sans-serif" font-size="24.8">tilt angle (°)</text>
<defs><linearGradient id="cbB" x1="0" y1="1" x2="0" y2="0">
<stop offset="0" stop-color="#ff0000"/><stop offset="0.5" stop-color="#ffffff"/><stop offset="1" stop-color="#00f000"/>
</linearGradient></defs>
<rect x="624.00" y="79.60" width="12.45" height="159.20" fill="url(#cbB)" stroke="#000" stroke-width="1.6"/>
<line x1="636.45" y1="238.00" x2="642.85" y2="238.00" stroke="#000" stroke-width="1.4"/>
<text x="644.45" y="246.30" font-family="Liberation Sans, sans-serif" font-size="23.5">10</text>
<line x1="636.45" y1="206.48" x2="642.85" y2="206.48" stroke="#000" stroke-width="1.4"/>
<line x1="636.45" y1="174.96" x2="642.85" y2="174.96" stroke="#000" stroke-width="1.4"/>
<text x="644.45" y="183.26" font-family="Liberation Sans, sans-serif" font-size="23.5">20</text>
<line x1="636.45" y1="143.44" x2="642.85" y2="143.44" stroke="#000" stroke-width="1.4"/>
<line x1="636.45" y1="111.92" x2="642.85" y2="111.92" stroke="#000" stroke-width="1.4"/>
<text x="644.45" y="120.22" font-family="Liberation Sans, sans-serif" font-size="23.5">30</text>
<line x1="636.45" y1="80.40" x2="642.85" y2="80.40" stroke="#000" stroke-width="1.4"/>
<text transform="translate(678.50,114) rotate(90)" font-family="Liberation Sans, sans-serif" font-size="24.8">tilt angle (°)</text>
<rect x="229.10" y="23.3" width="20.9" height="2.6" fill="#000"/>
<text transform="translate(217.80,42.7) scale(0.74,1)" font-family="Liberation Serif, serif" font-weight="bold" font-size="26">1</text>
<text transform="translate(235.80,42.7) scale(0.92,1)" font-family="Liberation Serif, serif" font-weight="bold" font-size="23">μm</text>
<rect x="573.30" y="23.3" width="20.9" height="2.6" fill="#000"/>
<text transform="translate(562.00,42.7) scale(0.74,1)" font-family="Liberation Serif, serif" font-weight="bold" font-size="26">1</text>
<text transform="translate(580.00,42.7) scale(0.92,1)" font-family="Liberation Serif, serif" font-weight="bold" font-size="23">μm</text>
<line x1="76.00" y1="330.00" x2="76.00" y2="468.30" stroke="#000" stroke-width="1.4"/>
<line x1="76.30" y1="467.60" x2="336.10" y2="467.60" stroke="#000" stroke-width="1.6"/>
<line x1="69.80" y1="467.60" x2="76.00" y2="467.60" stroke="#000" stroke-width="1.4"/>
<line x1="69.80" y1="442.15" x2="76.00" y2="442.15" stroke="#000" stroke-width="1.4"/>
<line x1="69.80" y1="416.70" x2="76.00" y2="416.70" stroke="#000" stroke-width="1.4"/>
<line x1="69.80" y1="391.25" x2="76.00" y2="391.25" stroke="#000" stroke-width="1.4"/>
<line x1="69.80" y1="365.80" x2="76.00" y2="365.80" stroke="#000" stroke-width="1.4"/>
<line x1="69.80" y1="340.35" x2="76.00" y2="340.35" stroke="#000" stroke-width="1.4"/>
<line x1="77.00" y1="467.60" x2="77.00" y2="473.90" stroke="#000" stroke-width="1.4"/>
<line x1="141.60" y1="467.60" x2="141.60" y2="473.90" stroke="#000" stroke-width="1.4"/>
<line x1="206.20" y1="467.60" x2="206.20" y2="473.90" stroke="#000" stroke-width="1.4"/>
<line x1="270.80" y1="467.60" x2="270.80" y2="473.90" stroke="#000" stroke-width="1.4"/>
<line x1="335.40" y1="467.60" x2="335.40" y2="473.90" stroke="#000" stroke-width="1.4"/>
<text x="70.00" y="476.10" font-family="Liberation Sans, sans-serif" font-size="23.7" text-anchor="end">0</text>
<text x="70.00" y="425.20" font-family="Liberation Sans, sans-serif" font-size="23.7" text-anchor="end">40</text>
<text x="70.00" y="374.30" font-family="Liberation Sans, sans-serif" font-size="23.7" text-anchor="end">80</text>
<text x="77.00" y="493.40" font-family="Liberation Sans, sans-serif" font-size="23.7" text-anchor="middle">0</text>
<text x="141.60" y="493.40" font-family="Liberation Sans, sans-serif" font-size="23.7" text-anchor="middle">10</text>
<text x="206.20" y="493.40" font-family="Liberation Sans, sans-serif" font-size="23.7" text-anchor="middle">20</text>
<text x="270.80" y="493.40" font-family="Liberation Sans, sans-serif" font-size="23.7" text-anchor="middle">30</text>
<text x="335.40" y="493.40" font-family="Liberation Sans, sans-serif" font-size="23.7" text-anchor="middle">40</text>
<line x1="77.80" y1="466.00" x2="336.20" y2="466.00" stroke="#b02020" stroke-width="1.8"/>
<rect x="110.10" y="464.73" width="6.46" height="1.27" fill="#fff" stroke="#dc2020" stroke-width="1.60"/>
<rect x="129.48" y="460.91" width="6.46" height="5.09" fill="#fff" stroke="#dc2020" stroke-width="1.60"/>
<rect x="135.94" y="459.64" width="6.46" height="6.36" fill="#fff" stroke="#dc2020" stroke-width="1.60"/>
<rect x="142.40" y="453.27" width="6.46" height="12.72" fill="#fff" stroke="#dc2020" stroke-width="1.60"/>
<rect x="148.86" y="458.37" width="6.46" height="7.63" fill="#fff" stroke="#dc2020" stroke-width="1.60"/>
<rect x="155.32" y="440.55" width="6.46" height="25.45" fill="#fff" stroke="#dc2020" stroke-width="1.60"/>
<rect x="161.78" y="432.92" width="6.46" height="33.09" fill="#fff" stroke="#dc2020" stroke-width="1.60"/>
<rect x="168.24" y="415.10" width="6.46" height="50.90" fill="#fff" stroke="#dc2020" stroke-width="1.60"/>
<rect x="174.70" y="397.28" width="6.46" height="68.72" fill="#fff" stroke="#dc2020" stroke-width="1.60"/>
<rect x="181.16" y="374.38" width="6.46" height="91.62" fill="#fff" stroke="#dc2020" stroke-width="1.60"/>
<rect x="187.62" y="347.66" width="6.46" height="118.34" fill="#fff" stroke="#dc2020" stroke-width="1.60"/>
<rect x="194.08" y="329.84" width="6.46" height="136.16" fill="#fff" stroke="#dc2020" stroke-width="1.60"/>
<rect x="200.54" y="329.84" width="6.46" height="136.16" fill="#fff" stroke="#dc2020" stroke-width="1.60"/>
<rect x="207.00" y="338.75" width="6.46" height="127.25" fill="#fff" stroke="#dc2020" stroke-width="1.60"/>
<rect x="213.46" y="351.48" width="6.46" height="114.52" fill="#fff" stroke="#dc2020" stroke-width="1.60"/>
<rect x="219.92" y="389.65" width="6.46" height="76.35" fill="#fff" stroke="#dc2020" stroke-width="1.60"/>
<rect x="226.38" y="413.83" width="6.46" height="52.17" fill="#fff" stroke="#dc2020" stroke-width="1.60"/>
<rect x="232.84" y="435.46" width="6.46" height="30.54" fill="#fff" stroke="#dc2020" stroke-width="1.60"/>
<rect x="239.30" y="457.09" width="6.46" height="8.91" fill="#fff" stroke="#dc2020" stroke-width="1.60"/>
<rect x="245.76" y="459.64" width="6.46" height="6.36" fill="#fff" stroke="#dc2020" stroke-width="1.60"/>
<rect x="252.22" y="460.91" width="6.46" height="5.09" fill="#fff" stroke="#dc2020" stroke-width="1.60"/>
<rect x="258.68" y="464.73" width="6.46" height="1.27" fill="#fff" stroke="#dc2020" stroke-width="1.60"/>
<rect x="290.98" y="464.73" width="6.46" height="1.27" fill="#fff" stroke="#dc2020" stroke-width="1.60"/>
<line x1="437.50" y1="319.40" x2="437.50" y2="466.30" stroke="#000" stroke-width="1.4"/>
<line x1="437.30" y1="465.60" x2="687.90" y2="465.60" stroke="#000" stroke-width="1.6"/>
<line x1="431.30" y1="465.60" x2="437.50" y2="465.60" stroke="#000" stroke-width="1.4"/>
<line x1="431.30" y1="437.40" x2="437.50" y2="437.40" stroke="#000" stroke-width="1.4"/>
<line x1="431.30" y1="409.20" x2="437.50" y2="409.20" stroke="#000" stroke-width="1.4"/>
<line x1="431.30" y1="381.00" x2="437.50" y2="381.00" stroke="#000" stroke-width="1.4"/>
<line x1="431.30" y1="352.80" x2="437.50" y2="352.80" stroke="#000" stroke-width="1.4"/>
<line x1="431.30" y1="324.60" x2="437.50" y2="324.60" stroke="#000" stroke-width="1.4"/>
<line x1="438.00" y1="465.60" x2="438.00" y2="471.60" stroke="#000" stroke-width="1.4"/>
<line x1="500.30" y1="465.60" x2="500.30" y2="471.60" stroke="#000" stroke-width="1.4"/>
<line x1="562.60" y1="465.60" x2="562.60" y2="471.60" stroke="#000" stroke-width="1.4"/>
<line x1="624.90" y1="465.60" x2="624.90" y2="471.60" stroke="#000" stroke-width="1.4"/>
<line x1="687.20" y1="465.60" x2="687.20" y2="471.60" stroke="#000" stroke-width="1.4"/>
<text x="431.00" y="474.10" font-family="Liberation Sans, sans-serif" font-size="23.7" text-anchor="end">0</text>
<text x="431.00" y="417.70" font-family="Liberation Sans, sans-serif" font-size="23.7" text-anchor="end">40</text>
<text x="431.00" y="361.30" font-family="Liberation Sans, sans-serif" font-size="23.7" text-anchor="end">80</text>
<text x="438.00" y="491.40" font-family="Liberation Sans, sans-serif" font-size="23.7" text-anchor="middle">0</text>
<text x="500.30" y="491.40" font-family="Liberation Sans, sans-serif" font-size="23.7" text-anchor="middle">10</text>
<text x="562.60" y="491.40" font-family="Liberation Sans, sans-serif" font-size="23.7" text-anchor="middle">20</text>
<text x="624.90" y="491.40" font-family="Liberation Sans, sans-serif" font-size="23.7" text-anchor="middle">30</text>
<text x="687.20" y="491.40" font-family="Liberation Sans, sans-serif" font-size="23.7" text-anchor="middle">40</text>
<line x1="445.03" y1="464.00" x2="688.00" y2="464.00" stroke="#4a8020" stroke-width="1.8"/>
<rect x="469.95" y="461.18" width="6.23" height="2.82" fill="#fff" stroke="#5aa02a" stroke-width="1.60"/>
<rect x="476.18" y="459.77" width="6.23" height="4.23" fill="#fff" stroke="#5aa02a" stroke-width="1.60"/>
<rect x="482.41" y="455.54" width="6.23" height="8.46" fill="#fff" stroke="#5aa02a" stroke-width="1.60"/>
<rect x="488.64" y="449.90" width="6.23" height="14.10" fill="#fff" stroke="#5aa02a" stroke-width="1.60"/>
<rect x="494.87" y="461.18" width="6.23" height="2.82" fill="#fff" stroke="#5aa02a" stroke-width="1.60"/>
<rect x="501.10" y="455.54" width="6.23" height="8.46" fill="#fff" stroke="#5aa02a" stroke-width="1.60"/>
<rect x="507.33" y="457.65" width="6.23" height="6.34" fill="#fff" stroke="#5aa02a" stroke-width="1.60"/>
<rect x="513.56" y="430.16" width="6.23" height="33.84" fill="#fff" stroke="#5aa02a" stroke-width="1.60"/>
<rect x="519.79" y="442.85" width="6.23" height="21.15" fill="#fff" stroke="#5aa02a" stroke-width="1.60"/>
<rect x="526.02" y="432.98" width="6.23" height="31.02" fill="#fff" stroke="#5aa02a" stroke-width="1.60"/>
<rect x="532.25" y="416.76" width="6.23" height="47.23" fill="#fff" stroke="#5aa02a" stroke-width="1.60"/>
<rect x="538.48" y="413.24" width="6.23" height="50.76" fill="#fff" stroke="#5aa02a" stroke-width="1.60"/>
<rect x="544.71" y="372.35" width="6.23" height="91.65" fill="#fff" stroke="#5aa02a" stroke-width="1.60"/>
<rect x="550.94" y="366.71" width="6.23" height="97.29" fill="#fff" stroke="#5aa02a" stroke-width="1.60"/>
<rect x="557.17" y="351.20" width="6.23" height="112.80" fill="#fff" stroke="#5aa02a" stroke-width="1.60"/>
<rect x="563.40" y="356.84" width="6.23" height="107.16" fill="#fff" stroke="#5aa02a" stroke-width="1.60"/>
<rect x="569.63" y="346.97" width="6.23" height="117.03" fill="#fff" stroke="#5aa02a" stroke-width="1.60"/>
<rect x="575.86" y="318.77" width="6.23" height="145.23" fill="#fff" stroke="#5aa02a" stroke-width="1.60"/>
<rect x="582.09" y="372.35" width="6.23" height="91.65" fill="#fff" stroke="#5aa02a" stroke-width="1.60"/>
<rect x="588.32" y="381.51" width="6.23" height="82.48" fill="#fff" stroke="#5aa02a" stroke-width="1.60"/>
<rect x="594.55" y="428.05" width="6.23" height="35.95" fill="#fff" stroke="#5aa02a" stroke-width="1.60"/>
<rect x="600.78" y="422.55" width="6.23" height="41.45" fill="#fff" stroke="#5aa02a" stroke-width="1.60"/>
<rect x="607.01" y="435.24" width="6.23" height="28.76" fill="#fff" stroke="#5aa02a" stroke-width="1.60"/>
<rect x="613.24" y="443.56" width="6.23" height="20.45" fill="#fff" stroke="#5aa02a" stroke-width="1.60"/>
<rect x="619.47" y="455.82" width="6.23" height="8.18" fill="#fff" stroke="#5aa02a" stroke-width="1.60"/>
<rect x="625.70" y="454.69" width="6.23" height="9.31" fill="#fff" stroke="#5aa02a" stroke-width="1.60"/>
<rect x="631.93" y="460.19" width="6.23" height="3.81" fill="#fff" stroke="#5aa02a" stroke-width="1.60"/>
<rect x="650.62" y="462.03" width="6.23" height="1.97" fill="#fff" stroke="#5aa02a" stroke-width="1.60"/>
<line x1="74.90" y1="552.20" x2="74.90" y2="688.40" stroke="#000" stroke-width="1.4"/>
<line x1="75.70" y1="687.70" x2="332.40" y2="687.70" stroke="#000" stroke-width="1.6"/>
<line x1="70.70" y1="687.70" x2="74.90" y2="687.70" stroke="#000" stroke-width="1.4"/>
<line x1="70.70" y1="666.10" x2="74.90" y2="666.10" stroke="#000" stroke-width="1.4"/>
<line x1="70.70" y1="644.50" x2="74.90" y2="644.50" stroke="#000" stroke-width="1.4"/>
<line x1="70.70" y1="622.90" x2="74.90" y2="622.90" stroke="#000" stroke-width="1.4"/>
<line x1="70.70" y1="601.30" x2="74.90" y2="601.30" stroke="#000" stroke-width="1.4"/>
<line x1="70.70" y1="579.70" x2="74.90" y2="579.70" stroke="#000" stroke-width="1.4"/>
<line x1="70.70" y1="558.10" x2="74.90" y2="558.10" stroke="#000" stroke-width="1.4"/>
<line x1="76.40" y1="687.70" x2="76.40" y2="691.70" stroke="#000" stroke-width="1.4"/>
<line x1="118.95" y1="687.70" x2="118.95" y2="691.70" stroke="#000" stroke-width="1.4"/>
<line x1="161.50" y1="687.70" x2="161.50" y2="691.70" stroke="#000" stroke-width="1.4"/>
<line x1="204.05" y1="687.70" x2="204.05" y2="691.70" stroke="#000" stroke-width="1.4"/>
<line x1="246.60" y1="687.70" x2="246.60" y2="691.70" stroke="#000" stroke-width="1.4"/>
<line x1="289.15" y1="687.70" x2="289.15" y2="691.70" stroke="#000" stroke-width="1.4"/>
<line x1="331.70" y1="687.70" x2="331.70" y2="691.70" stroke="#000" stroke-width="1.4"/>
<text x="69.40" y="696.20" font-family="Liberation Sans, sans-serif" font-size="23.7" text-anchor="end">0</text>
<text x="69.40" y="653.00" font-family="Liberation Sans, sans-serif" font-size="23.7" text-anchor="end">100</text>
<text x="69.40" y="609.80" font-family="Liberation Sans, sans-serif" font-size="23.7" text-anchor="end">200</text>
<text x="69.40" y="566.60" font-family="Liberation Sans, sans-serif" font-size="23.7" text-anchor="end">300</text>
<text x="73.00" y="711.50" font-family="Liberation Sans, sans-serif" font-size="23.7" text-anchor="middle">0</text>
<text x="164.70" y="711.50" font-family="Liberation Sans, sans-serif" font-size="23.7" text-anchor="middle">10</text>
<text x="249.20" y="711.50" font-family="Liberation Sans, sans-serif" font-size="23.7" text-anchor="middle">20</text>
<text x="333.20" y="711.50" font-family="Liberation Sans, sans-serif" font-size="23.7" text-anchor="middle">30</text>
<line x1="76.90" y1="686.10" x2="332.20" y2="686.10" stroke="#d02828" stroke-width="1.8"/>
<rect x="76.90" y="552.57" width="8.51" height="133.53" fill="#fff" stroke="#dc2020" stroke-width="1.60"/>
<rect x="85.41" y="567.69" width="8.51" height="118.41" fill="#fff" stroke="#dc2020" stroke-width="1.60"/>
<rect x="93.92" y="576.76" width="8.51" height="109.34" fill="#fff" stroke="#dc2020" stroke-width="1.60"/>
<rect x="102.43" y="594.90" width="8.51" height="91.20" fill="#fff" stroke="#dc2020" stroke-width="1.60"/>
<rect x="110.94" y="615.21" width="8.51" height="70.89" fill="#fff" stroke="#dc2020" stroke-width="1.60"/>
<rect x="119.45" y="627.74" width="8.51" height="58.36" fill="#fff" stroke="#dc2020" stroke-width="1.60"/>
<rect x="127.96" y="637.67" width="8.51" height="48.43" fill="#fff" stroke="#dc2020" stroke-width="1.60"/>
<rect x="136.47" y="652.36" width="8.51" height="33.74" fill="#fff" stroke="#dc2020" stroke-width="1.60"/>
<rect x="144.98" y="664.89" width="8.51" height="21.21" fill="#fff" stroke="#dc2020" stroke-width="1.60"/>
<rect x="153.49" y="672.23" width="8.51" height="13.87" fill="#fff" stroke="#dc2020" stroke-width="1.60"/>
<rect x="162.00" y="674.82" width="8.51" height="11.28" fill="#fff" stroke="#dc2020" stroke-width="1.60"/>
<rect x="170.51" y="678.71" width="8.51" height="7.39" fill="#fff" stroke="#dc2020" stroke-width="1.60"/>
<rect x="179.02" y="682.60" width="8.51" height="3.50" fill="#fff" stroke="#dc2020" stroke-width="1.60"/>
<rect x="187.53" y="684.76" width="8.51" height="1.34" fill="#fff" stroke="#dc2020" stroke-width="1.60"/>
<rect x="196.04" y="685.88" width="8.51" height="0.22" fill="#fff" stroke="#dc2020" stroke-width="1.60"/>
<line x1="433.40" y1="551.50" x2="433.40" y2="685.60" stroke="#000" stroke-width="1.4"/>
<line x1="432.90" y1="684.90" x2="686.75" y2="684.90" stroke="#000" stroke-width="1.6"/>
<line x1="427.20" y1="684.90" x2="433.40" y2="684.90" stroke="#000" stroke-width="1.4"/>
<line x1="427.20" y1="663.83" x2="433.40" y2="663.83" stroke="#000" stroke-width="1.4"/>
<line x1="427.20" y1="642.77" x2="433.40" y2="642.77" stroke="#000" stroke-width="1.4"/>
<line x1="427.20" y1="621.70" x2="433.40" y2="621.70" stroke="#000" stroke-width="1.4"/>
<line x1="427.20" y1="600.64" x2="433.40" y2="600.64" stroke="#000" stroke-width="1.4"/>
<line x1="427.20" y1="579.57" x2="433.40" y2="579.57" stroke="#000" stroke-width="1.4"/>
<line x1="427.20" y1="558.51" x2="433.40" y2="558.51" stroke="#000" stroke-width="1.4"/>
<line x1="433.60" y1="684.90" x2="433.60" y2="689.90" stroke="#000" stroke-width="1.4"/>
<line x1="475.68" y1="684.90" x2="475.68" y2="689.90" stroke="#000" stroke-width="1.4"/>
<line x1="517.75" y1="684.90" x2="517.75" y2="689.90" stroke="#000" stroke-width="1.4"/>
<line x1="559.83" y1="684.90" x2="559.83" y2="689.90" stroke="#000" stroke-width="1.4"/>
<line x1="601.90" y1="684.90" x2="601.90" y2="689.90" stroke="#000" stroke-width="1.4"/>
<line x1="643.98" y1="684.90" x2="643.98" y2="689.90" stroke="#000" stroke-width="1.4"/>
<line x1="686.05" y1="684.90" x2="686.05" y2="689.90" stroke="#000" stroke-width="1.4"/>
<text x="426.60" y="693.40" font-family="Liberation Sans, sans-serif" font-size="23.7" text-anchor="end">0</text>
<text x="426.60" y="651.27" font-family="Liberation Sans, sans-serif" font-size="23.7" text-anchor="end">100</text>
<text x="426.60" y="609.14" font-family="Liberation Sans, sans-serif" font-size="23.7" text-anchor="end">200</text>
<text x="426.60" y="567.01" font-family="Liberation Sans, sans-serif" font-size="23.7" text-anchor="end">300</text>
<text x="433.60" y="710.70" font-family="Liberation Sans, sans-serif" font-size="23.7" text-anchor="middle">0</text>
<text x="522.45" y="710.70" font-family="Liberation Sans, sans-serif" font-size="23.7" text-anchor="middle">10</text>
<text x="601.90" y="710.70" font-family="Liberation Sans, sans-serif" font-size="23.7" text-anchor="middle">20</text>
<text x="686.05" y="710.70" font-family="Liberation Sans, sans-serif" font-size="23.7" text-anchor="middle">30</text>
<line x1="435.20" y1="683.30" x2="687.65" y2="683.30" stroke="#58a020" stroke-width="1.8"/>
<rect x="435.20" y="589.81" width="8.41" height="93.49" fill="#fff" stroke="#6cc428" stroke-width="1.60"/>
<rect x="443.62" y="587.71" width="8.41" height="95.59" fill="#fff" stroke="#6cc428" stroke-width="1.60"/>
<rect x="452.03" y="602.03" width="8.41" height="81.27" fill="#fff" stroke="#6cc428" stroke-width="1.60"/>
<rect x="460.45" y="607.09" width="8.41" height="76.21" fill="#fff" stroke="#6cc428" stroke-width="1.60"/>
<rect x="468.86" y="606.24" width="8.41" height="77.06" fill="#fff" stroke="#6cc428" stroke-width="1.60"/>
<rect x="477.28" y="634.05" width="8.41" height="49.25" fill="#fff" stroke="#6cc428" stroke-width="1.60"/>
<rect x="485.69" y="629.42" width="8.41" height="53.88" fill="#fff" stroke="#6cc428" stroke-width="1.60"/>
<rect x="494.11" y="641.63" width="8.41" height="41.67" fill="#fff" stroke="#6cc428" stroke-width="1.60"/>
<rect x="502.52" y="648.80" width="8.41" height="34.50" fill="#fff" stroke="#6cc428" stroke-width="1.60"/>
<rect x="510.94" y="654.69" width="8.41" height="28.61" fill="#fff" stroke="#6cc428" stroke-width="1.60"/>
<rect x="519.35" y="664.80" width="8.41" height="18.50" fill="#fff" stroke="#6cc428" stroke-width="1.60"/>
<rect x="527.77" y="672.39" width="8.41" height="10.91" fill="#fff" stroke="#6cc428" stroke-width="1.60"/>
<rect x="536.18" y="672.81" width="8.41" height="10.49" fill="#fff" stroke="#6cc428" stroke-width="1.60"/>
<rect x="544.60" y="675.76" width="8.41" height="7.54" fill="#fff" stroke="#6cc428" stroke-width="1.60"/>
<rect x="553.01" y="675.34" width="8.41" height="7.96" fill="#fff" stroke="#6cc428" stroke-width="1.60"/>
<rect x="561.43" y="677.44" width="8.41" height="5.86" fill="#fff" stroke="#6cc428" stroke-width="1.60"/>
<rect x="569.84" y="680.39" width="8.41" height="2.91" fill="#fff" stroke="#6cc428" stroke-width="1.60"/>
<rect x="578.25" y="682.92" width="8.41" height="0.38" fill="#fff" stroke="#6cc428" stroke-width="1.60"/>
<rect x="586.67" y="682.50" width="8.41" height="0.80" fill="#fff" stroke="#6cc428" stroke-width="1.60"/>
<rect x="595.09" y="682.96" width="8.41" height="0.34" fill="#fff" stroke="#6cc428" stroke-width="1.60"/>
<rect x="603.50" y="682.50" width="8.41" height="0.80" fill="#fff" stroke="#6cc428" stroke-width="1.60"/>
<rect x="628.75" y="682.96" width="8.41" height="0.34" fill="#fff" stroke="#6cc428" stroke-width="1.60"/>
<text x="119.50" y="297.80" font-family="Liberation Sans, sans-serif" font-size="19.35">average angle: 18.78°</text>
<text x="119.50" y="322.90" font-family="Liberation Sans, sans-serif" font-size="19.35">deviation: 3.53°</text>
<text x="493.60" y="291.40" font-family="Liberation Sans, sans-serif" font-size="19.35">average angle: 20.22°</text>
<text x="493.60" y="316.40" font-family="Liberation Sans, sans-serif" font-size="19.35">deviation: 4.75°</text>
<text x="139.70" y="583.50" font-family="Liberation Sans, sans-serif" font-size="19.35">average angle: 3.75°</text>
<text x="139.70" y="608.30" font-family="Liberation Sans, sans-serif" font-size="19.35">deviation: 2.95°</text>
<text x="507.40" y="584.20" font-family="Liberation Sans, sans-serif" font-size="19.35">average angle: 5.20°</text>
<text x="507.40" y="608.60" font-family="Liberation Sans, sans-serif" font-size="19.35">deviation: 4.36°</text>
<text transform="translate(33.80,391.00) rotate(-90)" font-family="Liberation Sans, sans-serif" font-size="25.60" text-anchor="middle">count</text>
<text transform="translate(396.60,387.90) rotate(-90)" font-family="Liberation Sans, sans-serif" font-size="25.60" text-anchor="middle">count</text>
<text transform="translate(27.20,623.00) rotate(-90)" font-family="Liberation Sans, sans-serif" font-size="25.60" text-anchor="middle">count</text>
<text transform="translate(387.20,623.50) rotate(-90)" font-family="Liberation Sans, sans-serif" font-size="25.60" text-anchor="middle">count</text>
<text x="161.00" y="517.50" font-family="Liberation Sans, sans-serif" font-size="22.00">tilt angle (°)</text>
<text x="517.10" y="517.80" font-family="Liberation Sans, sans-serif" font-size="22.00">tilt angle (°)</text>
<text x="57.00" y="731.90" font-family="Liberation Sans, sans-serif" font-size="22.40">variation of tilt angle between</text>
<text x="57.00" y="760.40" font-family="Liberation Sans, sans-serif" font-size="22.40">adjacent molecules (°)</text>
<text x="408.30" y="731.40" font-family="Liberation Sans, sans-serif" font-size="22.40">variation of tilt angle between</text>
<text x="408.30" y="759.60" font-family="Liberation Sans, sans-serif" font-size="22.40">adjacent molecules (°)</text>
</svg></body></html>
